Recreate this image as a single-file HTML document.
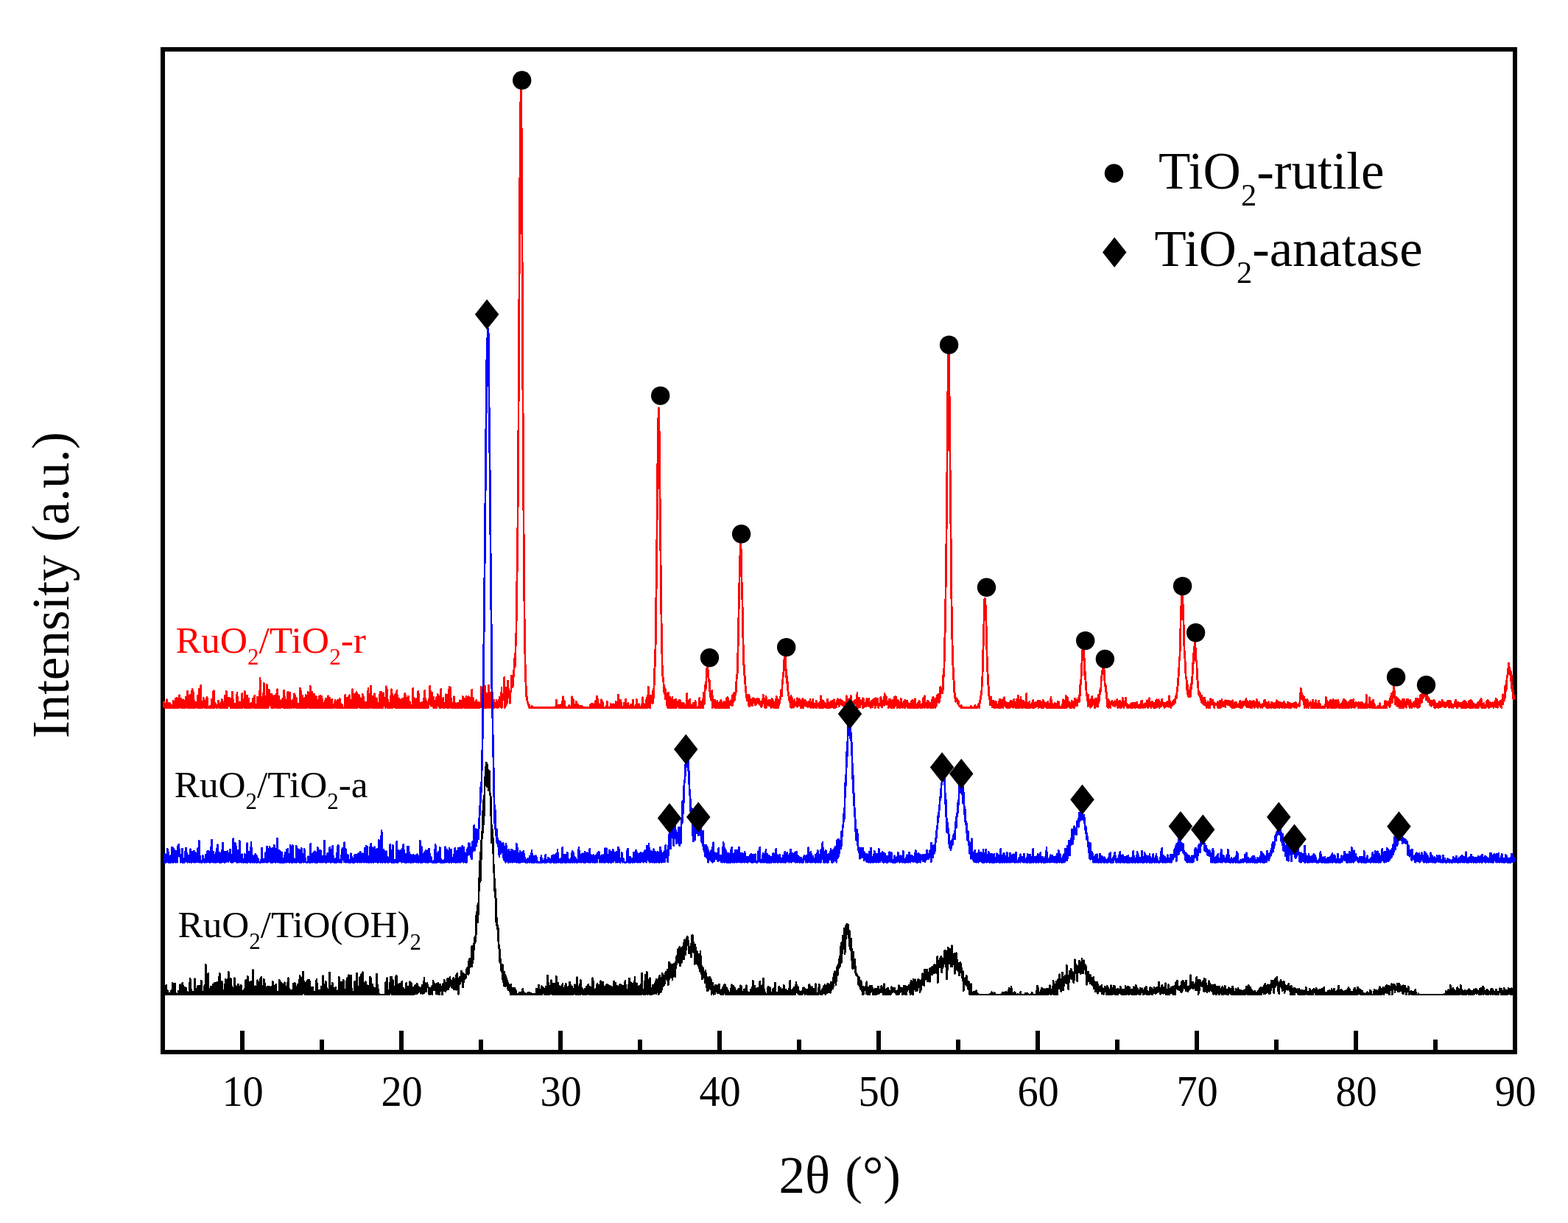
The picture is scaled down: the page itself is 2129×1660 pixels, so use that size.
<!DOCTYPE html>
<html lang="en"><head><meta charset="utf-8"><title>XRD patterns</title>
<style>
html,body{margin:0;padding:0;background:#fff;}
body{width:2129px;height:1660px;overflow:hidden;}
svg{display:block;}
text{font-family:"Liberation Serif","Times New Roman",serif;}
</style></head><body>
<svg width="2129" height="1660" viewBox="0 0 2129 1660">
<rect width="2129" height="1660" fill="#fff"/>
<g stroke="#000" stroke-width="6" fill="none"><rect x="221.0" y="67.0" width="1836.0" height="1361.0"/>
<line x1="329.0" y1="1428.0" x2="329.0" y2="1399"/>
<line x1="545.0" y1="1428.0" x2="545.0" y2="1399"/>
<line x1="761.0" y1="1428.0" x2="761.0" y2="1399"/>
<line x1="977.0" y1="1428.0" x2="977.0" y2="1399"/>
<line x1="1193.0" y1="1428.0" x2="1193.0" y2="1399"/>
<line x1="1409.0" y1="1428.0" x2="1409.0" y2="1399"/>
<line x1="1625.0" y1="1428.0" x2="1625.0" y2="1399"/>
<line x1="1841.0" y1="1428.0" x2="1841.0" y2="1399"/>
<line x1="2057.0" y1="1428.0" x2="2057.0" y2="1399"/>
<line x1="437.0" y1="1428.0" x2="437.0" y2="1411"/>
<line x1="653.0" y1="1428.0" x2="653.0" y2="1411"/>
<line x1="869.0" y1="1428.0" x2="869.0" y2="1411"/>
<line x1="1085.0" y1="1428.0" x2="1085.0" y2="1411"/>
<line x1="1301.0" y1="1428.0" x2="1301.0" y2="1411"/>
<line x1="1517.0" y1="1428.0" x2="1517.0" y2="1411"/>
<line x1="1733.0" y1="1428.0" x2="1733.0" y2="1411"/>
<line x1="1949.0" y1="1428.0" x2="1949.0" y2="1411"/>
</g>
<g id="curves">
<polyline fill="none" stroke="#ff0000" stroke-width="2.8" stroke-linejoin="round" shape-rendering="crispEdges" points="222.2,960.4 222.6,952.9 223.1,953.6 223.5,960.4 223.9,960.4 224.4,960.4 224.8,957.2 225.2,960.4 225.7,955.9 226.1,960.4 226.5,949.7 227,960.4 227.4,955.8 227.8,960.4 228.2,960.4 228.7,957.2 229.1,954.1 229.5,960.4 230,960.4 230.4,954.8 230.8,960.4 231.3,960.4 231.7,956.9 232.1,960.4 232.6,960.4 233,960.4 233.4,960.4 233.9,960.4 234.3,960.4 234.7,959.5 235.2,951.3 235.6,960.4 236,960.4 236.5,955.9 236.9,952.5 237.3,960.4 237.8,953.9 238.2,948.7 238.6,960.4 239,960.4 239.5,955.6 239.9,956.7 240.3,947.4 240.8,960.4 241.2,960.4 241.6,960.4 242.1,960.4 242.5,957.6 242.9,953.2 243.4,960.4 243.8,943.8 244.2,949.9 244.7,952 245.1,954.3 245.5,948.3 246,960.4 246.4,952 246.8,951.9 247.3,960.4 247.7,954.7 248.1,960.4 248.6,949.8 249,960.4 249.4,958.4 249.8,954.4 250.3,960.4 250.7,951.6 251.1,959.1 251.6,952.5 252,960.4 252.4,946.1 252.9,951.1 253.3,959.6 253.7,950.8 254.2,943.9 254.6,938.1 255,960.4 255.5,947.8 255.9,952.3 256.3,958.2 256.8,960.4 257.2,943.7 257.6,960.4 258.1,951 258.5,943 258.9,960.4 259.4,960.3 259.8,960.4 260.2,954.3 260.6,940.7 261.1,935.1 261.5,960.4 261.9,960.4 262.4,949.4 262.8,939.9 263.2,952.4 263.7,960.4 264.1,953.9 264.5,957.3 265,959.3 265.4,960.4 265.8,953 266.3,953.8 266.7,958.3 267.1,959.6 267.6,960.4 268,960.4 268.4,944.4 268.9,959.5 269.3,960.4 269.7,943.2 270.2,952 270.6,935.1 271,957.1 271.4,960.4 271.9,960.4 272.3,943.7 272.7,930.5 273.2,960.4 273.6,960.4 274,952.1 274.5,960.4 274.9,960.4 275.3,960.4 275.8,957 276.2,947.2 276.6,958.9 277.1,949.3 277.5,960.4 277.9,956 278.4,960.4 278.8,960.4 279.2,951.2 279.7,960.4 280.1,953.7 280.5,954.2 281,945.9 281.4,951.4 281.8,949.3 282.2,960.4 282.7,960.4 283.1,960.4 283.5,960.4 284,960.4 284.4,960.4 284.8,960.4 285.3,957.9 285.7,960.4 286.1,960.4 286.6,960.4 287,958.4 287.4,949.2 287.9,954.7 288.3,960.4 288.7,960.4 289.2,939.1 289.6,952.6 290,941 290.5,937.9 290.9,960.4 291.3,956.6 291.8,955.8 292.2,954.6 292.6,954.8 293,958.3 293.5,958.7 293.9,960.4 294.3,960.4 294.8,960.4 295.2,959.1 295.6,960.4 296.1,953.5 296.5,951.3 296.9,956.8 297.4,956.7 297.8,958.8 298.2,960.4 298.7,960.4 299.1,960.4 299.5,955.3 300,959.4 300.4,953.1 300.8,960.4 301.3,949.5 301.7,960.4 302.1,960.4 302.6,960.4 303,960.4 303.4,955.5 303.8,960.4 304.3,960.4 304.7,960.4 305.1,944.2 305.6,957.7 306,960.4 306.4,958 306.9,960.4 307.3,938.5 307.7,960.4 308.2,952.5 308.6,951.8 309,960.4 309.5,954.3 309.9,946.8 310.3,952.4 310.8,954.6 311.2,947.1 311.6,955.6 312.1,953.7 312.5,958.7 312.9,950.3 313.4,960.4 313.8,948.7 314.2,960.4 314.6,960.4 315.1,953.2 315.5,939 315.9,946.8 316.4,960.4 316.8,949.7 317.2,960.4 317.7,958.7 318.1,956.4 318.5,960.4 319,955.4 319.4,960.4 319.8,960.4 320.3,960.4 320.7,960.4 321.1,960.4 321.6,949.1 322,940.1 322.4,958.5 322.9,946.4 323.3,960.4 323.7,960.4 324.2,956.9 324.6,953.8 325,960.4 325.4,955.6 325.9,952.8 326.3,960.4 326.7,960.4 327.2,960.4 327.6,960.4 328,960.4 328.5,948.9 328.9,941 329.3,960.4 329.8,952.4 330.2,949.7 330.6,952.1 331.1,948.9 331.5,960.4 331.9,952.3 332.4,938.5 332.8,951.8 333.2,960.4 333.7,954.1 334.1,947.1 334.5,956.8 335,960.4 335.4,944.3 335.8,960.4 336.2,955.6 336.7,960.4 337.1,960.4 337.5,948 338,957.6 338.4,960.4 338.8,954.9 339.3,960.4 339.7,960.4 340.1,960.4 340.6,958.4 341,954.4 341.4,959.6 341.9,960.4 342.3,956.2 342.7,960.4 343.2,948.6 343.6,959.6 344,958.1 344.5,955.4 344.9,960.4 345.3,960.4 345.8,944.6 346.2,957.3 346.6,960.4 347,957.1 347.5,960.4 347.9,957.8 348.3,960.4 348.8,957.7 349.2,960.4 349.6,946.2 350.1,960.4 350.5,960.4 350.9,960.4 351.4,960.4 351.8,958.5 352.2,960.4 352.7,955.7 353.1,920.6 353.5,960.4 354,956.2 354.4,960.4 354.8,957.4 355.3,960.4 355.7,960.4 356.1,954.2 356.6,959.5 357,941.4 357.4,960.4 357.8,957 358.3,927.2 358.7,960.4 359.1,960.4 359.6,958.7 360,958.7 360.4,949.1 360.9,956.7 361.3,960.4 361.7,955.4 362.2,929.2 362.6,943.8 363,960.4 363.5,958.9 363.9,960.4 364.3,950.4 364.8,959 365.2,936.1 365.6,946.9 366.1,947.3 366.5,954.7 366.9,957 367.4,952.9 367.8,942.5 368.2,950.6 368.6,960.2 369.1,942.4 369.5,954.1 369.9,956.9 370.4,960.4 370.8,960.4 371.2,960.4 371.7,960.4 372.1,944.8 372.5,949.6 373,958 373.4,944.4 373.8,950.8 374.3,951.7 374.7,960.4 375.1,958.1 375.6,950 376,938.1 376.4,935.7 376.9,940.1 377.3,960.4 377.7,960.4 378.2,949.6 378.6,955.4 379,945.2 379.4,957 379.9,953.3 380.3,960.4 380.7,951 381.2,960.4 381.6,952 382,950.9 382.5,957.2 382.9,952.6 383.3,956 383.8,947.9 384.2,950.7 384.6,960.4 385.1,960.4 385.5,937.4 385.9,957.3 386.4,945.5 386.8,952.1 387.2,960.4 387.7,960.4 388.1,955.1 388.5,953.7 389,949.9 389.4,960.4 389.8,960.4 390.2,957.7 390.7,939.4 391.1,960.4 391.5,952.2 392,960.4 392.4,952.2 392.8,960.4 393.3,953 393.7,940.1 394.1,953.3 394.6,952.4 395,953.1 395.4,960.4 395.9,951.3 396.3,959.6 396.7,960.4 397.2,957.8 397.6,959.8 398,949.2 398.5,957.9 398.9,960.4 399.3,941.7 399.8,946.8 400.2,943.8 400.6,951 401,958.8 401.5,960.4 401.9,960.4 402.3,947.5 402.8,956.5 403.2,960.4 403.6,958.2 404.1,960.4 404.5,955.9 404.9,960.4 405.4,960.4 405.8,956.5 406.2,958.7 406.7,960.4 407.1,949.7 407.5,934.5 408,960.4 408.4,938.2 408.8,960.4 409.3,960.4 409.7,959.9 410.1,960.4 410.6,944 411,952.7 411.4,960.4 411.8,960.4 412.3,960.4 412.7,960.4 413.1,947.8 413.6,960.4 414,960.4 414.4,956.2 414.9,946.4 415.3,943.1 415.7,960.4 416.2,960.4 416.6,953 417,960.4 417.5,960.4 417.9,945.9 418.3,939.4 418.8,954.7 419.2,959.6 419.6,951.2 420.1,960.4 420.5,957.5 420.9,960.4 421.4,931.6 421.8,949.6 422.2,955.8 422.6,959.3 423.1,960.4 423.5,949.4 423.9,939.4 424.4,960.4 424.8,949.8 425.2,949.4 425.7,960.4 426.1,946.7 426.5,942.3 427,954.3 427.4,957.5 427.8,948.4 428.3,960.4 428.7,955.8 429.1,945.3 429.6,960.4 430,946.1 430.4,960.4 430.9,960.4 431.3,957.9 431.7,960.4 432.2,953.2 432.6,960.4 433,945.7 433.4,960.4 433.9,953.3 434.3,960.4 434.7,960.4 435.2,944.2 435.6,955 436,960.4 436.5,960.4 436.9,945.1 437.3,949.9 437.8,960.4 438.2,955.2 438.6,960.4 439.1,960.4 439.5,960.4 439.9,954.7 440.4,955.1 440.8,960.4 441.2,950.8 441.7,950.3 442.1,957.2 442.5,948 443,960.4 443.4,960.4 443.8,954.4 444.2,960.2 444.7,951.4 445.1,960.4 445.5,944.8 446,960.4 446.4,960.4 446.8,960.4 447.3,954.3 447.7,947 448.1,949.5 448.6,952.2 449,960.4 449.4,960.4 449.9,960.4 450.3,960.4 450.7,949.6 451.2,959.7 451.6,960.4 452,956.7 452.5,960.4 452.9,960.4 453.3,960.4 453.8,956.9 454.2,958.6 454.6,956.1 455,950.7 455.5,960.4 455.9,960.4 456.3,960.4 456.8,960.4 457.2,960.4 457.6,951.6 458.1,950.5 458.5,950.9 458.9,960.4 459.4,960.4 459.8,950.7 460.2,960.4 460.7,958.7 461.1,948 461.5,960.4 462,960.4 462.4,960.4 462.8,955.6 463.3,956.7 463.7,960.4 464.1,955.8 464.6,960.4 465,960.4 465.4,959.8 465.8,960.4 466.3,960.4 466.7,960.4 467.1,960.4 467.6,960.4 468,960.4 468.4,958.6 468.9,942.8 469.3,960.4 469.7,947.3 470.2,957.8 470.6,960.4 471,960.4 471.5,960.4 471.9,952.6 472.3,960.4 472.8,946.4 473.2,954.3 473.6,960.4 474.1,952.3 474.5,943.8 474.9,960.4 475.4,949.9 475.8,960.4 476.2,957.7 476.6,960.4 477.1,955.1 477.5,960.4 477.9,960.4 478.4,956 478.8,935.7 479.2,960.4 479.7,951.3 480.1,959.1 480.5,960.4 481,953.6 481.4,942.3 481.8,960.4 482.3,954.3 482.7,956.5 483.1,960.4 483.6,942.9 484,939 484.4,960.4 484.9,941.5 485.3,959.5 485.7,960.4 486.2,943.6 486.6,957.8 487,956.7 487.4,943.6 487.9,946.1 488.3,950.3 488.7,960.4 489.2,960.4 489.6,947.7 490,960.4 490.5,958 490.9,960.4 491.3,960.4 491.8,960.4 492.2,941.9 492.6,960.4 493.1,960.4 493.5,960.4 493.9,946.2 494.4,960.4 494.8,959.5 495.2,960.4 495.7,953.1 496.1,954 496.5,960.4 497,956 497.4,960.4 497.8,953.5 498.2,959.5 498.7,960.4 499.1,958.6 499.5,954.4 500,933.8 500.4,960.4 500.8,954.8 501.3,942.2 501.7,960.4 502.1,960.4 502.6,960.4 503,958.7 503.4,931.3 503.9,953.3 504.3,944.4 504.7,960.1 505.2,960.4 505.6,960.4 506,946.6 506.5,955.4 506.9,960.4 507.3,945.2 507.8,960.4 508.2,944.9 508.6,941.6 509,960.4 509.5,960.4 509.9,948 510.3,960.4 510.8,947.8 511.2,960.4 511.6,948.4 512.1,956.1 512.5,960.4 512.9,960.4 513.4,954.8 513.8,960.4 514.2,960.2 514.7,960.4 515.1,949.8 515.5,960.4 516,938.8 516.4,960.4 516.8,960.4 517.3,942.3 517.7,939.4 518.1,959.5 518.6,960.4 519,957.3 519.4,960.4 519.8,960.4 520.3,940.7 520.7,953.4 521.1,956.2 521.6,953.9 522,958.2 522.4,948.4 522.9,948.1 523.3,960.4 523.7,956.6 524.2,931.8 524.6,953.2 525,959.9 525.5,935.6 525.9,957.5 526.3,960.4 526.8,950.4 527.2,960.4 527.6,960.4 528.1,954.3 528.5,959.4 528.9,960.4 529.4,960.4 529.8,960.4 530.2,945.3 530.6,960.4 531.1,960.4 531.5,935.6 531.9,960.4 532.4,941.5 532.8,943.5 533.2,959.5 533.7,960.4 534.1,952.8 534.5,950.4 535,947.5 535.4,957 535.8,944.6 536.3,942.8 536.7,960.4 537.1,942.6 537.6,956 538,960.4 538.4,960.4 538.9,937.7 539.3,947.4 539.7,960.4 540.2,957.2 540.6,959.4 541,959.7 541.4,960.4 541.9,960.4 542.3,948.5 542.7,960.4 543.2,960.4 543.6,960.4 544,960.4 544.5,950 544.9,954 545.3,960.4 545.8,960.4 546.2,960.4 546.6,948 547.1,957.1 547.5,955.8 547.9,960.4 548.4,960.4 548.8,956.6 549.2,960.4 549.7,941.3 550.1,960.4 550.5,960.4 551,944.6 551.4,956.7 551.8,958.8 552.2,960.4 552.7,960.4 553.1,957.5 553.5,946.7 554,960.4 554.4,945.2 554.8,960.4 555.3,960.4 555.7,954.5 556.1,960.2 556.6,952.6 557,960.4 557.4,960.4 557.9,960.4 558.3,960.4 558.7,960.4 559.2,960.4 559.6,957.2 560,960.4 560.5,960.4 560.9,933.9 561.3,960.4 561.8,960.4 562.2,947.7 562.6,948.7 563,960.4 563.5,960.4 563.9,960.4 564.3,948.9 564.8,960.4 565.2,960.4 565.6,960.4 566.1,948.1 566.5,960.4 566.9,960.4 567.4,960.4 567.8,937.9 568.2,941.5 568.7,951.1 569.1,960.4 569.5,954.4 570,960.4 570.4,958.1 570.8,960.4 571.3,960.4 571.7,960.4 572.1,960.4 572.6,954.7 573,953.2 573.4,958.1 573.8,960.4 574.3,953.6 574.7,960.4 575.1,948.2 575.6,960.4 576,960.4 576.4,960.4 576.9,937.5 577.3,955.2 577.7,960.4 578.2,950.6 578.6,954.6 579,955.2 579.5,960.4 579.9,959.2 580.3,957.9 580.8,960.4 581.2,960.4 581.6,958.2 582.1,949.2 582.5,952.6 582.9,954 583.4,954 583.8,931.5 584.2,956.3 584.6,948.1 585.1,938 585.5,958.2 585.9,956.1 586.4,947.4 586.8,940.6 587.2,955.5 587.7,954.8 588.1,957.7 588.5,960.4 589,946.5 589.4,960.4 589.8,960.4 590.3,959.9 590.7,960.4 591.1,960.4 591.6,958 592,960.4 592.4,946.7 592.9,960.4 593.3,954.9 593.7,952 594.2,942.3 594.6,947.8 595,955.4 595.4,956.9 595.9,958.3 596.3,945.2 596.7,960.4 597.2,952 597.6,958.4 598,954.8 598.5,960.4 598.9,934.9 599.3,960.4 599.8,954.7 600.2,954.8 600.6,951.3 601.1,952.9 601.5,952.8 601.9,947.2 602.4,960.4 602.8,957.9 603.2,960.4 603.7,954.9 604.1,960.4 604.5,960.4 605,958.8 605.4,942.8 605.8,952.2 606.2,955.4 606.7,943.3 607.1,960.4 607.5,960.4 608,960.4 608.4,960.4 608.8,945.4 609.3,935.8 609.7,960.4 610.1,932.2 610.6,942.1 611,950.2 611.4,955 611.9,933.1 612.3,958.5 612.7,960.4 613.2,958 613.6,960.4 614,954.5 614.5,960.4 614.9,956.2 615.3,956.2 615.8,960.4 616.2,945.8 616.6,960.4 617,950.8 617.5,960.4 617.9,956.4 618.3,960.4 618.8,960.2 619.2,960.4 619.6,960.4 620.1,960.4 620.5,959.8 620.9,953.9 621.4,960.4 621.8,960.4 622.2,960.4 622.7,960.4 623.1,960.4 623.5,960.4 624,951.7 624.4,950.7 624.8,953.3 625.3,960.4 625.7,960.4 626.1,960.4 626.6,960.4 627,951.7 627.4,960.4 627.8,960.4 628.3,945.6 628.7,952.9 629.1,952.3 629.6,948.4 630,953.2 630.4,960.4 630.9,960.4 631.3,949.9 631.7,960.4 632.2,960.4 632.6,956.4 633,944.9 633.5,946.7 633.9,951.4 634.3,960.4 634.8,950.8 635.2,955.4 635.6,960.4 636.1,945.5 636.5,955.7 636.9,960.4 637.4,946.4 637.8,960.4 638.2,953.5 638.6,960.4 639.1,959.7 639.5,960.4 639.9,960.4 640.4,960.4 640.8,936.6 641.2,960.4 641.7,956.4 642.1,947 642.5,960.1 643,953.3 643.4,960.4 643.8,956.2 644.3,960.4 644.7,953.2 645.1,956.5 645.6,960.4 646,960.4 646.4,960.4 646.9,950.3 647.3,953.4 647.7,952.6 648.2,960.4 648.6,960.4 649,960.4 649.4,960.4 649.9,960.4 650.3,953.3 650.7,958.5 651.2,960.4 651.6,960.4 652,954.8 652.5,956 652.9,956.7 653.3,932.2 653.8,959.3 654.2,955.3 654.6,960.4 655.1,960 655.5,950.7 655.9,949.6 656.4,957.7 656.8,951.3 657.2,955.5 657.7,960.4 658.1,960.4 658.5,931.2 659,946.1 659.4,956.1 659.8,960.4 660.2,960.4 660.7,941.5 661.1,960.4 661.5,959.5 662,947.3 662.4,954.6 662.8,948.4 663.3,956.9 663.7,930.1 664.1,960.4 664.6,960.4 665,953.2 665.4,940.1 665.9,956.9 666.3,944.9 666.7,960.4 667.2,960.4 667.6,940.8 668,939.5 668.5,940.3 668.9,960.4 669.3,960.4 669.8,960.4 670.2,960 670.6,950 671,950.8 671.5,960.4 671.9,955.5 672.3,956.8 672.8,954.7 673.2,957.8 673.6,959.3 674.1,950.6 674.5,954.9 674.9,955 675.4,960.4 675.8,952.8 676.2,958 676.7,960.4 677.1,950.7 677.5,959.3 678,946.4 678.4,956.9 678.8,956.5 679.3,951.6 679.7,955.2 680.1,960 680.6,960.4 681,932.8 681.4,960.4 681.8,958.1 682.3,946.7 682.7,950 683.1,946.7 683.6,945.1 684,939.5 684.4,948.7 684.9,919.3 685.3,960.4 685.7,947.8 686.2,954.4 686.6,958.1 687,946.5 687.5,933.3 687.9,955.4 688.3,953.5 688.8,938.3 689.2,942.2 689.6,924.2 690.1,933.8 690.5,940.5 690.9,946.5 691.4,942.1 691.8,944 692.2,954.3 692.6,941.4 693.1,939.5 693.5,938.9 693.9,937.3 694.4,917 694.8,925.6 695.2,920.7 695.7,932.7 696.1,932.4 696.5,926.2 697,920.9 697.4,913.3 697.8,911.7 698.3,898.6 698.7,893.6 699.1,905.7 699.6,892.4 700,883.6 700.4,862.1 700.9,860 701.3,829 701.7,802.1 702.2,770.9 702.6,744.3 703,707.8 703.4,642.9 703.9,586.6 704.3,511.2 704.7,443.5 705.2,358.4 705.6,281.4 706,229.9 706.5,160.4 706.9,138.5 707.3,116.5 707.8,144.4 708.2,182.4 708.6,261.3 709.1,352.1 709.5,447.3 709.9,529.4 710.4,606.3 710.8,674.9 711.2,739.6 711.7,789.7 712.1,838.9 712.5,861.9 713,893.8 713.4,921.2 713.8,922.8 714.2,933.2 714.7,945.4 715.1,944.9 715.5,946.3 716,952.2 716.4,953.1 716.8,954 717.3,956.6 717.7,957.8 718.1,955.9 718.6,960.4 719,959.1 719.4,960.4 719.9,960.4 720.3,960.1 720.7,960.4 721.2,960.4 721.6,960.4 722,958.5 722.5,960.4 722.9,959.7 723.3,960.4 723.8,960.4 724.2,960.4 724.6,960.4 725,960.4 725.5,960.4 725.9,960.4 726.3,960.4 726.8,960.4 727.2,960.4 727.6,960.4 728.1,960.4 728.5,960.4 728.9,960.4 729.4,960.4 729.8,960.4 730.2,960.4 730.7,960.4 731.1,960.4 731.5,960.4 732,960.4 732.4,960.4 732.8,960.4 733.3,960.4 733.7,960.4 734.1,960.4 734.6,960.4 735,960.4 735.4,960.4 735.8,960.4 736.3,960.4 736.7,960.4 737.1,960.4 737.6,960.4 738,960.4 738.4,960.4 738.9,960.4 739.3,960.4 739.7,960.4 740.2,960.4 740.6,960.4 741,960.4 741.5,960.4 741.9,960.4 742.3,960.4 742.8,960.4 743.2,960.4 743.6,960.4 744.1,960.4 744.5,960.4 744.9,960.4 745.4,960.4 745.8,960.4 746.2,960.4 746.6,960.4 747.1,960.4 747.5,960.4 747.9,960.4 748.4,960.4 748.8,960.4 749.2,960.4 749.7,960.4 750.1,960.4 750.5,960.4 751,960.4 751.4,960.4 751.8,960.4 752.3,960.4 752.7,960.4 753.1,960.4 753.6,959.8 754,960.4 754.4,960.4 754.9,959.6 755.3,949.9 755.7,951.5 756.2,960.4 756.6,960.4 757,960.4 757.4,957.6 757.9,960.4 758.3,960.4 758.7,957.4 759.2,958.5 759.6,960.4 760,960.4 760.5,960.4 760.9,960.4 761.3,959.4 761.8,956.6 762.2,959.6 762.6,960.4 763.1,960.4 763.5,958.6 763.9,951 764.4,945.7 764.8,960.4 765.2,960.4 765.7,950.9 766.1,950.9 766.5,960.4 767,957.6 767.4,960.4 767.8,959 768.2,960.4 768.7,960.4 769.1,960.4 769.5,960.4 770,960.4 770.4,960.4 770.8,960.4 771.3,960.4 771.7,960.4 772.1,960.4 772.6,958.6 773,957 773.4,960.4 773.9,960.4 774.3,960.4 774.7,960.4 775.2,960.4 775.6,960.4 776,960.4 776.5,945.8 776.9,960.4 777.3,960.4 777.8,960.4 778.2,948.9 778.6,960.4 779,960.4 779.5,960.4 779.9,960.4 780.3,960.4 780.8,956.9 781.2,960.4 781.6,960.4 782.1,952 782.5,960.4 782.9,960.4 783.4,960.4 783.8,960.4 784.2,960.4 784.7,956.5 785.1,960.4 785.5,960.4 786,960.4 786.4,960.4 786.8,958.6 787.3,959.8 787.7,960.4 788.1,960.4 788.6,960.4 789,958.2 789.4,960.4 789.8,958.2 790.3,958.7 790.7,960.4 791.1,960.4 791.6,960.4 792,960.4 792.4,960.4 792.9,960.4 793.3,960.4 793.7,960.4 794.2,960.4 794.6,960.4 795,960.4 795.5,960.4 795.9,960.4 796.3,960.4 796.8,960.4 797.2,960.4 797.6,960.4 798.1,960.4 798.5,960.4 798.9,960.4 799.4,960.4 799.8,960.4 800.2,960.4 800.6,960.4 801.1,960.4 801.5,960.4 801.9,956 802.4,960.4 802.8,960.4 803.2,955.7 803.7,960.4 804.1,960.4 804.5,960.4 805,955.1 805.4,956.2 805.8,960.4 806.3,960.4 806.7,960.4 807.1,960.4 807.6,960.4 808,960.4 808.4,951.7 808.9,960.4 809.3,951.8 809.7,960.4 810.2,960.4 810.6,945 811,960.4 811.4,959.9 811.9,949.6 812.3,960.4 812.7,960.4 813.2,955.8 813.6,960.4 814,960.4 814.5,960.4 814.9,960.4 815.3,956.4 815.8,960.4 816.2,959.2 816.6,949.8 817.1,953.5 817.5,951.7 817.9,953.1 818.4,960.4 818.8,953.7 819.2,960.4 819.7,960.4 820.1,960.4 820.5,960.4 821,960.4 821.4,960.4 821.8,960.4 822.2,960.4 822.7,960.4 823.1,958.7 823.5,960.4 824,960.4 824.4,952.4 824.8,960.4 825.3,959.3 825.7,960.4 826.1,960.4 826.6,960.4 827,960.4 827.4,960.4 827.9,960.4 828.3,960.4 828.7,960.4 829.2,955.5 829.6,956.8 830,960.4 830.5,959.8 830.9,960.4 831.3,960.4 831.8,960.4 832.2,960.4 832.6,955.8 833,960.4 833.5,960.4 833.9,960.4 834.3,960.4 834.8,960.4 835.2,960.4 835.6,959.9 836.1,952 836.5,960.4 836.9,952.8 837.4,954.9 837.8,960.4 838.2,960.4 838.7,958 839.1,960.3 839.5,943.5 840,953 840.4,958.9 840.8,950.7 841.3,960.4 841.7,960.4 842.1,960.4 842.6,950.2 843,960.4 843.4,960.4 843.8,953.9 844.3,960.4 844.7,959.5 845.1,960.4 845.6,960.4 846,960.4 846.4,960.4 846.9,960.4 847.3,953.9 847.7,960.4 848.2,960.4 848.6,960.4 849,960.4 849.5,949.2 849.9,960.4 850.3,960.4 850.8,960.4 851.2,960.4 851.6,960.4 852.1,960.4 852.5,960.4 852.9,954.4 853.4,960.4 853.8,960.4 854.2,960.4 854.6,960.1 855.1,957.9 855.5,960.4 855.9,960.4 856.4,956.1 856.8,960.4 857.2,960.4 857.7,960.4 858.1,959.6 858.5,960.4 859,957.1 859.4,950 859.8,955.6 860.3,960.4 860.7,960.4 861.1,960.4 861.6,959.9 862,960.4 862.4,960.4 862.9,960.4 863.3,960.4 863.7,960.4 864.2,949.6 864.6,960.4 865,960.4 865.4,960.4 865.9,960.4 866.3,960.4 866.7,960.4 867.2,960.4 867.6,955.7 868,960.4 868.5,960.4 868.9,960.4 869.3,960.4 869.8,960.4 870.2,959.5 870.6,960.4 871.1,959.9 871.5,955.7 871.9,960.4 872.4,960.4 872.8,946.7 873.2,960.4 873.7,955.1 874.1,960.4 874.5,960.4 875,960.4 875.4,960.4 875.8,960.4 876.2,960.4 876.7,960.4 877.1,950 877.5,960.4 878,947.7 878.4,956.2 878.8,949.4 879.3,960.4 879.7,955.7 880.1,932 880.6,949 881,946 881.4,952 881.9,948.1 882.3,960.4 882.7,960.4 883.2,948.6 883.6,944.4 884,953.6 884.5,950.1 884.9,948.7 885.3,945.1 885.8,954.8 886.2,954.2 886.6,937.9 887,951.1 887.5,940 887.9,934.6 888.3,926.6 888.8,907.5 889.2,904.7 889.6,888 890.1,876.8 890.5,846.8 890.9,811.1 891.4,782.2 891.8,748 892.2,694.5 892.7,651.3 893.1,610.4 893.5,571.7 894,565.7 894.4,553.8 894.8,563.9 895.3,596.8 895.7,649.5 896.1,674.9 896.6,718.6 897,755.5 897.4,796.4 897.8,828.2 898.3,855.5 898.7,866.8 899.1,905.8 899.6,903.6 900,922.1 900.4,924.4 900.9,920.1 901.3,935.7 901.7,939 902.2,933.4 902.6,940.4 903,944.2 903.5,949 903.9,936.7 904.3,943.2 904.8,943.8 905.2,956.7 905.6,944.7 906.1,959.4 906.5,949 906.9,960.4 907.4,940.3 907.8,960.4 908.2,946.9 908.6,949.2 909.1,960.4 909.5,956.6 909.9,946.7 910.4,948.4 910.8,960.4 911.2,960.3 911.7,960.4 912.1,960.4 912.5,960.4 913,946 913.4,958.2 913.8,960.4 914.3,960.4 914.7,955.3 915.1,954.6 915.6,960.4 916,950.3 916.4,960.4 916.9,960.4 917.3,958.1 917.7,949 918.2,960.4 918.6,958.6 919,951.9 919.4,957 919.9,952.7 920.3,953.8 920.7,958.5 921.2,957.3 921.6,955 922,960.4 922.5,950.1 922.9,960.4 923.3,960.4 923.8,950.7 924.2,958.8 924.6,960.4 925.1,959 925.5,954.4 925.9,960.4 926.4,957.2 926.8,960.4 927.2,960.4 927.7,960.4 928.1,954 928.5,960.4 929,960.4 929.4,956.8 929.8,960.4 930.2,960.4 930.7,957.8 931.1,960.4 931.5,960.4 932,960.3 932.4,960.4 932.8,940.9 933.3,960.4 933.7,960.4 934.1,960.4 934.6,960.4 935,951.3 935.4,960.4 935.9,957.5 936.3,960.4 936.7,949.3 937.2,960.3 937.6,960.4 938,956.1 938.5,960.4 938.9,957.2 939.3,960.4 939.8,959.2 940.2,960.4 940.6,960.4 941,960.4 941.5,954.3 941.9,960.4 942.3,959.3 942.8,960.4 943.2,960.4 943.6,960.4 944.1,951.3 944.5,960.4 944.9,960.4 945.4,960.4 945.8,960.4 946.2,960.4 946.7,960.4 947.1,960.4 947.5,960.4 948,960.4 948.4,960.4 948.8,958.2 949.3,960.4 949.7,947.6 950.1,959.1 950.6,959.5 951,960.4 951.4,952.8 951.8,960.4 952.3,960.4 952.7,960.4 953.1,952.9 953.6,960.4 954,949.1 954.4,955.9 954.9,960.4 955.3,954.7 955.7,940 956.2,955.6 956.6,954.8 957,939.6 957.5,930.9 957.9,929.3 958.3,934.3 958.8,928.7 959.2,917.4 959.6,913.1 960.1,903.1 960.5,913 960.9,903.9 961.4,915.1 961.8,914.2 962.2,924.6 962.6,924.3 963.1,922 963.5,937.6 963.9,931.2 964.4,945.4 964.8,942.9 965.2,946 965.7,950.5 966.1,948.1 966.5,945.8 967,937.5 967.4,960.4 967.8,953.3 968.3,955.1 968.7,959.6 969.1,955.1 969.6,959.8 970,955.2 970.4,950.1 970.9,960.4 971.3,955.1 971.7,953.7 972.2,960.4 972.6,954.9 973,954.4 973.4,958 973.9,951.5 974.3,960.4 974.7,955.1 975.2,958.4 975.6,960.4 976,958.5 976.5,958.3 976.9,953.3 977.3,960.4 977.8,957.9 978.2,959.5 978.6,950.5 979.1,960.4 979.5,951.8 979.9,960.4 980.4,956.1 980.8,957.7 981.2,955.4 981.7,960.4 982.1,960.4 982.5,960.4 983,952 983.4,956.7 983.8,960.4 984.2,953.4 984.7,959.9 985.1,960.4 985.5,960.4 986,951.9 986.4,947.9 986.8,960.4 987.3,954.1 987.7,953.1 988.1,946.4 988.6,960.4 989,955.5 989.4,952.2 989.9,960.4 990.3,953.1 990.7,953.4 991.2,952.1 991.6,955.9 992,951.7 992.5,956.8 992.9,950.8 993.3,953 993.8,954.2 994.2,957.8 994.6,943.7 995,946 995.5,947 995.9,953.1 996.3,951.2 996.8,940.6 997.2,942.6 997.6,949.5 998.1,943.9 998.5,941.9 998.9,938.7 999.4,939.6 999.8,927.5 1000.2,920.4 1000.7,916.4 1001.1,915 1001.5,899.9 1002,882.6 1002.4,864.6 1002.8,845.5 1003.3,816.5 1003.7,799.5 1004.1,784.1 1004.6,773.1 1005,749.5 1005.4,737.8 1005.8,743 1006.3,746.8 1006.7,760.7 1007.1,788.9 1007.6,810.3 1008,814.3 1008.4,850.7 1008.9,865.9 1009.3,883 1009.7,901.9 1010.2,902.6 1010.6,916.5 1011,914.3 1011.5,925.1 1011.9,929 1012.3,933.2 1012.8,939.4 1013.2,943.1 1013.6,943.6 1014.1,950.6 1014.5,945.6 1014.9,946.3 1015.4,943.4 1015.8,947.8 1016.2,957.1 1016.6,949.3 1017.1,943.1 1017.5,958.7 1017.9,953.4 1018.4,949.3 1018.8,956.4 1019.2,953.3 1019.7,951.1 1020.1,956.6 1020.5,949.8 1021,949 1021.4,957.8 1021.8,952.5 1022.3,947.7 1022.7,953.7 1023.1,950.5 1023.6,949.9 1024,954.1 1024.4,948.4 1024.9,950.7 1025.3,957 1025.7,951 1026.2,949.3 1026.6,949.5 1027,955.8 1027.4,951.5 1027.9,947.9 1028.3,952.3 1028.7,948.7 1029.2,948 1029.6,953.9 1030,950.5 1030.5,955.2 1030.9,949.1 1031.3,954.4 1031.8,956.6 1032.2,953.8 1032.6,954.6 1033.1,952.3 1033.5,952 1033.9,960 1034.4,957.7 1034.8,953.9 1035.2,952.2 1035.7,954 1036.1,943.1 1036.5,949.8 1037,955.1 1037.4,951.7 1037.8,948.8 1038.2,953.2 1038.7,960.4 1039.1,954 1039.5,954.4 1040,945.7 1040.4,960.4 1040.8,947.5 1041.3,955.4 1041.7,950.7 1042.1,956.7 1042.6,954.6 1043,950.9 1043.4,955.1 1043.9,950.5 1044.3,956 1044.7,957.9 1045.2,956 1045.6,957.2 1046,955.7 1046.5,950.2 1046.9,960.4 1047.3,960.4 1047.8,956 1048.2,948.2 1048.6,950.8 1049,950.3 1049.5,950.6 1049.9,959.6 1050.3,955.5 1050.8,960.4 1051.2,958.9 1051.6,953 1052.1,960.4 1052.5,960.4 1052.9,960.4 1053.4,954.6 1053.8,950.1 1054.2,944.9 1054.7,950.1 1055.1,960.4 1055.5,960.4 1056,953.8 1056.4,949.8 1056.8,960.4 1057.3,956.3 1057.7,956.2 1058.1,952.5 1058.6,954 1059,950 1059.4,945.7 1059.8,949.1 1060.3,943.3 1060.7,936.8 1061.1,944.7 1061.6,944.8 1062,931.7 1062.4,922.8 1062.9,922 1063.3,915.6 1063.7,913.5 1064.2,910.3 1064.6,907.1 1065,892.4 1065.5,894.6 1065.9,894.7 1066.3,890.6 1066.8,892.4 1067.2,911.9 1067.6,908.9 1068.1,926.6 1068.5,918.5 1068.9,918.2 1069.4,933.6 1069.8,937.4 1070.2,940.1 1070.6,940.1 1071.1,947.3 1071.5,946.4 1071.9,951.2 1072.4,952.6 1072.8,950.1 1073.2,951.8 1073.7,959.9 1074.1,944.3 1074.5,952.3 1075,960.4 1075.4,948.3 1075.8,952.9 1076.3,952.8 1076.7,951.3 1077.1,956.8 1077.6,960.4 1078,954.3 1078.4,953.1 1078.9,949.8 1079.3,957.5 1079.7,955.3 1080.2,953.2 1080.6,956 1081,955.6 1081.4,953.4 1081.9,958.8 1082.3,947.7 1082.7,959.2 1083.2,954.9 1083.6,956.4 1084,957.9 1084.5,952.7 1084.9,950 1085.3,948.8 1085.8,952.6 1086.2,957.4 1086.6,950.9 1087.1,960.4 1087.5,955 1087.9,953.2 1088.4,952.9 1088.8,960.4 1089.2,960.4 1089.7,948.5 1090.1,957.8 1090.5,960.4 1091,960.4 1091.4,955.5 1091.8,950.4 1092.2,955.6 1092.7,950.5 1093.1,954.8 1093.5,953.6 1094,951.6 1094.4,957.5 1094.8,955 1095.3,957.8 1095.7,958.9 1096.1,953.6 1096.6,959.4 1097,955.5 1097.4,959.3 1097.9,956.5 1098.3,958.2 1098.7,951.9 1099.2,955.7 1099.6,956.4 1100,949.2 1100.5,960.4 1100.9,960.4 1101.3,960.4 1101.8,956.4 1102.2,954.7 1102.6,953.9 1103,955.5 1103.5,960.3 1103.9,949.1 1104.3,955.5 1104.8,957.5 1105.2,960.4 1105.6,954.9 1106.1,958.9 1106.5,958.7 1106.9,955.6 1107.4,955.8 1107.8,960.4 1108.2,951.4 1108.7,960.4 1109.1,960.4 1109.5,955.2 1110,955.9 1110.4,956.6 1110.8,958.1 1111.3,956.1 1111.7,959.3 1112.1,960.4 1112.6,953.5 1113,960.4 1113.4,958.1 1113.8,953.4 1114.3,956.6 1114.7,944.7 1115.1,960.4 1115.6,960.2 1116,956.2 1116.4,950.8 1116.9,957.6 1117.3,960.4 1117.7,951.6 1118.2,960.4 1118.6,957.3 1119,952.9 1119.5,959.3 1119.9,958.5 1120.3,954.5 1120.8,957.4 1121.2,955.6 1121.6,960.4 1122.1,957.3 1122.5,960.4 1122.9,960.4 1123.4,949.2 1123.8,954.9 1124.2,952.6 1124.6,960.4 1125.1,956.8 1125.5,957 1125.9,960.4 1126.4,954.3 1126.8,959.6 1127.2,957.3 1127.7,960.4 1128.1,952.1 1128.5,953.4 1129,954.8 1129.4,960 1129.8,959 1130.3,951.1 1130.7,957.4 1131.1,955.1 1131.6,955.7 1132,960.4 1132.4,949.7 1132.9,960.4 1133.3,955.2 1133.7,956.4 1134.2,960.4 1134.6,954.6 1135,953.9 1135.4,955.8 1135.9,959.7 1136.3,953.9 1136.7,951.1 1137.2,955 1137.6,948.7 1138,952.2 1138.5,953.1 1138.9,950 1139.3,958.7 1139.8,958.2 1140.2,953.6 1140.6,953.4 1141.1,949 1141.5,950.8 1141.9,955.2 1142.4,955 1142.8,956.8 1143.2,957 1143.7,957.3 1144.1,951.6 1144.5,957.6 1145,957 1145.4,954.7 1145.8,957.5 1146.2,956.2 1146.7,960.4 1147.1,953.3 1147.5,956.5 1148,954.2 1148.4,953.4 1148.8,960.4 1149.3,944.8 1149.7,954.5 1150.1,954.3 1150.6,960.4 1151,951.9 1151.4,952.8 1151.9,956 1152.3,953.2 1152.7,949 1153.2,955.4 1153.6,957.8 1154,948.4 1154.5,953.1 1154.9,954.9 1155.3,944.4 1155.8,953.4 1156.2,954.9 1156.6,952.9 1157,955.7 1157.5,952.7 1157.9,953.4 1158.3,956.7 1158.8,955.1 1159.2,952.3 1159.6,952.1 1160.1,951.6 1160.5,950.6 1160.9,952.7 1161.4,951.7 1161.8,955.4 1162.2,954.9 1162.7,949.5 1163.1,960.4 1163.5,952.1 1164,940.2 1164.4,960.4 1164.8,947.3 1165.3,960.4 1165.7,952.1 1166.1,947.1 1166.6,947.4 1167,957.9 1167.4,959.5 1167.8,960 1168.3,950.8 1168.7,955.6 1169.1,953.9 1169.6,952.9 1170,952.3 1170.4,951.7 1170.9,953.4 1171.3,960.4 1171.7,947.8 1172.2,960.4 1172.6,949.1 1173,956.9 1173.5,955 1173.9,956.3 1174.3,955.6 1174.8,954.3 1175.2,955.6 1175.6,958.9 1176.1,950.4 1176.5,956.6 1176.9,948.6 1177.4,955.1 1177.8,957.4 1178.2,952.6 1178.6,950.3 1179.1,958.2 1179.5,955.2 1179.9,947.9 1180.4,958.4 1180.8,958 1181.2,953.5 1181.7,959.4 1182.1,960.4 1182.5,960.4 1183,952.8 1183.4,951.3 1183.8,951.8 1184.3,952.8 1184.7,959.6 1185.1,951.3 1185.6,949.5 1186,957 1186.4,950.3 1186.9,955.7 1187.3,953.3 1187.7,952.8 1188.2,960.4 1188.6,947.9 1189,958 1189.4,954.6 1189.9,956.4 1190.3,952.6 1190.7,952.4 1191.2,954.4 1191.6,948.2 1192,953 1192.5,956 1192.9,960.4 1193.3,955.5 1193.8,955.6 1194.2,957.8 1194.6,957.9 1195.1,951.8 1195.5,949.8 1195.9,946.3 1196.4,949.4 1196.8,957.6 1197.2,953 1197.7,960.1 1198.1,951.7 1198.5,953.1 1199,957.1 1199.4,955.1 1199.8,956 1200.2,957.2 1200.7,949.2 1201.1,941.2 1201.5,951.1 1202,949.9 1202.4,954.2 1202.8,956 1203.3,945.6 1203.7,956.2 1204.1,953 1204.6,955.4 1205,952.7 1205.4,954.9 1205.9,952.4 1206.3,960.4 1206.7,956.1 1207.2,949.4 1207.6,959.9 1208,958 1208.5,949.4 1208.9,953.6 1209.3,950.9 1209.8,960.4 1210.2,955 1210.6,960.4 1211,960.4 1211.5,953.8 1211.9,950.7 1212.3,960.4 1212.8,960.4 1213.2,958.4 1213.6,956.3 1214.1,960.4 1214.5,946.3 1214.9,953.3 1215.4,957.4 1215.8,958.1 1216.2,945.6 1216.7,946.6 1217.1,958.3 1217.5,954.4 1218,950.4 1218.4,960.4 1218.8,958.8 1219.3,950.6 1219.7,959.1 1220.1,958 1220.6,960.4 1221,959.7 1221.4,953.5 1221.8,959.7 1222.3,960.4 1222.7,958.7 1223.1,948.3 1223.6,955.5 1224,958.4 1224.4,955.4 1224.9,954 1225.3,955.9 1225.7,960.4 1226.2,954.5 1226.6,957 1227,952.7 1227.5,960.4 1227.9,951.1 1228.3,958.5 1228.8,960.4 1229.2,950.2 1229.6,958.5 1230.1,955 1230.5,957.4 1230.9,951.6 1231.4,951.7 1231.8,951.2 1232.2,953.6 1232.6,960.4 1233.1,960.4 1233.5,956.2 1233.9,960.4 1234.4,955.1 1234.8,955.9 1235.2,960.4 1235.7,960.4 1236.1,960.4 1236.5,960.4 1237,959 1237.4,954.4 1237.8,951.5 1238.3,960.4 1238.7,960.4 1239.1,950.2 1239.6,953.8 1240,957.2 1240.4,960.4 1240.9,960.4 1241.3,957.4 1241.7,960.4 1242.2,948.7 1242.6,958.1 1243,957.2 1243.4,960.4 1243.9,960.4 1244.3,960.4 1244.7,960.4 1245.2,960.3 1245.6,956.4 1246,957.3 1246.5,953.8 1246.9,960.4 1247.3,958.2 1247.8,957.3 1248.2,950.9 1248.6,959 1249.1,957.6 1249.5,960.4 1249.9,955.9 1250.4,956.7 1250.8,960.4 1251.2,960.2 1251.7,958.2 1252.1,955.7 1252.5,960.4 1253,953.4 1253.4,959.8 1253.8,947.8 1254.2,950.6 1254.7,960.4 1255.1,960.4 1255.5,944.7 1256,954.9 1256.4,954.6 1256.8,960.1 1257.3,958.3 1257.7,954.7 1258.1,955.2 1258.6,960.4 1259,951.3 1259.4,956.6 1259.9,960.4 1260.3,951.8 1260.7,958.3 1261.2,953.9 1261.6,959.2 1262,955 1262.5,960.4 1262.9,953.8 1263.3,960.4 1263.8,955.4 1264.2,960.4 1264.6,956.2 1265,953.1 1265.5,952.6 1265.9,949 1266.3,960.4 1266.8,946.6 1267.2,946.8 1267.6,960.4 1268.1,957.6 1268.5,957.8 1268.9,954.9 1269.4,952.5 1269.8,960.4 1270.2,949.1 1270.7,954.2 1271.1,958.5 1271.5,947.1 1272,954.7 1272.4,943.7 1272.8,947.5 1273.3,950.5 1273.7,942.5 1274.1,944 1274.6,951.2 1275,954.1 1275.4,949 1275.8,942.7 1276.3,947.5 1276.7,932.4 1277.1,940.5 1277.6,939.6 1278,938.9 1278.4,939.8 1278.9,935.3 1279.3,933.9 1279.7,941 1280.2,936 1280.6,916.8 1281,921.3 1281.5,913 1281.9,907.8 1282.3,890.3 1282.8,868.2 1283.2,856.5 1283.6,837 1284.1,799 1284.5,775.2 1284.9,740 1285.4,686.5 1285.8,658.4 1286.2,600.1 1286.6,554.1 1287.1,519.5 1287.5,496.4 1287.9,474.1 1288.4,486.1 1288.8,503.3 1289.2,548.5 1289.7,586.8 1290.1,636.1 1290.5,674.6 1291,718.5 1291.4,765 1291.8,806.8 1292.3,831.5 1292.7,859.9 1293.1,874.9 1293.6,902.3 1294,900.6 1294.4,919.7 1294.9,922.8 1295.3,925.9 1295.7,939.1 1296.2,940.2 1296.6,946.9 1297,947.1 1297.4,952.3 1297.9,946.8 1298.3,948.4 1298.7,949.1 1299.2,948.4 1299.6,948.9 1300,953.5 1300.5,954 1300.9,956 1301.3,954.7 1301.8,951.8 1302.2,958 1302.6,957.8 1303.1,958 1303.5,958 1303.9,959.8 1304.4,958.5 1304.8,960.3 1305.2,957.2 1305.7,957.8 1306.1,960.4 1306.5,960.4 1307,960.4 1307.4,960.4 1307.8,960.4 1308.2,960.4 1308.7,960 1309.1,960.4 1309.5,960.4 1310,960.4 1310.4,960.4 1310.8,960.4 1311.3,960.4 1311.7,960.4 1312.1,960.4 1312.6,960.4 1313,960.4 1313.4,960.4 1313.9,960.4 1314.3,960.4 1314.7,960.4 1315.2,960.2 1315.6,960.4 1316,960.4 1316.5,960.4 1316.9,960.4 1317.3,960.4 1317.8,960.4 1318.2,958.7 1318.6,960.4 1319,960.4 1319.5,960.4 1319.9,960.4 1320.3,960.4 1320.8,960.4 1321.2,960.4 1321.6,960.4 1322.1,960.4 1322.5,960.4 1322.9,960.4 1323.4,960.4 1323.8,956.9 1324.2,960.4 1324.7,959.3 1325.1,960.4 1325.5,960.4 1326,960.4 1326.4,960.4 1326.8,960.4 1327.3,960.4 1327.7,959.2 1328.1,957.4 1328.6,955.7 1329,958.5 1329.4,955.2 1329.8,960.4 1330.3,951.5 1330.7,952.4 1331.1,950.6 1331.6,944.8 1332,945.9 1332.4,937.6 1332.9,937.2 1333.3,927 1333.7,924.3 1334.2,909.4 1334.6,890.1 1335,879.8 1335.5,867.3 1335.9,846.8 1336.3,832.1 1336.8,813.9 1337.2,812.4 1337.6,815.9 1338.1,821 1338.5,835.2 1338.9,843.3 1339.4,859.1 1339.8,876.3 1340.2,895.2 1340.6,908.3 1341.1,915 1341.5,926.3 1341.9,929.7 1342.4,931.9 1342.8,945 1343.2,944.2 1343.7,949.1 1344.1,948 1344.5,957 1345,951.3 1345.4,946.2 1345.8,953.2 1346.3,952.1 1346.7,953.1 1347.1,959.6 1347.6,951.6 1348,955.1 1348.4,953.3 1348.9,951.9 1349.3,951.4 1349.7,960.4 1350.2,953.8 1350.6,958.9 1351,956 1351.4,959.8 1351.9,960.4 1352.3,952.5 1352.7,956.3 1353.2,958.2 1353.6,958.6 1354,956 1354.5,956.7 1354.9,960.4 1355.3,960.4 1355.8,958 1356.2,953.5 1356.6,951.5 1357.1,960.4 1357.5,949 1357.9,957.3 1358.4,955.6 1358.8,960.1 1359.2,960.4 1359.7,950.6 1360.1,958.9 1360.5,958.1 1361,952.4 1361.4,949.8 1361.8,960.4 1362.2,958.7 1362.7,957.4 1363.1,949.2 1363.5,946.8 1364,958.2 1364.4,956.4 1364.8,954.1 1365.3,952.7 1365.7,959.6 1366.1,953.7 1366.6,960.4 1367,960.4 1367.4,960.4 1367.9,956.7 1368.3,954.4 1368.7,960.4 1369.2,960.4 1369.6,958.6 1370,960.4 1370.5,955.1 1370.9,952.9 1371.3,960.4 1371.8,954.5 1372.2,958.5 1372.6,951.2 1373,956.3 1373.5,958.7 1373.9,957.1 1374.3,952.7 1374.8,957 1375.2,957.4 1375.6,960.4 1376.1,955.3 1376.5,957 1376.9,949 1377.4,957.7 1377.8,958.2 1378.2,960.2 1378.7,954.3 1379.1,958.3 1379.5,960.4 1380,950.2 1380.4,949.2 1380.8,959.9 1381.3,960.4 1381.7,952.5 1382.1,960.4 1382.6,944.3 1383,957.6 1383.4,952.9 1383.8,960.4 1384.3,957.7 1384.7,952.4 1385.1,955.4 1385.6,959.7 1386,946.3 1386.4,953.9 1386.9,957.9 1387.3,960.4 1387.7,959.1 1388.2,951.3 1388.6,960.4 1389,957 1389.5,960.4 1389.9,951.4 1390.3,958.4 1390.8,953.5 1391.2,954.8 1391.6,960.3 1392.1,954.2 1392.5,953.2 1392.9,960.4 1393.4,954.5 1393.8,941.4 1394.2,958.6 1394.6,954.6 1395.1,960.4 1395.5,954.9 1395.9,960.1 1396.4,953.9 1396.8,957.9 1397.2,960.4 1397.7,952.4 1398.1,958.6 1398.5,960.4 1399,957.2 1399.4,960.4 1399.8,955.9 1400.3,958 1400.7,959.2 1401.1,954.5 1401.6,960.4 1402,953.1 1402.4,960.4 1402.9,950.3 1403.3,956.9 1403.7,958.8 1404.2,960.4 1404.6,955.3 1405,958.6 1405.4,958.5 1405.9,953.1 1406.3,959.7 1406.7,958.9 1407.2,956 1407.6,953.2 1408,958.6 1408.5,957 1408.9,957.6 1409.3,954.1 1409.8,950.9 1410.2,960.4 1410.6,958.4 1411.1,958.1 1411.5,954.8 1411.9,951 1412.4,958.1 1412.8,957 1413.2,952.4 1413.7,960.4 1414.1,960.4 1414.5,959.9 1415,957.7 1415.4,956.9 1415.8,960.2 1416.2,949.9 1416.7,960.4 1417.1,959.1 1417.5,952.9 1418,954.4 1418.4,958.2 1418.8,956.2 1419.3,954.1 1419.7,958.2 1420.1,954.6 1420.6,960.4 1421,957.6 1421.4,960.4 1421.9,960.4 1422.3,960.4 1422.7,952.4 1423.2,960.4 1423.6,956.8 1424,960.4 1424.5,958.9 1424.9,959.6 1425.3,960.4 1425.8,954.4 1426.2,960.4 1426.6,955.2 1427,945.9 1427.5,960.4 1427.9,958.1 1428.3,960.4 1428.8,958.5 1429.2,960.4 1429.6,955.6 1430.1,960.4 1430.5,960.4 1430.9,960.4 1431.4,960.4 1431.8,959.7 1432.2,954.4 1432.7,959.9 1433.1,960.4 1433.5,960.4 1434,957.9 1434.4,960.4 1434.8,955.5 1435.3,956.9 1435.7,960.4 1436.1,952.7 1436.6,960.4 1437,959.3 1437.4,952.5 1437.8,960.4 1438.3,960.4 1438.7,960.4 1439.1,960.4 1439.6,959 1440,960.4 1440.4,960.4 1440.9,960.4 1441.3,959.3 1441.7,960.4 1442.2,956.5 1442.6,958.2 1443,960.4 1443.5,949.6 1443.9,960.4 1444.3,954.7 1444.8,960.4 1445.2,956.3 1445.6,955.8 1446.1,953.9 1446.5,951.1 1446.9,960.4 1447.4,944.6 1447.8,956 1448.2,960.4 1448.6,960.4 1449.1,946.1 1449.5,950 1449.9,958.3 1450.4,954.2 1450.8,951.8 1451.2,957.6 1451.7,959.5 1452.1,957.6 1452.5,953.6 1453,956.8 1453.4,960.4 1453.8,953.9 1454.3,960.4 1454.7,960.4 1455.1,951.2 1455.6,956 1456,955.6 1456.4,956.3 1456.9,951.9 1457.3,956.6 1457.7,960.4 1458.2,954.9 1458.6,960.4 1459,960.4 1459.4,948.1 1459.9,949.9 1460.3,957.5 1460.7,956.5 1461.2,953.9 1461.6,949.9 1462,957.3 1462.5,957.6 1462.9,955.7 1463.3,951 1463.8,950.3 1464.2,951.8 1464.6,946.8 1465.1,953 1465.5,945.6 1465.9,943.6 1466.4,944.2 1466.8,928.9 1467.2,929.1 1467.7,927.9 1468.1,917.7 1468.5,916.6 1469,896.1 1469.4,892.2 1469.8,882.2 1470.2,887.5 1470.7,886.1 1471.1,875.6 1471.5,895.5 1472,890.3 1472.4,898.3 1472.8,916.3 1473.3,911.9 1473.7,920.7 1474.1,925.4 1474.6,928.5 1475,939 1475.4,943.6 1475.9,941.6 1476.3,949.8 1476.7,946.9 1477.2,958.7 1477.6,943.4 1478,954.6 1478.5,951.1 1478.9,950.6 1479.3,952.8 1479.8,953.7 1480.2,953.6 1480.6,960.4 1481,957.3 1481.5,948.8 1481.9,958.6 1482.3,958.7 1482.8,945.3 1483.2,949.8 1483.6,948.6 1484.1,954.8 1484.5,953.8 1484.9,950.7 1485.4,952.4 1485.8,954.9 1486.2,960.4 1486.7,958.7 1487.1,960.4 1487.5,948.1 1488,956.9 1488.4,954.8 1488.8,952.2 1489.3,953.9 1489.7,951.5 1490.1,956.2 1490.6,959.3 1491,943.7 1491.4,953.8 1491.8,951.3 1492.3,950.9 1492.7,951.3 1493.1,943.4 1493.6,937 1494,941.4 1494.4,934.4 1494.9,933.1 1495.3,918.5 1495.7,924.1 1496.2,914 1496.6,910.5 1497,913.1 1497.5,903 1497.9,905.7 1498.3,908.5 1498.8,910.2 1499.2,909.5 1499.6,919.8 1500.1,927.1 1500.5,930.9 1500.9,930 1501.4,930.7 1501.8,939 1502.2,942.4 1502.6,940.1 1503.1,953.4 1503.5,955.6 1503.9,960 1504.4,948.9 1504.8,960.4 1505.2,954.2 1505.7,951.2 1506.1,959.9 1506.5,957.7 1507,955.5 1507.4,953.2 1507.8,960.4 1508.3,954.9 1508.7,952.8 1509.1,955 1509.6,955.8 1510,951.3 1510.4,955.5 1510.9,956.9 1511.3,957.9 1511.7,953.7 1512.2,957.3 1512.6,954.2 1513,956 1513.4,951.9 1513.9,959 1514.3,956.1 1514.7,955.4 1515.2,955.4 1515.6,952.1 1516,955.1 1516.5,953.2 1516.9,949.2 1517.3,953.4 1517.8,960.4 1518.2,960.4 1518.6,954.1 1519.1,957.4 1519.5,954.9 1519.9,957.1 1520.4,951.3 1520.8,951.4 1521.2,960.4 1521.7,955.5 1522.1,957.6 1522.5,960.4 1523,953.7 1523.4,956.9 1523.8,954.6 1524.2,946.9 1524.7,951.3 1525.1,951.8 1525.5,957.9 1526,960.4 1526.4,951.9 1526.8,957.6 1527.3,956.1 1527.7,957.7 1528.1,955.9 1528.6,947.3 1529,957.5 1529.4,957.4 1529.9,955.9 1530.3,955.2 1530.7,960.4 1531.2,960.4 1531.6,958.5 1532,957.3 1532.5,959.7 1532.9,960.2 1533.3,959.8 1533.8,958.3 1534.2,957.1 1534.6,960.4 1535,958.6 1535.5,955.2 1535.9,956.9 1536.3,960.4 1536.8,958 1537.2,957.2 1537.6,954.1 1538.1,960.4 1538.5,954.2 1538.9,959 1539.4,956.1 1539.8,954.7 1540.2,959.9 1540.7,960.2 1541.1,957.5 1541.5,954.5 1542,959.3 1542.4,960.4 1542.8,959.7 1543.3,955.9 1543.7,952.9 1544.1,959.1 1544.6,958.1 1545,957.9 1545.4,957.7 1545.8,960.4 1546.3,958.5 1546.7,956.3 1547.1,957.1 1547.6,957.4 1548,960.4 1548.4,959.3 1548.9,960.4 1549.3,953.5 1549.7,952 1550.2,956.1 1550.6,951.2 1551,958.3 1551.5,958.2 1551.9,960.4 1552.3,956.4 1552.8,959.1 1553.2,957.3 1553.6,955.4 1554.1,958.6 1554.5,960.4 1554.9,957.2 1555.4,957.5 1555.8,957.1 1556.2,954.5 1556.6,958.4 1557.1,958 1557.5,950.8 1557.9,953.2 1558.4,957.5 1558.8,960.4 1559.2,959.1 1559.7,955.9 1560.1,954.1 1560.5,947.9 1561,958.7 1561.4,956.3 1561.8,958.8 1562.3,956.4 1562.7,958.5 1563.1,960.4 1563.6,953.4 1564,956.2 1564.4,952.2 1564.9,958.9 1565.3,956 1565.7,955.2 1566.2,960.4 1566.6,960.4 1567,954.2 1567.4,956.7 1567.9,960.4 1568.3,959.7 1568.7,960.4 1569.2,959 1569.6,951 1570,959.2 1570.5,949.6 1570.9,958.3 1571.3,959.7 1571.8,951.2 1572.2,953.4 1572.6,951.9 1573.1,949.8 1573.5,951.9 1573.9,952.1 1574.4,960.4 1574.8,959.8 1575.2,955 1575.7,956.3 1576.1,953.5 1576.5,958.6 1577,952.2 1577.4,949.1 1577.8,954.5 1578.2,952.1 1578.7,954.7 1579.1,953.4 1579.5,955.7 1580,958.5 1580.4,955 1580.8,955.6 1581.3,960.4 1581.7,954.4 1582.1,956 1582.6,955.6 1583,957.4 1583.4,953.7 1583.9,953.8 1584.3,958.8 1584.7,954.4 1585.2,952.8 1585.6,952.3 1586,958.6 1586.5,959.5 1586.9,955.5 1587.3,959 1587.8,944.7 1588.2,958 1588.6,957.2 1589,952.3 1589.5,955.7 1589.9,960.4 1590.3,954.1 1590.8,957.8 1591.2,955.7 1591.6,957.8 1592.1,955.5 1592.5,953.9 1592.9,951.5 1593.4,955.9 1593.8,952.9 1594.2,954.9 1594.7,949.7 1595.1,950.4 1595.5,954 1596,946.6 1596.4,947.6 1596.8,944.2 1597.3,947.8 1597.7,942.9 1598.1,938.8 1598.6,935.1 1599,931.6 1599.4,929.2 1599.8,921.7 1600.3,916.2 1600.7,916.7 1601.1,895.9 1601.6,896.4 1602,889.7 1602.4,870.3 1602.9,853 1603.3,833 1603.7,826.3 1604.2,815.3 1604.6,816.8 1605,802.7 1605.5,809.6 1605.9,815.6 1606.3,824.3 1606.8,838.2 1607.2,850.7 1607.6,860.9 1608.1,885 1608.5,884.4 1608.9,893.7 1609.4,904.2 1609.8,912.1 1610.2,920 1610.6,920.7 1611.1,922.2 1611.5,932.1 1611.9,936.8 1612.4,941.7 1612.8,930.5 1613.2,938.9 1613.7,945.7 1614.1,937.1 1614.5,944.7 1615,944.2 1615.4,942.9 1615.8,940.5 1616.3,945.4 1616.7,932.9 1617.1,935.9 1617.6,929.4 1618,926.6 1618.4,928 1618.9,918.3 1619.3,912.5 1619.7,899.3 1620.2,900.7 1620.6,892.1 1621,884.4 1621.4,878.1 1621.9,884.6 1622.3,871.4 1622.7,876.7 1623.2,879.3 1623.6,896.2 1624,896.2 1624.5,897.1 1624.9,898.3 1625.3,915.6 1625.8,921.7 1626.2,924.6 1626.6,930.1 1627.1,937.1 1627.5,940 1627.9,943.3 1628.4,943.2 1628.8,943.2 1629.2,940.5 1629.7,945.9 1630.1,946.1 1630.5,949.9 1631,946.6 1631.4,953.3 1631.8,943.9 1632.2,951.1 1632.7,947 1633.1,955.3 1633.5,949.6 1634,950.9 1634.4,954.7 1634.8,955 1635.3,956.8 1635.7,946.9 1636.1,949.8 1636.6,952.6 1637,953.5 1637.4,957.5 1637.9,959.1 1638.3,960.4 1638.7,956.5 1639.2,955 1639.6,958.7 1640,951.8 1640.5,953.3 1640.9,953.4 1641.3,960.4 1641.8,955.5 1642.2,954.7 1642.6,959.5 1643,960.4 1643.5,948.9 1643.9,953.5 1644.3,956.9 1644.8,949.6 1645.2,951.4 1645.6,954.3 1646.1,954.5 1646.5,953.3 1646.9,950.7 1647.4,955.3 1647.8,957.2 1648.2,953.6 1648.7,960.4 1649.1,956 1649.5,957.1 1650,955.9 1650.4,956.5 1650.8,954.9 1651.3,955.8 1651.7,956.2 1652.1,956.6 1652.6,954.8 1653,957.9 1653.4,952.7 1653.8,960.4 1654.3,955.3 1654.7,954.6 1655.1,960.4 1655.6,957.4 1656,951.4 1656.4,956.8 1656.9,959.3 1657.3,960.4 1657.7,955.1 1658.2,956 1658.6,953.7 1659,948.9 1659.5,956.5 1659.9,955.6 1660.3,958.6 1660.8,956.8 1661.2,956.2 1661.6,953.8 1662.1,954.2 1662.5,958.7 1662.9,957.9 1663.4,951.2 1663.8,959.4 1664.2,953.8 1664.6,950.9 1665.1,953.4 1665.5,955.4 1665.9,951.4 1666.4,954.8 1666.8,955.9 1667.2,957 1667.7,952.6 1668.1,953.6 1668.5,951 1669,957.2 1669.4,956.6 1669.8,957.5 1670.3,954.9 1670.7,958.5 1671.1,952.2 1671.6,954.8 1672,959.1 1672.4,960.4 1672.9,960.4 1673.3,950.7 1673.7,956 1674.2,955.4 1674.6,957.3 1675,954.4 1675.4,960.4 1675.9,960.4 1676.3,960.4 1676.7,955.5 1677.2,952.9 1677.6,954.1 1678,955.8 1678.5,960 1678.9,952.8 1679.3,956.7 1679.8,956 1680.2,955.9 1680.6,957 1681.1,957.8 1681.5,957.4 1681.9,960 1682.4,954.8 1682.8,956.3 1683.2,952 1683.7,960.4 1684.1,951.5 1684.5,955.9 1685,956 1685.4,958.3 1685.8,958.3 1686.2,960.4 1686.7,952.5 1687.1,956.4 1687.5,953.3 1688,953.2 1688.4,957.3 1688.8,956.4 1689.3,956.9 1689.7,951.9 1690.1,955 1690.6,954.9 1691,953.3 1691.4,956 1691.9,948.7 1692.3,958.8 1692.7,951.3 1693.2,951.1 1693.6,959.7 1694,953.2 1694.5,954.9 1694.9,952.8 1695.3,959.9 1695.8,954.8 1696.2,959.2 1696.6,957.1 1697,951.3 1697.5,956.4 1697.9,960.4 1698.3,960.4 1698.8,960.1 1699.2,952.6 1699.6,958.5 1700.1,960.4 1700.5,952.4 1700.9,955.3 1701.4,955.1 1701.8,958.9 1702.2,951.2 1702.7,956.9 1703.1,960.4 1703.5,960.4 1704,959.3 1704.4,956.9 1704.8,953.7 1705.3,958.8 1705.7,958.5 1706.1,949.2 1706.6,956.3 1707,958.2 1707.4,956.5 1707.8,960.4 1708.3,954.8 1708.7,953.2 1709.1,958.7 1709.6,953.4 1710,957.6 1710.4,955.7 1710.9,959.1 1711.3,959.4 1711.7,960.4 1712.2,956 1712.6,957.7 1713,957.3 1713.5,960.4 1713.9,960.4 1714.3,959 1714.8,955.2 1715.2,956 1715.6,959.1 1716.1,955.9 1716.5,950.8 1716.9,956.3 1717.4,950.2 1717.8,955.6 1718.2,952.3 1718.6,958.5 1719.1,953 1719.5,960.4 1719.9,956.4 1720.4,958 1720.8,960.4 1721.2,960.4 1721.7,953.4 1722.1,955.3 1722.5,952.9 1723,956.6 1723.4,960.4 1723.8,956.4 1724.3,959.1 1724.7,959.1 1725.1,958.8 1725.6,959.8 1726,960.4 1726.4,953 1726.9,955.9 1727.3,959.8 1727.7,958.9 1728.2,954.1 1728.6,956.2 1729,956.9 1729.4,960.4 1729.9,959.2 1730.3,960.4 1730.7,960.4 1731.2,954.6 1731.6,958.8 1732,959.1 1732.5,960.4 1732.9,955.1 1733.3,950.7 1733.8,955.9 1734.2,954.5 1734.6,960.4 1735.1,957.2 1735.5,957.3 1735.9,952.8 1736.4,958.1 1736.8,960.4 1737.2,958.4 1737.7,959.6 1738.1,953 1738.5,955.9 1739,957 1739.4,957.6 1739.8,955.2 1740.2,959.8 1740.7,960.4 1741.1,960.4 1741.5,954.3 1742,956.4 1742.4,955.8 1742.8,957.9 1743.3,952.6 1743.7,960.4 1744.1,954 1744.6,960.4 1745,959.9 1745.4,960.4 1745.9,957.8 1746.3,959 1746.7,956.5 1747.2,960.1 1747.6,960.4 1748,956.2 1748.5,953.5 1748.9,955.5 1749.3,958 1749.8,956.6 1750.2,960.4 1750.6,959.1 1751,954 1751.5,956.3 1751.9,960.4 1752.3,954.9 1752.8,958.2 1753.2,955 1753.6,960.4 1754.1,959.7 1754.5,956.4 1754.9,956.1 1755.4,955.4 1755.8,957.7 1756.2,958 1756.7,955.5 1757.1,954.1 1757.5,960.4 1758,958 1758.4,958.5 1758.8,956.3 1759.3,953.6 1759.7,960.4 1760.1,955.4 1760.6,960.4 1761,959.2 1761.4,957.7 1761.8,956.5 1762.3,957.6 1762.7,956.5 1763.1,956.2 1763.6,955.5 1764,959 1764.4,957.2 1764.9,953 1765.3,947 1765.7,945 1766.2,933.9 1766.6,946.7 1767,948.6 1767.5,943.5 1767.9,941.2 1768.3,945 1768.8,948.7 1769.2,946 1769.6,947.7 1770.1,954.8 1770.5,956.4 1770.9,945.7 1771.4,960.4 1771.8,954.3 1772.2,956.7 1772.6,949.7 1773.1,953.8 1773.5,960.4 1773.9,951.1 1774.4,960.4 1774.8,949.2 1775.2,950.4 1775.7,959.1 1776.1,955 1776.5,958.5 1777,960.4 1777.4,954.2 1777.8,957.2 1778.3,955.5 1778.7,954.2 1779.1,952.8 1779.6,954.4 1780,960.4 1780.4,960 1780.9,958.2 1781.3,960.4 1781.7,960.4 1782.2,950 1782.6,957.7 1783,950.1 1783.4,960.4 1783.9,960.4 1784.3,960.4 1784.7,960.4 1785.2,960.4 1785.6,960.4 1786,960.4 1786.5,950.6 1786.9,956.6 1787.3,960.4 1787.8,960.4 1788.2,956.5 1788.6,957.6 1789.1,960.4 1789.5,955.3 1789.9,960.4 1790.4,960.4 1790.8,951 1791.2,960.4 1791.7,960.4 1792.1,955 1792.5,960.4 1793,960.4 1793.4,960.4 1793.8,960.4 1794.2,960.4 1794.7,959.8 1795.1,960.4 1795.5,960.2 1796,960.4 1796.4,958.7 1796.8,960.4 1797.3,960.4 1797.7,960.4 1798.1,960.4 1798.6,960.4 1799,960.4 1799.4,956.4 1799.9,955.2 1800.3,946.6 1800.7,955.7 1801.2,950.6 1801.6,956.2 1802,960.4 1802.5,956.7 1802.9,960.4 1803.3,958 1803.8,960.1 1804.2,960.4 1804.6,952.6 1805,953.1 1805.5,956.5 1805.9,954.6 1806.3,949.9 1806.8,959.8 1807.2,960.4 1807.6,960.4 1808.1,954.9 1808.5,957.4 1808.9,960.4 1809.4,951.2 1809.8,957.3 1810.2,949.5 1810.7,952.1 1811.1,960.4 1811.5,957.8 1812,960.4 1812.4,960.4 1812.8,959.9 1813.3,955.2 1813.7,950.4 1814.1,960.4 1814.6,954.1 1815,957.8 1815.4,959.2 1815.8,951.6 1816.3,960 1816.7,950.4 1817.1,959.6 1817.6,960.4 1818,953.5 1818.4,960.4 1818.9,960.4 1819.3,958.7 1819.7,957.8 1820.2,959.1 1820.6,960.4 1821,960.4 1821.5,954.6 1821.9,954.5 1822.3,960.4 1822.8,956.1 1823.2,956.4 1823.6,951.9 1824.1,960.4 1824.5,949.4 1824.9,959.1 1825.4,949.6 1825.8,952.3 1826.2,960.4 1826.6,959.2 1827.1,955.8 1827.5,951.7 1827.9,960.4 1828.4,960.2 1828.8,954.1 1829.2,955.1 1829.7,960.4 1830.1,960.4 1830.5,955.3 1831,960.4 1831.4,956.3 1831.8,952.6 1832.3,957.6 1832.7,960.4 1833.1,951.2 1833.6,951.6 1834,949.9 1834.4,953.2 1834.9,960.4 1835.3,950 1835.7,955.8 1836.2,952.9 1836.6,958.9 1837,959.6 1837.4,959.6 1837.9,949.2 1838.3,956.5 1838.7,959.3 1839.2,960.4 1839.6,955.5 1840,958.2 1840.5,957.5 1840.9,952.9 1841.3,954.4 1841.8,958.3 1842.2,957.3 1842.6,958 1843.1,954.5 1843.5,954.7 1843.9,957.9 1844.4,960.4 1844.8,953.7 1845.2,953.5 1845.7,960.4 1846.1,956.5 1846.5,960.4 1847,960.4 1847.4,959 1847.8,953.3 1848.2,960.4 1848.7,960.4 1849.1,953.2 1849.5,960.4 1850,960.4 1850.4,960.4 1850.8,955.5 1851.3,955.5 1851.7,960.4 1852.1,960.4 1852.6,958.3 1853,960.4 1853.4,960.4 1853.9,960.4 1854.3,955.1 1854.7,960.3 1855.2,943 1855.6,955.7 1856,960.4 1856.5,959.1 1856.9,957.1 1857.3,957 1857.8,956.6 1858.2,956.7 1858.6,960 1859,955.4 1859.5,946.8 1859.9,960.4 1860.3,960.4 1860.8,955.3 1861.2,952.4 1861.6,954.8 1862.1,952.6 1862.5,959.5 1862.9,960.4 1863.4,955.5 1863.8,955.9 1864.2,950 1864.7,950.6 1865.1,960.4 1865.5,955.4 1866,960.4 1866.4,960.4 1866.8,957.2 1867.3,960.4 1867.7,960.4 1868.1,960.4 1868.6,960.4 1869,960.4 1869.4,960.4 1869.8,960.3 1870.3,959.3 1870.7,960.4 1871.1,957.9 1871.6,960.1 1872,960.4 1872.4,960.4 1872.9,959.5 1873.3,954.8 1873.7,959.4 1874.2,960.4 1874.6,959 1875,960.4 1875.5,960.4 1875.9,960.4 1876.3,960.4 1876.8,960.4 1877.2,960.4 1877.6,960.4 1878.1,960.4 1878.5,958.5 1878.9,960.4 1879.4,960.4 1879.8,960.4 1880.2,952 1880.6,957 1881.1,951.3 1881.5,952.8 1881.9,960.4 1882.4,960.4 1882.8,960.4 1883.2,952.8 1883.7,955.7 1884.1,956.3 1884.5,954.7 1885,955.6 1885.4,956.4 1885.8,956 1886.3,951 1886.7,959.2 1887.1,959.6 1887.6,954.1 1888,945.7 1888.4,948.5 1888.9,947.7 1889.3,941.5 1889.7,944 1890.2,953.5 1890.6,947.2 1891,950.6 1891.4,940.1 1891.9,938.5 1892.3,934 1892.7,925.9 1893.2,941.8 1893.6,938.3 1894,942.5 1894.5,955.9 1894.9,948.8 1895.3,948.6 1895.8,946.1 1896.2,951.6 1896.6,957.9 1897.1,947.4 1897.5,951.3 1897.9,958.6 1898.4,957.4 1898.8,956.4 1899.2,952.6 1899.7,949.6 1900.1,960.4 1900.5,951.1 1901,956.6 1901.4,955.4 1901.8,952.1 1902.2,960.4 1902.7,953.8 1903.1,960.4 1903.5,960 1904,960.4 1904.4,949.5 1904.8,949.8 1905.3,954.1 1905.7,955.2 1906.1,960.4 1906.6,949 1907,950.9 1907.4,953.1 1907.9,958.6 1908.3,959.3 1908.7,958.2 1909.2,951.8 1909.6,960.4 1910,957.4 1910.5,949.6 1910.9,953.2 1911.3,949 1911.8,955.7 1912.2,956.2 1912.6,950.9 1913,954.4 1913.5,955.6 1913.9,959.8 1914.3,960.4 1914.8,950.4 1915.2,959.3 1915.6,960 1916.1,953.5 1916.5,960.4 1916.9,960.4 1917.4,959.5 1917.8,957.2 1918.2,956 1918.7,954.7 1919.1,952.9 1919.5,957.5 1920,955 1920.4,957.4 1920.8,959.2 1921.3,954.9 1921.7,954.8 1922.1,948.3 1922.6,953 1923,958.9 1923.4,953.5 1923.8,956.5 1924.3,947.9 1924.7,960.4 1925.1,958 1925.6,957.5 1926,953.9 1926.4,953.1 1926.9,959.5 1927.3,959.6 1927.7,950.5 1928.2,945.3 1928.6,943.7 1929,951.7 1929.5,947 1929.9,953.8 1930.3,953.8 1930.8,942.4 1931.2,944.3 1931.6,946.8 1932.1,947.8 1932.5,941 1932.9,945.3 1933.4,945.1 1933.8,942.8 1934.2,941.1 1934.6,944.3 1935.1,945.2 1935.5,942.7 1935.9,945.8 1936.4,949.7 1936.8,935.9 1937.2,939.1 1937.7,943.4 1938.1,946.3 1938.5,946 1939,953.2 1939.4,947.7 1939.8,947.3 1940.3,950.4 1940.7,949 1941.1,952.4 1941.6,950.9 1942,958.2 1942.4,950.9 1942.9,954.9 1943.3,958.2 1943.7,955.7 1944.2,954.3 1944.6,955.6 1945,951.1 1945.4,956.6 1945.9,951.8 1946.3,951.9 1946.7,957.2 1947.2,950.2 1947.6,960.4 1948,953 1948.5,955.2 1948.9,952.8 1949.3,960.4 1949.8,960.1 1950.2,958.1 1950.6,955.4 1951.1,955.2 1951.5,955.5 1951.9,956.8 1952.4,958.3 1952.8,960.4 1953.2,957.4 1953.7,953.5 1954.1,952 1954.5,957.2 1955,952.3 1955.4,960.1 1955.8,953.1 1956.2,959.7 1956.7,954.9 1957.1,958.8 1957.5,959 1958,957.5 1958.4,950.4 1958.8,957.8 1959.3,953.2 1959.7,954.9 1960.1,954.5 1960.6,954.4 1961,953.6 1961.4,959.8 1961.9,955.8 1962.3,954.3 1962.7,957.6 1963.2,954.4 1963.6,959.2 1964,952.8 1964.5,958.1 1964.9,956.5 1965.3,952.4 1965.8,951.7 1966.2,957.4 1966.6,957.7 1967,951.9 1967.5,960.4 1967.9,950.9 1968.3,950.9 1968.8,959.4 1969.2,951.4 1969.6,954.2 1970.1,954.1 1970.5,960.4 1970.9,957.4 1971.4,956.1 1971.8,957.3 1972.2,957 1972.7,956.8 1973.1,960.4 1973.5,956.5 1974,958.6 1974.4,956 1974.8,957.7 1975.3,955.8 1975.7,954.9 1976.1,949.9 1976.6,959 1977,949.9 1977.4,956.8 1977.8,959.3 1978.3,960.4 1978.7,953.2 1979.1,960.4 1979.6,953 1980,955.3 1980.4,958.5 1980.9,958.6 1981.3,954.7 1981.7,956 1982.2,953.9 1982.6,956.6 1983,958.4 1983.5,954.6 1983.9,960.4 1984.3,954 1984.8,956.5 1985.2,960.4 1985.6,960.3 1986.1,957.9 1986.5,960.4 1986.9,952 1987.4,953.8 1987.8,960.4 1988.2,957.6 1988.6,951.1 1989.1,955.6 1989.5,960.4 1989.9,960.4 1990.4,960.4 1990.8,953.2 1991.2,956.2 1991.7,960.4 1992.1,954.8 1992.5,958.9 1993,959.5 1993.4,959.3 1993.8,959.1 1994.3,951.8 1994.7,960.4 1995.1,959.3 1995.6,952.7 1996,952.4 1996.4,960.4 1996.9,950.2 1997.3,953.6 1997.7,960.4 1998.2,951.1 1998.6,960.4 1999,955.4 1999.4,960.4 1999.9,960.4 2000.3,954.7 2000.7,956.4 2001.2,958.1 2001.6,957 2002,958.1 2002.5,958.9 2002.9,960.4 2003.3,956.1 2003.8,957.9 2004.2,958.9 2004.6,960.2 2005.1,958.8 2005.5,960.4 2005.9,959.2 2006.4,960.4 2006.8,953.5 2007.2,960.4 2007.7,959.7 2008.1,958 2008.5,955.1 2009,956.4 2009.4,958.1 2009.8,950.3 2010.2,958.3 2010.7,957 2011.1,948.3 2011.5,960.4 2012,955 2012.4,956.5 2012.8,960.4 2013.3,960.4 2013.7,955.1 2014.1,960.4 2014.6,959.1 2015,954.7 2015.4,959 2015.9,957.6 2016.3,960.4 2016.7,960.4 2017.2,960.4 2017.6,959.4 2018,956.1 2018.5,957.9 2018.9,951.1 2019.3,955.7 2019.8,957 2020.2,950 2020.6,958.5 2021,960.4 2021.5,957.4 2021.9,960.4 2022.3,956.1 2022.8,953.3 2023.2,955.8 2023.6,959.4 2024.1,958.2 2024.5,955.9 2024.9,954.3 2025.4,958.9 2025.8,959.2 2026.2,953.8 2026.7,956.5 2027.1,956.5 2027.5,956.1 2028,960.4 2028.4,958.3 2028.8,953.3 2029.3,958.1 2029.7,958.2 2030.1,956 2030.6,956 2031,948.1 2031.4,960 2031.8,956.2 2032.3,949.7 2032.7,956.7 2033.1,955.2 2033.6,960.4 2034,952.9 2034.4,953.7 2034.9,953.6 2035.3,956.7 2035.7,954.3 2036.2,955.9 2036.6,951.9 2037,955.1 2037.5,951.8 2037.9,959.7 2038.3,955.9 2038.8,960.4 2039.2,955 2039.6,949.6 2040.1,953.9 2040.5,942.9 2040.9,955.4 2041.4,950.7 2041.8,951.8 2042.2,951 2042.6,947.9 2043.1,948.2 2043.5,943.8 2043.9,931.2 2044.4,937.7 2044.8,929.7 2045.2,936 2045.7,927.9 2046.1,919.9 2046.5,919.1 2047,915.5 2047.4,912 2047.8,907.6 2048.3,904 2048.7,900 2049.1,905.1 2049.6,915.4 2050,908.2 2050.4,911.2 2050.9,909.9 2051.3,912.2 2051.7,924.2 2052.2,916.5 2052.6,926.5 2053,937.7 2053.4,930.5 2053.9,934.6 2054.3,938.2 2054.7,948.3 2055.2,945.2 2055.6,943.7 2056,948.7 2056.5,945.5"/>
<polyline fill="none" stroke="#0000ff" stroke-width="2.8" stroke-linejoin="round" shape-rendering="crispEdges" points="222.2,1170.2 222.6,1170.2 223.1,1170.2 223.5,1170.2 223.9,1159.1 224.4,1170.2 224.8,1162.3 225.2,1160 225.7,1170.2 226.1,1170.2 226.5,1165.3 227,1159.8 227.4,1152.4 227.8,1161.8 228.2,1156.2 228.7,1170.2 229.1,1170.2 229.5,1170.2 230,1170.2 230.4,1170.2 230.8,1167.2 231.3,1170.2 231.7,1161.7 232.1,1169.8 232.6,1170.2 233,1170.2 233.4,1149.9 233.9,1167.2 234.3,1170.2 234.7,1170.2 235.2,1150.9 235.6,1170.2 236,1157 236.5,1154.4 236.9,1170.2 237.3,1155 237.8,1170.2 238.2,1170.2 238.6,1170.2 239,1162.9 239.5,1165.1 239.9,1164.4 240.3,1170.2 240.8,1154.9 241.2,1152.5 241.6,1148.8 242.1,1158.2 242.5,1148.1 242.9,1145.9 243.4,1161.5 243.8,1159.5 244.2,1162.9 244.7,1163.3 245.1,1159.8 245.5,1170.2 246,1170.2 246.4,1164.1 246.8,1170.2 247.3,1170.2 247.7,1151.9 248.1,1170.2 248.6,1170.2 249,1165.4 249.4,1170.2 249.8,1170.2 250.3,1170.2 250.7,1170.2 251.1,1170.2 251.6,1167.5 252,1151.6 252.4,1165.7 252.9,1151.2 253.3,1161.4 253.7,1160.1 254.2,1162.9 254.6,1170.2 255,1164.7 255.5,1166.2 255.9,1170.2 256.3,1160.9 256.8,1162.9 257.2,1165.2 257.6,1170.2 258.1,1170.2 258.5,1152.8 258.9,1170 259.4,1170.2 259.8,1161.8 260.2,1170.2 260.6,1161.5 261.1,1170.2 261.5,1156.4 261.9,1166.4 262.4,1165.9 262.8,1167.2 263.2,1155.2 263.7,1170.2 264.1,1155.7 264.5,1161.1 265,1170.2 265.4,1168.9 265.8,1170.2 266.3,1168.2 266.7,1158.4 267.1,1170.2 267.6,1160.5 268,1158.4 268.4,1161.7 268.9,1151.5 269.3,1169.7 269.7,1161.3 270.2,1141.2 270.6,1168.6 271,1170.2 271.4,1169 271.9,1162.3 272.3,1170.2 272.7,1170.2 273.2,1170.2 273.6,1170.2 274,1170.2 274.5,1170.2 274.9,1170.2 275.3,1161.3 275.8,1170.2 276.2,1170.2 276.6,1166.4 277.1,1167.2 277.5,1170.2 277.9,1167.6 278.4,1170.2 278.8,1170.2 279.2,1170.2 279.7,1160 280.1,1170.2 280.5,1170.2 281,1167.1 281.4,1157.6 281.8,1155.7 282.2,1170.2 282.7,1155.7 283.1,1165.5 283.5,1155.6 284,1156.9 284.4,1170.2 284.8,1168.2 285.3,1170.2 285.7,1164.5 286.1,1150.1 286.6,1168 287,1170.2 287.4,1139.9 287.9,1170.2 288.3,1168.2 288.7,1168.2 289.2,1170.2 289.6,1159.1 290,1155.9 290.5,1168.6 290.9,1167 291.3,1169.2 291.8,1170.2 292.2,1164.5 292.6,1170.2 293,1170.2 293.5,1162.3 293.9,1156.3 294.3,1170.2 294.8,1153.6 295.2,1146.7 295.6,1164.2 296.1,1166.9 296.5,1163.8 296.9,1170.2 297.4,1170.2 297.8,1158.4 298.2,1157.4 298.7,1170.2 299.1,1169.9 299.5,1170.2 300,1170.2 300.4,1170.2 300.8,1170.2 301.3,1154.5 301.7,1168.4 302.1,1163.8 302.6,1144.3 303,1169.8 303.4,1157.8 303.8,1170.2 304.3,1170.2 304.7,1156.2 305.1,1166.9 305.6,1170.2 306,1170.2 306.4,1160.2 306.9,1170.2 307.3,1156.4 307.7,1160.7 308.2,1167.5 308.6,1164.7 309,1155.6 309.5,1163.6 309.9,1170.2 310.3,1160.2 310.8,1168.1 311.2,1166.6 311.6,1157.8 312.1,1160.5 312.5,1153 312.9,1166.2 313.4,1169.5 313.8,1168.2 314.2,1160.3 314.6,1170.2 315.1,1168.7 315.5,1170.2 315.9,1170.2 316.4,1167.1 316.8,1138.5 317.2,1169.3 317.7,1162.5 318.1,1164.4 318.5,1167.4 319,1165.4 319.4,1144.4 319.8,1168.8 320.3,1148.5 320.7,1159.1 321.1,1170.2 321.6,1170.2 322,1170.2 322.4,1170.2 322.9,1154.4 323.3,1162.6 323.7,1161.6 324.2,1170.2 324.6,1162.6 325,1170.2 325.4,1141.4 325.9,1169.1 326.3,1165.2 326.7,1163.9 327.2,1170.2 327.6,1170.2 328,1170.2 328.5,1159.6 328.9,1170.2 329.3,1170.2 329.8,1165.7 330.2,1170.2 330.6,1170.2 331.1,1170.2 331.5,1170.2 331.9,1170.2 332.4,1159.6 332.8,1169.7 333.2,1170.2 333.7,1170.2 334.1,1164.6 334.5,1170.2 335,1170.2 335.4,1170.2 335.8,1144.8 336.2,1170.2 336.7,1170.2 337.1,1158.5 337.5,1162.9 338,1170.2 338.4,1156 338.8,1170.2 339.3,1170.2 339.7,1170.2 340.1,1156.6 340.6,1170.2 341,1143.1 341.4,1166.5 341.9,1166.2 342.3,1170.2 342.7,1170.2 343.2,1170.2 343.6,1161.9 344,1170.2 344.5,1170.2 344.9,1162.4 345.3,1162 345.8,1170.2 346.2,1167.3 346.6,1159.7 347,1159.3 347.5,1170.2 347.9,1170.2 348.3,1170.2 348.8,1161.7 349.2,1170.2 349.6,1170.2 350.1,1170.2 350.5,1165.6 350.9,1170.2 351.4,1170.2 351.8,1170.2 352.2,1170.2 352.7,1170.2 353.1,1170.2 353.5,1170.2 354,1170.2 354.4,1167.2 354.8,1170.2 355.3,1170 355.7,1150.9 356.1,1170.2 356.6,1170.2 357,1170.2 357.4,1166 357.8,1168.7 358.3,1168.3 358.7,1170.2 359.1,1166.3 359.6,1166.2 360,1170.2 360.4,1157.8 360.9,1170.2 361.3,1162.4 361.7,1170.2 362.2,1160.8 362.6,1149.2 363,1169.4 363.5,1170.2 363.9,1170 364.3,1154.6 364.8,1152.8 365.2,1167.6 365.6,1162.3 366.1,1149.6 366.5,1163.6 366.9,1170.2 367.4,1170.2 367.8,1170.2 368.2,1164.7 368.6,1170.2 369.1,1153.6 369.5,1170.2 369.9,1151.5 370.4,1170.2 370.8,1154 371.2,1166.5 371.7,1153.1 372.1,1146.9 372.5,1149.4 373,1157.1 373.4,1170.2 373.8,1170.2 374.3,1170.2 374.7,1152.1 375.1,1154.3 375.6,1157 376,1170.2 376.4,1137.9 376.9,1170.2 377.3,1158.6 377.7,1170.2 378.2,1170.2 378.6,1154.4 379,1156.8 379.4,1170.2 379.9,1169 380.3,1155.7 380.7,1170.2 381.2,1159.7 381.6,1170.2 382,1161.3 382.5,1170.2 382.9,1157.5 383.3,1170.2 383.8,1170.2 384.2,1170.2 384.6,1170.2 385.1,1170.2 385.5,1170.2 385.9,1170.2 386.4,1161.3 386.8,1170.2 387.2,1157.1 387.7,1161.3 388.1,1159.8 388.5,1170.2 389,1164.3 389.4,1153.2 389.8,1159.1 390.2,1155.4 390.7,1152.2 391.1,1170.2 391.5,1162.9 392,1163.3 392.4,1170.2 392.8,1170.2 393.3,1167.9 393.7,1170.2 394.1,1147.7 394.6,1154.8 395,1170.2 395.4,1170.2 395.9,1170.2 396.3,1170.1 396.7,1170.2 397.2,1147.2 397.6,1170.2 398,1170.2 398.5,1167.9 398.9,1165 399.3,1170.2 399.8,1170.2 400.2,1167.8 400.6,1166.1 401,1170.2 401.5,1170.2 401.9,1167.1 402.3,1148.6 402.8,1170.2 403.2,1161.7 403.6,1151.9 404.1,1170.2 404.5,1153.4 404.9,1154 405.4,1169 405.8,1158.8 406.2,1153 406.7,1170.2 407.1,1167.2 407.5,1170.2 408,1170.2 408.4,1168.6 408.8,1170.2 409.3,1151.3 409.7,1170.2 410.1,1170.2 410.6,1159.5 411,1159.1 411.4,1165.1 411.8,1170.2 412.3,1170.2 412.7,1170.2 413.1,1152.5 413.6,1160.9 414,1168.3 414.4,1164.7 414.9,1170.2 415.3,1170.2 415.7,1170.2 416.2,1170 416.6,1170.2 417,1170.2 417.5,1170.2 417.9,1170.2 418.3,1162.7 418.8,1170.2 419.2,1170.2 419.6,1170.2 420.1,1170.2 420.5,1170.2 420.9,1170.2 421.4,1170.2 421.8,1144.9 422.2,1170.2 422.6,1170.2 423.1,1170.2 423.5,1160.1 423.9,1158.9 424.4,1166.7 424.8,1170.2 425.2,1158.6 425.7,1157.6 426.1,1160.7 426.5,1163.9 427,1168.5 427.4,1155.8 427.8,1170.2 428.3,1157 428.7,1170.2 429.1,1170.2 429.6,1170.2 430,1170.2 430.4,1170.2 430.9,1159.9 431.3,1150.6 431.7,1170.2 432.2,1170.2 432.6,1153.6 433,1170.2 433.4,1164.4 433.9,1165.3 434.3,1156.9 434.7,1170.2 435.2,1154.2 435.6,1158.2 436,1170.2 436.5,1168.5 436.9,1170.2 437.3,1162.2 437.8,1167.2 438.2,1170.2 438.6,1170 439.1,1161.9 439.5,1165.3 439.9,1167.6 440.4,1141.3 440.8,1159.8 441.2,1170.2 441.7,1164.2 442.1,1162.1 442.5,1170.2 443,1164.4 443.4,1170.2 443.8,1170.2 444.2,1161.6 444.7,1158.4 445.1,1158.5 445.5,1167 446,1170.2 446.4,1162.7 446.8,1160.5 447.3,1155.2 447.7,1150.4 448.1,1156.6 448.6,1170.2 449,1166 449.4,1170.2 449.9,1157.9 450.3,1159.3 450.7,1152.4 451.2,1160.4 451.6,1148.6 452,1170.2 452.5,1162.3 452.9,1168.8 453.3,1168.6 453.8,1170.2 454.2,1170.2 454.6,1170.2 455,1170.2 455.5,1170.2 455.9,1165.4 456.3,1170.2 456.8,1170.2 457.2,1170 457.6,1170.2 458.1,1149.3 458.5,1162.5 458.9,1170.2 459.4,1147.3 459.8,1153.2 460.2,1170.2 460.7,1170.2 461.1,1170.2 461.5,1167.9 462,1170.2 462.4,1170.2 462.8,1167.7 463.3,1170.2 463.7,1167.4 464.1,1153.4 464.6,1167.4 465,1156.1 465.4,1151.3 465.8,1165.8 466.3,1164.4 466.7,1164.6 467.1,1170.2 467.6,1143.8 468,1164.2 468.4,1162.8 468.9,1158.4 469.3,1152.3 469.7,1170.2 470.2,1170.2 470.6,1167.5 471,1163.3 471.5,1170.2 471.9,1170.2 472.3,1160.4 472.8,1161.2 473.2,1170.2 473.6,1170.2 474.1,1170.2 474.5,1170.2 474.9,1170.2 475.4,1167.4 475.8,1170.2 476.2,1158.8 476.6,1170.2 477.1,1170.2 477.5,1163.3 477.9,1170.2 478.4,1170.2 478.8,1169.4 479.2,1170.2 479.7,1170.2 480.1,1166.4 480.5,1170.2 481,1162.8 481.4,1170.2 481.8,1160.6 482.3,1166.2 482.7,1167.2 483.1,1164.2 483.6,1168.4 484,1170.2 484.4,1160.4 484.9,1167.7 485.3,1164.3 485.7,1170.2 486.2,1170.2 486.6,1158.9 487,1158.5 487.4,1166.7 487.9,1170.2 488.3,1170.2 488.7,1170.2 489.2,1156.4 489.6,1163 490,1167.8 490.5,1170.1 490.9,1170.2 491.3,1159.4 491.8,1170.2 492.2,1170.2 492.6,1158.9 493.1,1160.8 493.5,1168.9 493.9,1170.2 494.4,1170.2 494.8,1158.4 495.2,1163.5 495.7,1151.1 496.1,1170.2 496.5,1168.1 497,1170.2 497.4,1148.5 497.8,1170.2 498.2,1160.4 498.7,1149.2 499.1,1170.2 499.5,1170.2 500,1170.2 500.4,1170.2 500.8,1162.8 501.3,1168 501.7,1170.2 502.1,1170.2 502.6,1150 503,1169.6 503.4,1170.2 503.9,1145.2 504.3,1170.2 504.7,1170.2 505.2,1150.4 505.6,1166.3 506,1170.2 506.5,1170.2 506.9,1170.2 507.3,1170.2 507.8,1163.3 508.2,1170.2 508.6,1149.7 509,1152.7 509.5,1158.2 509.9,1170.2 510.3,1166.4 510.8,1160.2 511.2,1156 511.6,1152.4 512.1,1170.2 512.5,1170.2 512.9,1170.2 513.4,1170.2 513.8,1164.1 514.2,1140.5 514.7,1167.3 515.1,1156.6 515.5,1165.6 516,1166.5 516.4,1146.9 516.8,1170.2 517.3,1158.4 517.7,1142.5 518.1,1127.5 518.6,1170.2 519,1170.2 519.4,1170.2 519.8,1170.2 520.3,1165.9 520.7,1165.5 521.1,1153.6 521.6,1169.1 522,1162.1 522.4,1170.2 522.9,1170.2 523.3,1167.8 523.7,1170.2 524.2,1164.2 524.6,1155.9 525,1164.9 525.5,1163.3 525.9,1165.7 526.3,1170.2 526.8,1165.1 527.2,1170.2 527.6,1164.4 528.1,1164.7 528.5,1164.4 528.9,1170.2 529.4,1166.6 529.8,1146.1 530.2,1155.2 530.6,1168.6 531.1,1170.2 531.5,1154.7 531.9,1166.4 532.4,1170.2 532.8,1170.2 533.2,1147.3 533.7,1170.2 534.1,1165.9 534.5,1170.2 535,1167.5 535.4,1170.2 535.8,1170.2 536.3,1170.2 536.7,1169.3 537.1,1166.8 537.6,1169.1 538,1170.2 538.4,1170.2 538.9,1142.5 539.3,1170.2 539.7,1170.2 540.2,1170.2 540.6,1170.2 541,1165.5 541.4,1154.5 541.9,1165.9 542.3,1168.1 542.7,1164.5 543.2,1162.6 543.6,1168.9 544,1168.9 544.5,1154.5 544.9,1170.2 545.3,1169.6 545.8,1170.2 546.2,1170.2 546.6,1151.9 547.1,1170.2 547.5,1163.2 547.9,1146.1 548.4,1163.1 548.8,1170.2 549.2,1170.2 549.7,1170.2 550.1,1170.2 550.5,1170.2 551,1159.2 551.4,1161.9 551.8,1170.2 552.2,1163.2 552.7,1170.2 553.1,1149.3 553.5,1153 554,1162.3 554.4,1170.2 554.8,1149.6 555.3,1160.4 555.7,1156.8 556.1,1163.2 556.6,1170.2 557,1160 557.4,1170.2 557.9,1160.4 558.3,1167 558.7,1170.2 559.2,1163.4 559.6,1169.3 560,1170.2 560.5,1169.6 560.9,1160.2 561.3,1170.2 561.8,1170.2 562.2,1161.2 562.6,1167.2 563,1170.2 563.5,1167.1 563.9,1170.2 564.3,1161.1 564.8,1165.9 565.2,1163.6 565.6,1170.2 566.1,1170.2 566.5,1159.7 566.9,1170.2 567.4,1163.2 567.8,1170.2 568.2,1168.1 568.7,1170.2 569.1,1163.2 569.5,1164.8 570,1159.8 570.4,1141.4 570.8,1170.2 571.3,1167.9 571.7,1170.2 572.1,1148.8 572.6,1170.2 573,1160.6 573.4,1170.2 573.8,1170.2 574.3,1161.9 574.7,1163.5 575.1,1170.2 575.6,1158.6 576,1167.4 576.4,1156.8 576.9,1170.2 577.3,1161.8 577.7,1170.2 578.2,1154.4 578.6,1168.9 579,1168.1 579.5,1170.2 579.9,1157.3 580.3,1167.1 580.8,1170.2 581.2,1154.5 581.6,1170.2 582.1,1157.3 582.5,1152.4 582.9,1170.2 583.4,1158.4 583.8,1163 584.2,1167.3 584.6,1164.5 585.1,1170.2 585.5,1163.8 585.9,1167.3 586.4,1170.2 586.8,1170.2 587.2,1170.2 587.7,1169.1 588.1,1170.2 588.5,1168.7 589,1170.2 589.4,1170.2 589.8,1170.2 590.3,1170.2 590.7,1158 591.1,1146.2 591.6,1170.2 592,1160.9 592.4,1170.2 592.9,1170.2 593.3,1170.2 593.7,1170.2 594.2,1170.2 594.6,1161.3 595,1156.3 595.4,1166.3 595.9,1169.4 596.3,1163.6 596.7,1165.9 597.2,1150.2 597.6,1170.2 598,1170.2 598.5,1170.2 598.9,1166.5 599.3,1170.2 599.8,1168.3 600.2,1170.2 600.6,1170.2 601.1,1170.2 601.5,1170.2 601.9,1170.2 602.4,1170.2 602.8,1167.1 603.2,1170.2 603.7,1170.2 604.1,1166.6 604.5,1149.9 605,1169.6 605.4,1169.6 605.8,1170.2 606.2,1168.9 606.7,1153.2 607.1,1170.2 607.5,1159.6 608,1170.2 608.4,1155 608.8,1160.8 609.3,1170.2 609.7,1167.6 610.1,1151.4 610.6,1170.2 611,1156.9 611.4,1164.2 611.9,1170.2 612.3,1152.9 612.7,1170.2 613.2,1170.2 613.6,1170.2 614,1170.2 614.5,1164 614.9,1170.2 615.3,1165.7 615.8,1165.9 616.2,1170.2 616.6,1169.9 617,1155.8 617.5,1164.5 617.9,1151 618.3,1170.2 618.8,1170.2 619.2,1155.6 619.6,1170.2 620.1,1155.5 620.5,1167.7 620.9,1159.5 621.4,1170.2 621.8,1155.1 622.2,1151.5 622.7,1153.4 623.1,1158.7 623.5,1170.2 624,1154.8 624.4,1164.6 624.8,1150.8 625.3,1170.2 625.7,1160 626.1,1170.2 626.6,1164.5 627,1155.5 627.4,1155.2 627.8,1148 628.3,1158 628.7,1156.7 629.1,1158.8 629.6,1170.2 630,1150 630.4,1170 630.9,1166.4 631.3,1157.4 631.7,1167.7 632.2,1164 632.6,1170.2 633,1168.5 633.5,1170.2 633.9,1167.2 634.3,1152.7 634.8,1161.2 635.2,1160.6 635.6,1155.7 636.1,1146 636.5,1144.9 636.9,1151.8 637.4,1159.4 637.8,1145.2 638.2,1157.7 638.6,1156.9 639.1,1149.9 639.5,1159.1 639.9,1163.7 640.4,1165.8 640.8,1155.5 641.2,1148.8 641.7,1142.4 642.1,1155.5 642.5,1147.6 643,1147.4 643.4,1153.2 643.8,1120.5 644.3,1153.9 644.7,1154.3 645.1,1139.1 645.6,1125 646,1145.6 646.4,1126.2 646.9,1148.3 647.3,1140.4 647.7,1137.5 648.2,1136.1 648.6,1126.6 649,1131.2 649.4,1126.4 649.9,1138.9 650.3,1113.3 650.7,1112.6 651.2,1105.6 651.6,1093.4 652,1093.1 652.5,1081 652.9,1068.1 653.3,1075.2 653.8,1069.3 654.2,1040.3 654.6,1040.5 655.1,1004 655.5,978 655.9,941.3 656.4,915.4 656.8,882.9 657.2,850.6 657.7,803.4 658.1,767.6 658.5,725.5 659,675.4 659.4,642 659.8,593.8 660.2,553.4 660.7,500.9 661.1,477.5 661.5,470.9 662,454.9 662.4,445.6 662.8,467.7 663.3,452.2 663.7,493.7 664.1,552.7 664.6,571.1 665,627.6 665.4,662.9 665.9,726 666.3,773.5 666.7,808.9 667.2,855.5 667.6,896.3 668,946.3 668.5,974.1 668.9,974.9 669.3,1016.6 669.8,1020.3 670.2,1048 670.6,1071.5 671,1084.3 671.5,1116.9 671.9,1098.3 672.3,1100.5 672.8,1124.2 673.2,1130.8 673.6,1133.8 674.1,1124.9 674.5,1127.8 674.9,1144 675.4,1145.3 675.8,1137.9 676.2,1142 676.7,1149.4 677.1,1141.5 677.5,1155.2 678,1162.4 678.4,1145.1 678.8,1142.3 679.3,1142.2 679.7,1154.4 680.1,1158.4 680.6,1151.2 681,1153.9 681.4,1155 681.8,1155.6 682.3,1145 682.7,1154.3 683.1,1144.2 683.6,1163.7 684,1164.4 684.4,1151.1 684.9,1167.7 685.3,1167.3 685.7,1167.9 686.2,1170.2 686.6,1155.8 687,1145.3 687.5,1154.1 687.9,1152.1 688.3,1163 688.8,1167.5 689.2,1155.7 689.6,1169.2 690.1,1170.2 690.5,1167.6 690.9,1153.1 691.4,1158.6 691.8,1163.9 692.2,1170.2 692.6,1169.3 693.1,1159.1 693.5,1162.8 693.9,1168.7 694.4,1153.1 694.8,1169.4 695.2,1170.2 695.7,1164.8 696.1,1154.4 696.5,1157.2 697,1156 697.4,1170 697.8,1160.5 698.3,1162.9 698.7,1166.6 699.1,1170.2 699.6,1155.3 700,1165.3 700.4,1169.1 700.9,1159.9 701.3,1145.1 701.7,1170.2 702.2,1163 702.6,1152 703,1151 703.4,1170.2 703.9,1170.2 704.3,1170.2 704.7,1166.3 705.2,1170.2 705.6,1170.2 706,1155.6 706.5,1170.2 706.9,1170.2 707.3,1166.1 707.8,1165 708.2,1164.4 708.6,1157.4 709.1,1170.2 709.5,1167.6 709.9,1161.4 710.4,1170.1 710.8,1155.5 711.2,1158.9 711.7,1167.1 712.1,1168 712.5,1165.6 713,1164.3 713.4,1170.2 713.8,1170.2 714.2,1170.2 714.7,1170.2 715.1,1170.2 715.5,1170.2 716,1166.4 716.4,1170.2 716.8,1165.2 717.3,1165.7 717.7,1167.7 718.1,1170.2 718.6,1170.2 719,1162.5 719.4,1170.2 719.9,1166.7 720.3,1161.9 720.7,1167.1 721.2,1170.2 721.6,1170.2 722,1153.8 722.5,1170.2 722.9,1159.8 723.3,1170.2 723.8,1168.5 724.2,1161.9 724.6,1170.2 725,1162.1 725.5,1170.2 725.9,1170.2 726.3,1170.2 726.8,1167.6 727.2,1164.6 727.6,1161.7 728.1,1162.7 728.5,1170.2 728.9,1170.2 729.4,1168.8 729.8,1170.2 730.2,1170.2 730.7,1170.2 731.1,1170.2 731.5,1170.2 732,1170.2 732.4,1170.2 732.8,1170.2 733.3,1170.2 733.7,1170.2 734.1,1170.1 734.6,1170.2 735,1161.4 735.4,1170.2 735.8,1170.2 736.3,1170.2 736.7,1170.2 737.1,1168.9 737.6,1168 738,1170.2 738.4,1170.2 738.9,1168.2 739.3,1170.2 739.7,1165.3 740.2,1170.2 740.6,1160.5 741,1169.3 741.5,1170.2 741.9,1170.2 742.3,1169.8 742.8,1170.2 743.2,1170.2 743.6,1168.6 744.1,1164.4 744.5,1166.9 744.9,1170.2 745.4,1165 745.8,1170.2 746.2,1170.2 746.6,1170.2 747.1,1166.4 747.5,1170.2 747.9,1170.2 748.4,1169.6 748.8,1170.2 749.2,1170.2 749.7,1161.8 750.1,1168.3 750.5,1166.9 751,1170.2 751.4,1170.2 751.8,1160.8 752.3,1167.1 752.7,1170.2 753.1,1170 753.6,1170.2 754,1170.2 754.4,1170.2 754.9,1158.8 755.3,1170.2 755.7,1168.8 756.2,1170.2 756.6,1170.2 757,1153.4 757.4,1166.9 757.9,1170.2 758.3,1170.2 758.7,1170.2 759.2,1170.2 759.6,1168.6 760,1166.6 760.5,1170.2 760.9,1170.2 761.3,1170.2 761.8,1169.9 762.2,1170.2 762.6,1170.2 763.1,1160.6 763.5,1170.2 763.9,1150.5 764.4,1170.2 764.8,1170.2 765.2,1170.2 765.7,1164.3 766.1,1162.2 766.5,1169.6 767,1170.2 767.4,1159.9 767.8,1165.8 768.2,1164.8 768.7,1170.2 769.1,1167.4 769.5,1170.2 770,1163.6 770.4,1157.6 770.8,1170.2 771.3,1170.2 771.7,1170.2 772.1,1170.2 772.6,1166.9 773,1167.1 773.4,1170.2 773.9,1170.2 774.3,1169.1 774.7,1170.2 775.2,1168.8 775.6,1164.7 776,1165.4 776.5,1170.2 776.9,1157.4 777.3,1155.6 777.8,1170.2 778.2,1157.8 778.6,1160.9 779,1164.3 779.5,1170.2 779.9,1163.1 780.3,1170.2 780.8,1170.2 781.2,1164.6 781.6,1166.8 782.1,1170.2 782.5,1167.2 782.9,1170.2 783.4,1168.8 783.8,1170.2 784.2,1170.2 784.7,1170.2 785.1,1170.2 785.5,1161.6 786,1150.5 786.4,1164.9 786.8,1161 787.3,1170.2 787.7,1170.2 788.1,1170.2 788.6,1165.5 789,1169 789.4,1170.2 789.8,1159.1 790.3,1170 790.7,1164.1 791.1,1162.9 791.6,1158.9 792,1160.3 792.4,1169.8 792.9,1170.2 793.3,1170.2 793.7,1170.2 794.2,1156.2 794.6,1170.2 795,1159.1 795.5,1170.2 795.9,1170.2 796.3,1162.4 796.8,1170.2 797.2,1170.2 797.6,1157.8 798.1,1170.2 798.5,1170.2 798.9,1164.5 799.4,1158 799.8,1169.8 800.2,1170.2 800.6,1152.6 801.1,1169.5 801.5,1170.2 801.9,1169 802.4,1160.4 802.8,1170.2 803.2,1170.2 803.7,1163.8 804.1,1164.8 804.5,1168.3 805,1170.2 805.4,1164 805.8,1160.4 806.3,1170.2 806.7,1170.2 807.1,1162 807.6,1170.2 808,1170.2 808.4,1169.6 808.9,1170.2 809.3,1163.1 809.7,1160.9 810.2,1170.2 810.6,1167.9 811,1164.2 811.4,1157.8 811.9,1159 812.3,1164.6 812.7,1163.7 813.2,1156.3 813.6,1160.7 814,1161.9 814.5,1170.2 814.9,1164.7 815.3,1162.2 815.8,1165 816.2,1170.2 816.6,1170.2 817.1,1161.3 817.5,1160.6 817.9,1164.1 818.4,1170.2 818.8,1169.3 819.2,1166.3 819.7,1160.2 820.1,1164.8 820.5,1170.2 821,1169.5 821.4,1170.2 821.8,1151.7 822.2,1170.2 822.7,1154.7 823.1,1163.3 823.5,1151.8 824,1170.2 824.4,1160.2 824.8,1170.2 825.3,1170.2 825.7,1170.2 826.1,1170.2 826.6,1170.2 827,1168 827.4,1153.9 827.9,1169.7 828.3,1170.2 828.7,1161.5 829.2,1156.1 829.6,1170.2 830,1163.1 830.5,1170.2 830.9,1170.2 831.3,1161.9 831.8,1156.2 832.2,1152.9 832.6,1166.8 833,1170.2 833.5,1165.7 833.9,1162.9 834.3,1160.1 834.8,1157 835.2,1163.9 835.6,1162.8 836.1,1166.1 836.5,1170.2 836.9,1164.3 837.4,1156 837.8,1161.8 838.2,1170.2 838.7,1155.8 839.1,1170.2 839.5,1150.2 840,1151.4 840.4,1162.5 840.8,1153.1 841.3,1170.2 841.7,1169.5 842.1,1170.2 842.6,1165.5 843,1167.7 843.4,1167 843.8,1168 844.3,1157.1 844.7,1169.2 845.1,1170.2 845.6,1168 846,1165.5 846.4,1166 846.9,1170.2 847.3,1170.2 847.7,1170.2 848.2,1170.2 848.6,1170.2 849,1170.2 849.5,1170.2 849.9,1170.2 850.3,1170.2 850.8,1170.2 851.2,1170.2 851.6,1155.3 852.1,1154.1 852.5,1152.1 852.9,1168.9 853.4,1170.2 853.8,1163.3 854.2,1170.2 854.6,1170.2 855.1,1170.2 855.5,1169.7 855.9,1163.5 856.4,1170.2 856.8,1166.9 857.2,1167 857.7,1167.4 858.1,1165.4 858.5,1170.2 859,1169.5 859.4,1170.2 859.8,1170.2 860.3,1157 860.7,1162.6 861.1,1163.2 861.6,1170.2 862,1170.2 862.4,1165.9 862.9,1170.2 863.3,1154.3 863.7,1154.2 864.2,1170.2 864.6,1156.9 865,1161.9 865.4,1168.5 865.9,1170.2 866.3,1162.5 866.7,1160.2 867.2,1159.6 867.6,1170.2 868,1166 868.5,1166.2 868.9,1166.1 869.3,1170.2 869.8,1157.1 870.2,1160.8 870.6,1169 871.1,1162.1 871.5,1158 871.9,1161.6 872.4,1163.2 872.8,1159.6 873.2,1170.2 873.7,1160 874.1,1170.1 874.5,1163.2 875,1155.3 875.4,1167.9 875.8,1155.3 876.2,1159.4 876.7,1154.1 877.1,1170.2 877.5,1170.2 878,1170.2 878.4,1148 878.8,1161.9 879.3,1166.6 879.7,1163.4 880.1,1160.6 880.6,1165.1 881,1145.7 881.4,1162.6 881.9,1170.2 882.3,1170.2 882.7,1164.3 883.2,1163.6 883.6,1157.3 884,1157.1 884.5,1155.5 884.9,1170.2 885.3,1160.5 885.8,1168.6 886.2,1161.6 886.6,1170.2 887,1154.1 887.5,1152.9 887.9,1161.4 888.3,1170.2 888.8,1156.6 889.2,1161.6 889.6,1170.2 890.1,1159.6 890.5,1156.6 890.9,1160.9 891.4,1170.2 891.8,1158.3 892.2,1157.3 892.7,1169.7 893.1,1155.9 893.5,1159.8 894,1156.8 894.4,1170.2 894.8,1167 895.3,1160.5 895.7,1170.2 896.1,1162.6 896.6,1150.4 897,1170.2 897.4,1154.3 897.8,1157.1 898.3,1170.2 898.7,1170.2 899.1,1170.2 899.6,1161.6 900,1170.2 900.4,1157.8 900.9,1170.2 901.3,1166.1 901.7,1165.7 902.2,1155.5 902.6,1169.9 903,1168.8 903.5,1151.9 903.9,1147.1 904.3,1158.8 904.8,1162.9 905.2,1156 905.6,1154.5 906.1,1155.2 906.5,1161.5 906.9,1170.2 907.4,1150.4 907.8,1151.4 908.2,1136 908.6,1134.7 909.1,1130.7 909.5,1147.7 909.9,1134.6 910.4,1151.8 910.8,1133.5 911.2,1128.4 911.7,1135.9 912.1,1130.4 912.5,1108.9 913,1137 913.4,1115.5 913.8,1126.5 914.3,1116.6 914.7,1147.7 915.1,1133.6 915.6,1127.6 916,1112.9 916.4,1127.3 916.9,1137.6 917.3,1131.3 917.7,1126.9 918.2,1144.6 918.6,1132 919,1135.4 919.4,1140.7 919.9,1130 920.3,1143.2 920.7,1136.3 921.2,1134.1 921.6,1123.4 922,1137.6 922.5,1137.7 922.9,1148.1 923.3,1137.1 923.8,1142.9 924.2,1122.9 924.6,1144.3 925.1,1118.9 925.5,1118.2 925.9,1110.2 926.4,1115.8 926.8,1087.7 927.2,1099.3 927.7,1103.9 928.1,1090.2 928.5,1079.1 929,1063.1 929.4,1059.3 929.8,1062.1 930.2,1052.3 930.7,1041 931.1,1034 931.5,1031 932,1018.7 932.4,1039.3 932.8,1040.5 933.3,1026.7 933.7,1040.4 934.1,1035.7 934.6,1031 935,1051.5 935.4,1046.9 935.9,1064.9 936.3,1076.7 936.7,1075.2 937.2,1085.9 937.6,1086.1 938,1106.4 938.5,1098.1 938.9,1107.5 939.3,1097.6 939.8,1108.9 940.2,1119.4 940.6,1134.2 941,1135.1 941.5,1141.8 941.9,1121.5 942.3,1131.1 942.8,1133 943.2,1130 943.6,1139.9 944.1,1132.6 944.5,1125 944.9,1116.8 945.4,1111.4 945.8,1127.6 946.2,1113.9 946.7,1124.1 947.1,1130.9 947.5,1122.3 948,1123.9 948.4,1133.4 948.8,1117.6 949.3,1107.5 949.7,1130.2 950.1,1129.3 950.6,1119.2 951,1127 951.4,1134.1 951.8,1123.2 952.3,1135.1 952.7,1142.4 953.1,1130.2 953.6,1143.8 954,1136.1 954.4,1127.9 954.9,1148.9 955.3,1151.5 955.7,1153.1 956.2,1147.7 956.6,1156.2 957,1150.1 957.5,1147.2 957.9,1163.2 958.3,1154.9 958.8,1147.4 959.2,1149.8 959.6,1163.2 960.1,1149 960.5,1165.2 960.9,1150.8 961.4,1170.2 961.8,1154.6 962.2,1162.9 962.6,1163 963.1,1163.9 963.5,1166.8 963.9,1157.7 964.4,1160.6 964.8,1156 965.2,1167.5 965.7,1155.5 966.1,1153.9 966.5,1168.8 967,1153.3 967.4,1150.3 967.8,1170.2 968.3,1168.7 968.7,1143.8 969.1,1160.7 969.6,1163.4 970,1168.8 970.4,1157.6 970.9,1166.1 971.3,1160.5 971.7,1162 972.2,1159.5 972.6,1158.5 973,1166.2 973.4,1159.6 973.9,1159.2 974.3,1166.5 974.7,1168.7 975.2,1161.9 975.6,1151.5 976,1164.4 976.5,1167.7 976.9,1161.4 977.3,1167.7 977.8,1163.8 978.2,1164.4 978.6,1167.8 979.1,1161.4 979.5,1169.5 979.9,1169.4 980.4,1170.2 980.8,1169.3 981.2,1162.8 981.7,1155.8 982.1,1143.3 982.5,1165 983,1168.1 983.4,1150.9 983.8,1170.2 984.2,1158.5 984.7,1163.1 985.1,1153.4 985.5,1166 986,1164.4 986.4,1170.2 986.8,1170.1 987.3,1166.4 987.7,1169.6 988.1,1170.2 988.6,1158.3 989,1170.2 989.4,1170.2 989.9,1170.2 990.3,1170.2 990.7,1170.2 991.2,1168.8 991.6,1170.2 992,1154.1 992.5,1170.2 992.9,1168.2 993.3,1162.2 993.8,1150.2 994.2,1167.3 994.6,1170.2 995,1159.5 995.5,1169.4 995.9,1170.2 996.3,1170.2 996.8,1169.4 997.2,1170.2 997.6,1158.4 998.1,1163.8 998.5,1154.1 998.9,1164.2 999.4,1168.7 999.8,1161.2 1000.2,1161.5 1000.7,1170.2 1001.1,1154 1001.5,1163.9 1002,1159.8 1002.4,1169.5 1002.8,1158.3 1003.3,1149.9 1003.7,1167.1 1004.1,1170.2 1004.6,1165.2 1005,1165.4 1005.4,1160.8 1005.8,1170.2 1006.3,1158.5 1006.7,1164.2 1007.1,1167.9 1007.6,1170.2 1008,1164.9 1008.4,1158.4 1008.9,1162.9 1009.3,1163.1 1009.7,1165.7 1010.2,1164.4 1010.6,1170.2 1011,1156.1 1011.5,1159.5 1011.9,1168.5 1012.3,1166.8 1012.8,1170.2 1013.2,1170.2 1013.6,1163.9 1014.1,1170.2 1014.5,1170.2 1014.9,1169.6 1015.4,1163.2 1015.8,1170.2 1016.2,1163.7 1016.6,1163.1 1017.1,1162.9 1017.5,1163.6 1017.9,1166.8 1018.4,1169.3 1018.8,1160.6 1019.2,1170.2 1019.7,1159.2 1020.1,1170.2 1020.5,1169.8 1021,1166.3 1021.4,1170.2 1021.8,1164.5 1022.3,1160 1022.7,1170.2 1023.1,1169.9 1023.6,1162.8 1024,1162.8 1024.4,1161.5 1024.9,1170.2 1025.3,1170 1025.7,1159.7 1026.2,1170.2 1026.6,1170.2 1027,1169.9 1027.4,1169.6 1027.9,1170.2 1028.3,1170.2 1028.7,1170.1 1029.2,1168.3 1029.6,1155.8 1030,1162.5 1030.5,1167.3 1030.9,1168.9 1031.3,1163.2 1031.8,1149.9 1032.2,1170.2 1032.6,1170.2 1033.1,1170.2 1033.5,1168.5 1033.9,1170.2 1034.4,1170.2 1034.8,1170.2 1035.2,1170.2 1035.7,1162.2 1036.1,1157.8 1036.5,1170.2 1037,1170.2 1037.4,1161 1037.8,1168.8 1038.2,1170.2 1038.7,1162.7 1039.1,1170.2 1039.5,1163.9 1040,1153.7 1040.4,1170.2 1040.8,1165.2 1041.3,1170.2 1041.7,1159.4 1042.1,1161.5 1042.6,1170.2 1043,1170.1 1043.4,1170.2 1043.9,1161.2 1044.3,1170.2 1044.7,1169.6 1045.2,1162.2 1045.6,1170.2 1046,1170.2 1046.5,1170.2 1046.9,1170.2 1047.3,1170.2 1047.8,1170.2 1048.2,1166 1048.6,1170 1049,1160.3 1049.5,1163.5 1049.9,1158.6 1050.3,1170.2 1050.8,1170.2 1051.2,1159 1051.6,1166.1 1052.1,1170.2 1052.5,1170.2 1052.9,1166.2 1053.4,1159.8 1053.8,1151.9 1054.2,1160.8 1054.7,1166.4 1055.1,1170.2 1055.5,1170.2 1056,1170.2 1056.4,1170.2 1056.8,1168.5 1057.3,1161.5 1057.7,1164.9 1058.1,1170.2 1058.6,1163.5 1059,1160.4 1059.4,1169.4 1059.8,1170.2 1060.3,1168.8 1060.7,1165.5 1061.1,1170.2 1061.6,1170.2 1062,1170.2 1062.4,1168.2 1062.9,1165.1 1063.3,1170.2 1063.7,1161.1 1064.2,1167.2 1064.6,1166.9 1065,1168.2 1065.5,1170.2 1065.9,1156.4 1066.3,1167.2 1066.8,1170.2 1067.2,1163.9 1067.6,1161.8 1068.1,1170.2 1068.5,1167.4 1068.9,1157.3 1069.4,1164.4 1069.8,1167.5 1070.2,1167.4 1070.6,1165.1 1071.1,1170.2 1071.5,1170.2 1071.9,1166.2 1072.4,1168.5 1072.8,1158.3 1073.2,1170.2 1073.7,1153.1 1074.1,1170.2 1074.5,1170.2 1075,1168.9 1075.4,1160.2 1075.8,1169.2 1076.3,1158.4 1076.7,1159.5 1077.1,1166.8 1077.6,1167.8 1078,1168.6 1078.4,1165.5 1078.9,1170.2 1079.3,1157.4 1079.7,1166.5 1080.2,1165.2 1080.6,1170.2 1081,1170.2 1081.4,1156 1081.9,1170.2 1082.3,1164.8 1082.7,1170.2 1083.2,1170.2 1083.6,1161.7 1084,1170.2 1084.5,1162.7 1084.9,1169.7 1085.3,1170.2 1085.8,1167.6 1086.2,1170.2 1086.6,1169.1 1087.1,1170 1087.5,1164.2 1087.9,1166.6 1088.4,1169.4 1088.8,1170.2 1089.2,1170.2 1089.7,1170.2 1090.1,1166.5 1090.5,1170.2 1091,1170.2 1091.4,1163.6 1091.8,1162.2 1092.2,1161.5 1092.7,1167 1093.1,1164.7 1093.5,1165.2 1094,1165.9 1094.4,1170.2 1094.8,1166.6 1095.3,1161.5 1095.7,1168.3 1096.1,1167.7 1096.6,1170.2 1097,1170.2 1097.4,1150.7 1097.9,1170.2 1098.3,1164 1098.7,1159.1 1099.2,1160.9 1099.6,1166.6 1100,1168.7 1100.5,1170.2 1100.9,1155.8 1101.3,1167.6 1101.8,1159.6 1102.2,1170.2 1102.6,1170.2 1103,1170.2 1103.5,1162 1103.9,1170.2 1104.3,1170 1104.8,1164.7 1105.2,1167 1105.6,1166.9 1106.1,1170.2 1106.5,1170.2 1106.9,1166.8 1107.4,1160.4 1107.8,1170.2 1108.2,1166.9 1108.7,1170 1109.1,1164.3 1109.5,1170.2 1110,1154.1 1110.4,1154.4 1110.8,1166.9 1111.3,1166.9 1111.7,1170.2 1112.1,1160.6 1112.6,1165.5 1113,1165.3 1113.4,1170.2 1113.8,1161.6 1114.3,1153.7 1114.7,1170.2 1115.1,1167.4 1115.6,1158.5 1116,1160.9 1116.4,1160.9 1116.9,1143.6 1117.3,1155.9 1117.7,1163.7 1118.2,1170.2 1118.6,1166.3 1119,1170.2 1119.5,1170.2 1119.9,1155.9 1120.3,1170.2 1120.8,1166.5 1121.2,1154.5 1121.6,1169 1122.1,1167.2 1122.5,1170.2 1122.9,1168.8 1123.4,1170.2 1123.8,1163.3 1124.2,1170.2 1124.6,1160 1125.1,1159.2 1125.5,1163.8 1125.9,1163.5 1126.4,1166.9 1126.8,1159.2 1127.2,1156.2 1127.7,1160.2 1128.1,1152.3 1128.5,1162 1129,1161.9 1129.4,1157.8 1129.8,1170.2 1130.3,1164.4 1130.7,1170.2 1131.1,1158.8 1131.6,1153.7 1132,1169.8 1132.4,1166.7 1132.9,1164.6 1133.3,1151.4 1133.7,1157.6 1134.2,1149.6 1134.6,1153.1 1135,1152.9 1135.4,1169.1 1135.9,1170.2 1136.3,1147.3 1136.7,1140.4 1137.2,1165 1137.6,1162.9 1138,1146.3 1138.5,1139.3 1138.9,1161.8 1139.3,1156.9 1139.8,1141.2 1140.2,1147 1140.6,1143.5 1141.1,1141.4 1141.5,1151.9 1141.9,1148.6 1142.4,1128.8 1142.8,1147.7 1143.2,1128.9 1143.7,1134.6 1144.1,1120.4 1144.5,1122.6 1145,1120.9 1145.4,1104.7 1145.8,1110.2 1146.2,1100.5 1146.7,1110.9 1147.1,1083.5 1147.5,1077.5 1148,1058.9 1148.4,1066.3 1148.8,1057.2 1149.3,1033.4 1149.7,1023.3 1150.1,1016.7 1150.6,1025.9 1151,1001.3 1151.4,985.1 1151.9,997.6 1152.3,985 1152.7,970.7 1153.2,963.7 1153.6,986.2 1154,967.3 1154.5,1002.1 1154.9,1003.1 1155.3,994.7 1155.8,1000.9 1156.2,1018 1156.6,1007.9 1157,1030.7 1157.5,1057.1 1157.9,1039.8 1158.3,1062.1 1158.8,1076.2 1159.2,1076.4 1159.6,1085.3 1160.1,1099.1 1160.5,1096.6 1160.9,1109.2 1161.4,1115.1 1161.8,1125.4 1162.2,1140.2 1162.7,1135.4 1163.1,1136.4 1163.5,1136.3 1164,1126.7 1164.4,1141.9 1164.8,1146.5 1165.3,1154.1 1165.7,1150.3 1166.1,1155 1166.6,1157 1167,1150.9 1167.4,1165.3 1167.8,1160.6 1168.3,1150.9 1168.7,1156.6 1169.1,1163.2 1169.6,1159.3 1170,1163.4 1170.4,1151.5 1170.9,1153.8 1171.3,1151.1 1171.7,1164.1 1172.2,1161.7 1172.6,1155.6 1173,1167.6 1173.5,1164.2 1173.9,1157.3 1174.3,1165.7 1174.8,1167 1175.2,1159.2 1175.6,1164.6 1176.1,1166.6 1176.5,1161.7 1176.9,1170.2 1177.4,1159.6 1177.8,1162.9 1178.2,1163.3 1178.6,1162.5 1179.1,1160.4 1179.5,1170.2 1179.9,1164 1180.4,1156.3 1180.8,1168.4 1181.2,1170.1 1181.7,1169.4 1182.1,1170.2 1182.5,1151.3 1183,1167.5 1183.4,1162.5 1183.8,1170.2 1184.3,1170.2 1184.7,1170.2 1185.1,1170.2 1185.6,1169 1186,1160.7 1186.4,1170.2 1186.9,1161 1187.3,1155.6 1187.7,1164 1188.2,1159.7 1188.6,1158.8 1189,1169.5 1189.4,1169 1189.9,1170.2 1190.3,1170 1190.7,1159.4 1191.2,1164.4 1191.6,1166.4 1192,1168 1192.5,1170.2 1192.9,1168.9 1193.3,1152.2 1193.8,1158.7 1194.2,1164.1 1194.6,1167.4 1195.1,1169.5 1195.5,1158.9 1195.9,1168 1196.4,1167.2 1196.8,1167.6 1197.2,1158.1 1197.7,1164.6 1198.1,1155.8 1198.5,1169.8 1199,1169.7 1199.4,1170.2 1199.8,1164.7 1200.2,1170.2 1200.7,1167.7 1201.1,1158.1 1201.5,1162.6 1202,1167.8 1202.4,1167.1 1202.8,1170.2 1203.3,1170.2 1203.7,1162.4 1204.1,1170.2 1204.6,1170.2 1205,1162.7 1205.4,1170.2 1205.9,1166.5 1206.3,1169.5 1206.7,1165.9 1207.2,1167.4 1207.6,1156.8 1208,1162.7 1208.5,1158.1 1208.9,1170.2 1209.3,1167.6 1209.8,1165.7 1210.2,1157.6 1210.6,1162.2 1211,1167.6 1211.5,1170.2 1211.9,1167 1212.3,1170.2 1212.8,1170.2 1213.2,1170.2 1213.6,1169.9 1214.1,1170.2 1214.5,1161.7 1214.9,1168.4 1215.4,1170.2 1215.8,1167.7 1216.2,1170.2 1216.7,1165.9 1217.1,1164 1217.5,1164 1218,1170.2 1218.4,1162.9 1218.8,1163.2 1219.3,1157.4 1219.7,1163.9 1220.1,1167.7 1220.6,1168.5 1221,1170.2 1221.4,1170.2 1221.8,1170.2 1222.3,1161.8 1222.7,1169.2 1223.1,1167.1 1223.6,1169.9 1224,1165.4 1224.4,1162.4 1224.9,1163 1225.3,1170.2 1225.7,1168.5 1226.2,1155.4 1226.6,1164.5 1227,1167.1 1227.5,1169.6 1227.9,1170.2 1228.3,1170.2 1228.8,1169.2 1229.2,1166.5 1229.6,1170.2 1230.1,1167.2 1230.5,1164.1 1230.9,1164.4 1231.4,1160.8 1231.8,1170.2 1232.2,1165.7 1232.6,1162.8 1233.1,1166.6 1233.5,1170.2 1233.9,1170.2 1234.4,1157.1 1234.8,1170.1 1235.2,1164.5 1235.7,1170.1 1236.1,1170.2 1236.5,1164.3 1237,1161 1237.4,1167 1237.8,1168.5 1238.3,1161.4 1238.7,1168 1239.1,1167.7 1239.6,1169.6 1240,1165 1240.4,1166.1 1240.9,1167.3 1241.3,1166.7 1241.7,1165 1242.2,1158.2 1242.6,1167.3 1243,1170.2 1243.4,1154.4 1243.9,1160.4 1244.3,1169.3 1244.7,1170.2 1245.2,1159.3 1245.6,1170.2 1246,1165.2 1246.5,1170.2 1246.9,1162.6 1247.3,1158.6 1247.8,1167.4 1248.2,1167.6 1248.6,1166.3 1249.1,1170.2 1249.5,1170.2 1249.9,1160.3 1250.4,1166.7 1250.8,1166.8 1251.2,1166.4 1251.7,1161.3 1252.1,1166 1252.5,1163.3 1253,1160.5 1253.4,1169 1253.8,1166.3 1254.2,1161.5 1254.7,1160.3 1255.1,1161.7 1255.5,1162.5 1256,1169.9 1256.4,1166.9 1256.8,1160 1257.3,1164.1 1257.7,1164 1258.1,1163.1 1258.6,1154.2 1259,1165.9 1259.4,1158.5 1259.9,1158.9 1260.3,1161.9 1260.7,1165.5 1261.2,1162 1261.6,1164.4 1262,1155.6 1262.5,1158.6 1262.9,1159.2 1263.3,1164.2 1263.8,1153.1 1264.2,1170.2 1264.6,1144.3 1265,1163.5 1265.5,1159.3 1265.9,1160.2 1266.3,1164.1 1266.8,1148.3 1267.2,1157.9 1267.6,1157 1268.1,1148 1268.5,1147 1268.9,1158.3 1269.4,1153.7 1269.8,1148 1270.2,1143.2 1270.7,1137.9 1271.1,1138.9 1271.5,1128.6 1272,1126.6 1272.4,1123.2 1272.8,1122.6 1273.3,1113.9 1273.7,1108 1274.1,1106.7 1274.6,1108.8 1275,1099.6 1275.4,1099.3 1275.8,1095.5 1276.3,1081.8 1276.7,1085.4 1277.1,1078.2 1277.6,1082.2 1278,1067.1 1278.4,1063.2 1278.9,1062.5 1279.3,1053.4 1279.7,1055.9 1280.2,1059.8 1280.6,1047.7 1281,1057.3 1281.5,1054.3 1281.9,1057.2 1282.3,1064.6 1282.8,1057 1283.2,1081.5 1283.6,1090.9 1284.1,1085.3 1284.5,1092.5 1284.9,1108.5 1285.4,1112.5 1285.8,1129.7 1286.2,1118.9 1286.6,1117 1287.1,1124.2 1287.5,1131.2 1287.9,1127.3 1288.4,1139.1 1288.8,1144.3 1289.2,1149.7 1289.7,1142.3 1290.1,1143.2 1290.5,1149.4 1291,1154.1 1291.4,1147.9 1291.8,1141 1292.3,1147.1 1292.7,1140.7 1293.1,1143.6 1293.6,1146.1 1294,1136.5 1294.4,1134.5 1294.9,1138.5 1295.3,1132.6 1295.7,1137.7 1296.2,1138.1 1296.6,1138.7 1297,1124.1 1297.4,1116.5 1297.9,1122.9 1298.3,1123.2 1298.7,1110.4 1299.2,1104.1 1299.6,1105 1300,1107.5 1300.5,1090.1 1300.9,1093.9 1301.3,1092 1301.8,1089.9 1302.2,1072.4 1302.6,1064 1303.1,1065.8 1303.5,1075.6 1303.9,1067.3 1304.4,1071.6 1304.8,1065.7 1305.2,1066.6 1305.7,1059.5 1306.1,1066 1306.5,1077.7 1307,1075.1 1307.4,1068 1307.8,1090.9 1308.2,1086.7 1308.7,1076.2 1309.1,1093.3 1309.5,1104.7 1310,1097.1 1310.4,1102 1310.8,1115.8 1311.3,1115 1311.7,1119.8 1312.1,1116.8 1312.6,1124.2 1313,1132.7 1313.4,1130.1 1313.9,1141.1 1314.3,1128.8 1314.7,1135.7 1315.2,1143 1315.6,1146.8 1316,1142.2 1316.5,1145.1 1316.9,1158.7 1317.3,1155 1317.8,1155.7 1318.2,1158.2 1318.6,1165.3 1319,1154.8 1319.5,1138.8 1319.9,1158.4 1320.3,1158.4 1320.8,1163.3 1321.2,1157.8 1321.6,1166.9 1322.1,1163.8 1322.5,1159.4 1322.9,1170.2 1323.4,1166.2 1323.8,1154.1 1324.2,1159.8 1324.7,1164 1325.1,1162.5 1325.5,1170.2 1326,1161.6 1326.4,1167.1 1326.8,1158.2 1327.3,1162.4 1327.7,1162.6 1328.1,1170.2 1328.6,1170.2 1329,1154.7 1329.4,1167.6 1329.8,1168.9 1330.3,1157.8 1330.7,1162.8 1331.1,1163.3 1331.6,1157.2 1332,1165.4 1332.4,1167.8 1332.9,1169.3 1333.3,1170.2 1333.7,1168.6 1334.2,1168.7 1334.6,1170.2 1335,1153.2 1335.5,1170.2 1335.9,1168.9 1336.3,1170.2 1336.8,1169.7 1337.2,1164.2 1337.6,1169.6 1338.1,1164.9 1338.5,1153 1338.9,1169.6 1339.4,1170.2 1339.8,1170.2 1340.2,1160.4 1340.6,1165.6 1341.1,1165.1 1341.5,1169.7 1341.9,1169.2 1342.4,1156.6 1342.8,1158 1343.2,1170.2 1343.7,1170.2 1344.1,1170.2 1344.5,1170.2 1345,1161.9 1345.4,1159.4 1345.8,1167.3 1346.3,1170.2 1346.7,1163.1 1347.1,1159.2 1347.6,1170.2 1348,1165.8 1348.4,1170.2 1348.9,1170.2 1349.3,1170.2 1349.7,1159.5 1350.2,1165.3 1350.6,1170.2 1351,1167.9 1351.4,1166 1351.9,1170.2 1352.3,1163.8 1352.7,1170.2 1353.2,1170.2 1353.6,1158.9 1354,1170.2 1354.5,1162 1354.9,1160.5 1355.3,1169.6 1355.8,1161.2 1356.2,1166.6 1356.6,1170.2 1357.1,1165.5 1357.5,1170.2 1357.9,1169.5 1358.4,1170.2 1358.8,1152.3 1359.2,1161.5 1359.7,1168.2 1360.1,1170.2 1360.5,1170.2 1361,1170.2 1361.4,1170.2 1361.8,1169 1362.2,1168.1 1362.7,1159.2 1363.1,1158.7 1363.5,1170.2 1364,1159.5 1364.4,1170.2 1364.8,1162 1365.3,1166.9 1365.7,1168.2 1366.1,1166.5 1366.6,1170.2 1367,1170.2 1367.4,1157.4 1367.9,1170.2 1368.3,1163.6 1368.7,1170.2 1369.2,1165.7 1369.6,1168.8 1370,1167.5 1370.5,1170.2 1370.9,1166.7 1371.3,1158 1371.8,1163.8 1372.2,1160.8 1372.6,1170.2 1373,1169.7 1373.5,1163.9 1373.9,1170.2 1374.3,1162.4 1374.8,1168.2 1375.2,1169.9 1375.6,1160.2 1376.1,1170.2 1376.5,1159.8 1376.9,1170.2 1377.4,1170.2 1377.8,1163 1378.2,1161.8 1378.7,1170.2 1379.1,1167.8 1379.5,1157.3 1380,1168.3 1380.4,1170.2 1380.8,1170.2 1381.3,1168.7 1381.7,1170 1382.1,1170.2 1382.6,1170.2 1383,1166.5 1383.4,1164.9 1383.8,1168.7 1384.3,1166.6 1384.7,1168.4 1385.1,1170.2 1385.6,1159.8 1386,1160.2 1386.4,1167.9 1386.9,1169.2 1387.3,1169.2 1387.7,1167.7 1388.2,1163.6 1388.6,1163.2 1389,1170.2 1389.5,1170.2 1389.9,1170.2 1390.3,1159 1390.8,1170.2 1391.2,1170.2 1391.6,1170.2 1392.1,1166.2 1392.5,1169.6 1392.9,1169.6 1393.4,1170.2 1393.8,1170.2 1394.2,1170.2 1394.6,1169.9 1395.1,1159 1395.5,1170.2 1395.9,1170.2 1396.4,1165.4 1396.8,1165.1 1397.2,1170.2 1397.7,1169.7 1398.1,1170.2 1398.5,1160.2 1399,1166.8 1399.4,1170.2 1399.8,1164.7 1400.3,1163.8 1400.7,1170.2 1401.1,1169.8 1401.6,1169.6 1402,1170.2 1402.4,1170.2 1402.9,1152.4 1403.3,1170.2 1403.7,1165.7 1404.2,1165.3 1404.6,1163 1405,1163.7 1405.4,1169.2 1405.9,1170.2 1406.3,1170.2 1406.7,1166.8 1407.2,1170.2 1407.6,1163.2 1408,1170.2 1408.5,1161.9 1408.9,1170.2 1409.3,1159.3 1409.8,1170.2 1410.2,1166.4 1410.6,1170.2 1411.1,1165.6 1411.5,1167.8 1411.9,1163.2 1412.4,1165.4 1412.8,1157.6 1413.2,1170.2 1413.7,1170.2 1414.1,1170.2 1414.5,1170.1 1415,1164.3 1415.4,1163.1 1415.8,1170.2 1416.2,1170.2 1416.7,1169.8 1417.1,1165.4 1417.5,1170.2 1418,1168.5 1418.4,1170.2 1418.8,1166.9 1419.3,1170.2 1419.7,1162.7 1420.1,1170.2 1420.6,1168.5 1421,1150.3 1421.4,1170.2 1421.9,1170.2 1422.3,1169.8 1422.7,1166.6 1423.2,1166.6 1423.6,1167.7 1424,1170.2 1424.5,1169.8 1424.9,1165.9 1425.3,1170.2 1425.8,1162.9 1426.2,1168.8 1426.6,1160.8 1427,1170.2 1427.5,1166.1 1427.9,1170.2 1428.3,1163.8 1428.8,1161.6 1429.2,1170.2 1429.6,1164.9 1430.1,1168.7 1430.5,1163.9 1430.9,1170.2 1431.4,1170.2 1431.8,1165.6 1432.2,1162.9 1432.7,1166.3 1433.1,1165.6 1433.5,1170.2 1434,1162.3 1434.4,1168.5 1434.8,1170.2 1435.3,1159 1435.7,1170.2 1436.1,1159.6 1436.6,1166.2 1437,1164.5 1437.4,1154.5 1437.8,1169.9 1438.3,1170.2 1438.7,1170.2 1439.1,1167.8 1439.6,1159.9 1440,1167.7 1440.4,1167.6 1440.9,1166.4 1441.3,1170.2 1441.7,1165.7 1442.2,1170.2 1442.6,1170.2 1443,1170.2 1443.5,1169.5 1443.9,1160.6 1444.3,1163.2 1444.8,1170.2 1445.2,1159 1445.6,1159.4 1446.1,1170.2 1446.5,1152.1 1446.9,1161.8 1447.4,1165.8 1447.8,1163.5 1448.2,1155.6 1448.6,1159.8 1449.1,1167.5 1449.5,1148.5 1449.9,1155.8 1450.4,1159.3 1450.8,1155.1 1451.2,1152.8 1451.7,1141 1452.1,1143.5 1452.5,1160.8 1453,1149 1453.4,1145.4 1453.8,1143.3 1454.3,1137.7 1454.7,1137.4 1455.1,1146 1455.6,1125.8 1456,1127.3 1456.4,1145.6 1456.9,1129.2 1457.3,1130.3 1457.7,1139.1 1458.2,1126.7 1458.6,1121.8 1459,1124.6 1459.4,1131.7 1459.9,1129.5 1460.3,1125.8 1460.7,1129.5 1461.2,1124.3 1461.6,1132.7 1462,1121.5 1462.5,1116.9 1462.9,1114.6 1463.3,1116.4 1463.8,1119.4 1464.2,1121.7 1464.6,1122.2 1465.1,1103.4 1465.5,1114.9 1465.9,1112.5 1466.4,1112.7 1466.8,1107.6 1467.2,1099 1467.7,1112.4 1468.1,1093.4 1468.5,1098.8 1469,1087.5 1469.4,1093.1 1469.8,1104.4 1470.2,1112.2 1470.7,1110.2 1471.1,1112.5 1471.5,1106.3 1472,1113 1472.4,1109.5 1472.8,1114.9 1473.3,1125.6 1473.7,1121.4 1474.1,1122.8 1474.6,1123.3 1475,1134.1 1475.4,1139 1475.9,1131.6 1476.3,1138 1476.7,1140.2 1477.2,1142.6 1477.6,1143.1 1478,1151.5 1478.5,1157.1 1478.9,1150 1479.3,1164.8 1479.8,1150.9 1480.2,1144.3 1480.6,1166.3 1481,1164.1 1481.5,1157.1 1481.9,1166.1 1482.3,1156.7 1482.8,1164.5 1483.2,1166 1483.6,1158.8 1484.1,1169.6 1484.5,1170.1 1484.9,1170.2 1485.4,1164.9 1485.8,1166.9 1486.2,1170.2 1486.7,1162.7 1487.1,1168.7 1487.5,1160.8 1488,1164.1 1488.4,1170.2 1488.8,1170.2 1489.3,1159.7 1489.7,1170.1 1490.1,1170.2 1490.6,1169 1491,1170.2 1491.4,1168.2 1491.8,1170.2 1492.3,1165.9 1492.7,1170.2 1493.1,1168.8 1493.6,1159 1494,1162.9 1494.4,1170.2 1494.9,1167.6 1495.3,1170.2 1495.7,1167.5 1496.2,1162.3 1496.6,1164.7 1497,1164.5 1497.5,1167.2 1497.9,1170.2 1498.3,1170.2 1498.8,1170.2 1499.2,1163.8 1499.6,1170.2 1500.1,1170.2 1500.5,1170.2 1500.9,1169.1 1501.4,1166.7 1501.8,1168.5 1502.2,1170.2 1502.6,1167.2 1503.1,1170.2 1503.5,1170.2 1503.9,1166.4 1504.4,1168.7 1504.8,1170.2 1505.2,1164.9 1505.7,1167.7 1506.1,1159.7 1506.5,1167.6 1507,1169.7 1507.4,1170.2 1507.8,1157.6 1508.3,1170.2 1508.7,1170.2 1509.1,1166.2 1509.6,1170.2 1510,1170.2 1510.4,1170.2 1510.9,1170.2 1511.3,1164.2 1511.7,1170.2 1512.2,1161.7 1512.6,1164.6 1513,1163.4 1513.4,1166.5 1513.9,1156.8 1514.3,1164.1 1514.7,1164.3 1515.2,1170.2 1515.6,1170.2 1516,1170.2 1516.5,1170.2 1516.9,1170.2 1517.3,1165.8 1517.8,1170.2 1518.2,1170.2 1518.6,1170.2 1519.1,1170.2 1519.5,1167.4 1519.9,1160.5 1520.4,1170.2 1520.8,1156.3 1521.2,1170.2 1521.7,1170.2 1522.1,1170.2 1522.5,1161.8 1523,1165.9 1523.4,1161 1523.8,1170.2 1524.2,1160.7 1524.7,1170.1 1525.1,1166.6 1525.5,1170.2 1526,1170.2 1526.4,1170.2 1526.8,1163.7 1527.3,1164.6 1527.7,1170.2 1528.1,1169.2 1528.6,1168.9 1529,1170.2 1529.4,1170.2 1529.9,1162.4 1530.3,1170.2 1530.7,1163.9 1531.2,1164.4 1531.6,1170.2 1532,1161.2 1532.5,1170.2 1532.9,1170.2 1533.3,1170.2 1533.8,1167 1534.2,1167.4 1534.6,1170.2 1535,1170.2 1535.5,1167.5 1535.9,1163.9 1536.3,1170.2 1536.8,1166.3 1537.2,1167.1 1537.6,1170.2 1538.1,1170.2 1538.5,1170.2 1538.9,1155.3 1539.4,1168.3 1539.8,1164.8 1540.2,1164.8 1540.7,1170.2 1541.1,1166.9 1541.5,1170.2 1542,1170.2 1542.4,1167.1 1542.8,1170.2 1543.3,1168.2 1543.7,1165.5 1544.1,1156.5 1544.6,1170.2 1545,1169.2 1545.4,1170.2 1545.8,1161.5 1546.3,1170.2 1546.7,1170.2 1547.1,1163.9 1547.6,1169.6 1548,1170.2 1548.4,1170.2 1548.9,1166 1549.3,1163.7 1549.7,1169.3 1550.2,1170.2 1550.6,1155 1551,1170.2 1551.5,1170.2 1551.9,1165.2 1552.3,1170.2 1552.8,1170.2 1553.2,1167.3 1553.6,1170.2 1554.1,1157.3 1554.5,1166.8 1554.9,1161.8 1555.4,1160.7 1555.8,1164.7 1556.2,1161.6 1556.6,1170.2 1557.1,1170.2 1557.5,1169.9 1557.9,1162 1558.4,1165 1558.8,1164.1 1559.2,1162.7 1559.7,1169.8 1560.1,1170.2 1560.5,1170.2 1561,1159.1 1561.4,1170.2 1561.8,1170.2 1562.3,1166.2 1562.7,1170.2 1563.1,1164.8 1563.6,1170.2 1564,1169.5 1564.4,1170.2 1564.9,1165.6 1565.3,1167 1565.7,1159.6 1566.2,1164.8 1566.6,1165 1567,1170.2 1567.4,1170.2 1567.9,1170.2 1568.3,1170.2 1568.7,1170.2 1569.2,1170.2 1569.6,1167.7 1570,1159.1 1570.5,1170.2 1570.9,1170.2 1571.3,1165.4 1571.8,1170.2 1572.2,1170.2 1572.6,1170.2 1573.1,1170.2 1573.5,1170.2 1573.9,1169.4 1574.4,1170.2 1574.8,1170.2 1575.2,1170.2 1575.7,1163.3 1576.1,1170.2 1576.5,1156.6 1577,1169.4 1577.4,1168 1577.8,1150.9 1578.2,1168.2 1578.7,1170.2 1579.1,1167.8 1579.5,1170.2 1580,1161.2 1580.4,1168.6 1580.8,1168.7 1581.3,1170.2 1581.7,1166.9 1582.1,1163.7 1582.6,1170.2 1583,1170.2 1583.4,1165.4 1583.9,1170.2 1584.3,1170.2 1584.7,1170.2 1585.2,1170.2 1585.6,1160.6 1586,1166.6 1586.5,1166 1586.9,1170.2 1587.3,1168.5 1587.8,1166 1588.2,1165.1 1588.6,1170.2 1589,1162.3 1589.5,1160 1589.9,1168.7 1590.3,1170.2 1590.8,1166.7 1591.2,1165.1 1591.6,1160.7 1592.1,1167.1 1592.5,1160.1 1592.9,1163.9 1593.4,1161.8 1593.8,1164 1594.2,1154.8 1594.7,1154.1 1595.1,1152 1595.5,1163.1 1596,1148.9 1596.4,1156 1596.8,1149.2 1597.3,1168.6 1597.7,1145.5 1598.1,1149 1598.6,1149.8 1599,1143.8 1599.4,1151.6 1599.8,1152.1 1600.3,1159.8 1600.7,1138.5 1601.1,1144.9 1601.6,1140.9 1602,1139.1 1602.4,1147.2 1602.9,1139.1 1603.3,1154.5 1603.7,1146.2 1604.2,1144.2 1604.6,1152.8 1605,1146.4 1605.5,1152.6 1605.9,1145.8 1606.3,1145.6 1606.8,1157.3 1607.2,1155.4 1607.6,1154.9 1608.1,1159.4 1608.5,1157.3 1608.9,1161.3 1609.4,1161.4 1609.8,1167.6 1610.2,1160.9 1610.6,1158 1611.1,1170 1611.5,1163.7 1611.9,1164.1 1612.4,1160.6 1612.8,1170.2 1613.2,1166.4 1613.7,1168.2 1614.1,1163.5 1614.5,1161.7 1615,1170.2 1615.4,1170.2 1615.8,1165.2 1616.3,1164.3 1616.7,1164.2 1617.1,1170.2 1617.6,1170.2 1618,1165.4 1618.4,1161.9 1618.9,1166.2 1619.3,1170.2 1619.7,1170.2 1620.2,1168.3 1620.6,1168.9 1621,1165.9 1621.4,1161.3 1621.9,1161.1 1622.3,1152.9 1622.7,1163.9 1623.2,1160.9 1623.6,1151.3 1624,1156.7 1624.5,1164.1 1624.9,1155.7 1625.3,1167.2 1625.8,1155.3 1626.2,1153.1 1626.6,1160.6 1627.1,1148.7 1627.5,1151.5 1627.9,1154.9 1628.4,1146.3 1628.8,1152.1 1629.2,1149.2 1629.7,1156.9 1630.1,1140.2 1630.5,1146.2 1631,1147.5 1631.4,1144.9 1631.8,1136.9 1632.2,1133.2 1632.7,1138.8 1633.1,1144.8 1633.5,1142.2 1634,1140.1 1634.4,1136.9 1634.8,1145.6 1635.3,1144.4 1635.7,1154.4 1636.1,1154.9 1636.6,1148.9 1637,1155.8 1637.4,1155.3 1637.9,1148.2 1638.3,1154.2 1638.7,1154 1639.2,1153.3 1639.6,1159.5 1640,1161.1 1640.5,1158.8 1640.9,1158.2 1641.3,1159.1 1641.8,1161.6 1642.2,1154.4 1642.6,1161.6 1643,1157.2 1643.5,1161.7 1643.9,1158.3 1644.3,1169.9 1644.8,1170.2 1645.2,1159.9 1645.6,1165.1 1646.1,1161.9 1646.5,1170.2 1646.9,1152.4 1647.4,1167.8 1647.8,1155.4 1648.2,1168.7 1648.7,1169.6 1649.1,1170.2 1649.5,1164.8 1650,1167.1 1650.4,1170.2 1650.8,1164.4 1651.3,1170.2 1651.7,1162.5 1652.1,1164.3 1652.6,1165.4 1653,1170.2 1653.4,1170.2 1653.8,1159.5 1654.3,1166.3 1654.7,1166.3 1655.1,1167.4 1655.6,1168.3 1656,1170.2 1656.4,1165.3 1656.9,1169.9 1657.3,1170.2 1657.7,1160.5 1658.2,1153.6 1658.6,1168.2 1659,1164.8 1659.5,1170.2 1659.9,1161.6 1660.3,1166.9 1660.8,1162.5 1661.2,1161.8 1661.6,1168.5 1662.1,1163.5 1662.5,1168.2 1662.9,1165.1 1663.4,1167 1663.8,1170.2 1664.2,1170.2 1664.6,1170.2 1665.1,1170.2 1665.5,1166.3 1665.9,1160.6 1666.4,1163.5 1666.8,1170 1667.2,1153.5 1667.7,1163.9 1668.1,1160 1668.5,1168.4 1669,1164.8 1669.4,1170.2 1669.8,1169.5 1670.3,1170.2 1670.7,1167.4 1671.1,1170.2 1671.6,1170.2 1672,1163.8 1672.4,1168.3 1672.9,1169.5 1673.3,1167.2 1673.7,1170.2 1674.2,1167.9 1674.6,1169.3 1675,1170.2 1675.4,1169.4 1675.9,1164.5 1676.3,1166.8 1676.7,1169.3 1677.2,1170.2 1677.6,1165.6 1678,1162.8 1678.5,1169.5 1678.9,1170.2 1679.3,1156.3 1679.8,1167.9 1680.2,1158 1680.6,1170.2 1681.1,1170.2 1681.5,1170.2 1681.9,1170.2 1682.4,1170.2 1682.8,1170.2 1683.2,1169.7 1683.7,1170.2 1684.1,1167.7 1684.5,1170.2 1685,1170.2 1685.4,1170 1685.8,1169.9 1686.2,1170.2 1686.7,1166.6 1687.1,1168.2 1687.5,1168.4 1688,1170.2 1688.4,1170.2 1688.8,1168.7 1689.3,1167.8 1689.7,1169.4 1690.1,1160.7 1690.6,1166.8 1691,1160.7 1691.4,1161.7 1691.9,1170.2 1692.3,1157.8 1692.7,1170.2 1693.2,1166.4 1693.6,1170.2 1694,1170.2 1694.5,1164.2 1694.9,1164.2 1695.3,1166.5 1695.8,1170.2 1696.2,1166.9 1696.6,1170 1697,1170.2 1697.5,1170.2 1697.9,1170.2 1698.3,1165 1698.8,1170.2 1699.2,1170.2 1699.6,1166.9 1700.1,1167.2 1700.5,1170.2 1700.9,1161.9 1701.4,1168.9 1701.8,1167.8 1702.2,1170.2 1702.7,1168.3 1703.1,1162.7 1703.5,1170.2 1704,1165 1704.4,1170.2 1704.8,1170.2 1705.3,1170.2 1705.7,1170.2 1706.1,1170.2 1706.6,1170.2 1707,1164.7 1707.4,1168.6 1707.8,1170.2 1708.3,1165.4 1708.7,1166 1709.1,1170.2 1709.6,1166.1 1710,1165.8 1710.4,1167.2 1710.9,1162.8 1711.3,1170.2 1711.7,1167.6 1712.2,1159.3 1712.6,1156.1 1713,1167.6 1713.5,1157.9 1713.9,1169.9 1714.3,1170.2 1714.8,1163.6 1715.2,1159.2 1715.6,1170.2 1716.1,1160.7 1716.5,1170.2 1716.9,1170.2 1717.4,1170.2 1717.8,1168.2 1718.2,1165.9 1718.6,1166 1719.1,1162.4 1719.5,1169.7 1719.9,1166.8 1720.4,1155.2 1720.8,1166.7 1721.2,1160.5 1721.7,1162.6 1722.1,1164.3 1722.5,1160 1723,1168 1723.4,1161.9 1723.8,1157.9 1724.3,1159.4 1724.7,1162.3 1725.1,1161.7 1725.6,1160 1726,1152.2 1726.4,1152.7 1726.9,1158.2 1727.3,1146.3 1727.7,1154.7 1728.2,1143.5 1728.6,1148.5 1729,1155.5 1729.4,1145 1729.9,1149.8 1730.3,1146.7 1730.7,1144.1 1731.2,1139.6 1731.6,1136.3 1732,1133.4 1732.5,1141.1 1732.9,1132 1733.3,1130.6 1733.8,1133.4 1734.2,1128.6 1734.6,1128.7 1735.1,1131 1735.5,1122.7 1735.9,1120.6 1736.4,1124.8 1736.8,1133.1 1737.2,1123.5 1737.7,1123 1738.1,1117.3 1738.5,1131.8 1739,1127.6 1739.4,1133.9 1739.8,1141.5 1740.2,1136.3 1740.7,1140.5 1741.1,1146.6 1741.5,1132.3 1742,1137 1742.4,1142.2 1742.8,1155 1743.3,1144.6 1743.7,1150.7 1744.1,1147.5 1744.6,1150.9 1745,1151.1 1745.4,1161.5 1745.9,1158 1746.3,1155.8 1746.7,1150.8 1747.2,1167.3 1747.6,1146.4 1748,1146.6 1748.5,1156.8 1748.9,1161.3 1749.3,1150.2 1749.8,1168.2 1750.2,1159.7 1750.6,1154.8 1751,1149 1751.5,1152.3 1751.9,1154.5 1752.3,1156.9 1752.8,1155.7 1753.2,1151.4 1753.6,1168.6 1754.1,1156.2 1754.5,1154 1754.9,1158.9 1755.4,1155.1 1755.8,1148.3 1756.2,1157.5 1756.7,1158.1 1757.1,1146.7 1757.5,1155.4 1758,1157.5 1758.4,1163 1758.8,1157.1 1759.3,1164.7 1759.7,1160 1760.1,1155.3 1760.6,1162.1 1761,1159.8 1761.4,1157.5 1761.8,1153.4 1762.3,1150.3 1762.7,1152 1763.1,1155.9 1763.6,1158.9 1764,1161.7 1764.4,1166.3 1764.9,1170.2 1765.3,1160.3 1765.7,1169.6 1766.2,1157.7 1766.6,1170.2 1767,1170.2 1767.5,1167.6 1767.9,1159.2 1768.3,1167.3 1768.8,1168.4 1769.2,1159.5 1769.6,1167.9 1770.1,1164.6 1770.5,1169 1770.9,1168.3 1771.4,1148 1771.8,1170.2 1772.2,1158.3 1772.6,1170.2 1773.1,1170.2 1773.5,1162.5 1773.9,1168.5 1774.4,1168.1 1774.8,1163.6 1775.2,1170.2 1775.7,1170.2 1776.1,1167.5 1776.5,1170.2 1777,1159.1 1777.4,1167.2 1777.8,1165.3 1778.3,1170.2 1778.7,1167.6 1779.1,1167 1779.6,1165.2 1780,1170.2 1780.4,1164.9 1780.9,1162.3 1781.3,1170.2 1781.7,1170.2 1782.2,1165.9 1782.6,1163.5 1783,1170.2 1783.4,1163.7 1783.9,1159.5 1784.3,1166 1784.7,1169.4 1785.2,1164.3 1785.6,1161.1 1786,1161.3 1786.5,1167.3 1786.9,1164.9 1787.3,1170.2 1787.8,1168.2 1788.2,1170.2 1788.6,1170.2 1789.1,1168.9 1789.5,1170.2 1789.9,1168.8 1790.4,1169 1790.8,1170.2 1791.2,1170.2 1791.7,1166.1 1792.1,1170.2 1792.5,1159.1 1793,1156.4 1793.4,1164.7 1793.8,1167 1794.2,1166.6 1794.7,1170.2 1795.1,1170.2 1795.5,1170.2 1796,1166.1 1796.4,1163.9 1796.8,1167.9 1797.3,1169.6 1797.7,1170.2 1798.1,1166.3 1798.6,1170.2 1799,1163.4 1799.4,1170.2 1799.9,1170.2 1800.3,1170.2 1800.7,1167.8 1801.2,1170.2 1801.6,1170.1 1802,1167.2 1802.5,1170.2 1802.9,1163.9 1803.3,1170.2 1803.8,1165.6 1804.2,1170.2 1804.6,1170.2 1805,1165.6 1805.5,1163.9 1805.9,1170.2 1806.3,1168.9 1806.8,1170.2 1807.2,1170.2 1807.6,1161.6 1808.1,1160.5 1808.5,1170.2 1808.9,1158.7 1809.4,1170.2 1809.8,1165.4 1810.2,1168.6 1810.7,1167.6 1811.1,1170.2 1811.5,1160.6 1812,1170.2 1812.4,1169.2 1812.8,1162.2 1813.3,1170.2 1813.7,1168.4 1814.1,1169.2 1814.6,1169.5 1815,1170.2 1815.4,1166.1 1815.8,1170.2 1816.3,1168.7 1816.7,1159.1 1817.1,1167.7 1817.6,1170.2 1818,1166.8 1818.4,1170.2 1818.9,1170.2 1819.3,1166 1819.7,1170.2 1820.2,1169.4 1820.6,1170.2 1821,1167.7 1821.5,1161.9 1821.9,1170.2 1822.3,1169 1822.8,1162.1 1823.2,1164.9 1823.6,1166.9 1824.1,1165.2 1824.5,1165.4 1824.9,1161 1825.4,1156.2 1825.8,1164.7 1826.2,1167.8 1826.6,1159.5 1827.1,1160.9 1827.5,1163.8 1827.9,1164.4 1828.4,1167.1 1828.8,1170.2 1829.2,1159.7 1829.7,1170.2 1830.1,1170.2 1830.5,1170.2 1831,1165.1 1831.4,1160.7 1831.8,1164.7 1832.3,1156.3 1832.7,1170.2 1833.1,1157.1 1833.6,1166.7 1834,1160.1 1834.4,1170.2 1834.9,1166.3 1835.3,1150.5 1835.7,1169.4 1836.2,1157 1836.6,1165.5 1837,1162.1 1837.4,1170.2 1837.9,1166.5 1838.3,1154.7 1838.7,1159.4 1839.2,1168.3 1839.6,1165.4 1840,1165.2 1840.5,1161.1 1840.9,1159.4 1841.3,1163.7 1841.8,1166.7 1842.2,1163.7 1842.6,1165.1 1843.1,1166.4 1843.5,1166.1 1843.9,1170.2 1844.4,1169.8 1844.8,1170.2 1845.2,1164.8 1845.7,1166.8 1846.1,1163.6 1846.5,1166.6 1847,1170.2 1847.4,1166.9 1847.8,1168 1848.2,1163 1848.7,1170.2 1849.1,1163.3 1849.5,1170.2 1850,1164.4 1850.4,1167.5 1850.8,1170 1851.3,1170.2 1851.7,1170.2 1852.1,1155.6 1852.6,1170.2 1853,1162.9 1853.4,1170.2 1853.9,1166.2 1854.3,1165.3 1854.7,1170.2 1855.2,1166 1855.6,1170.2 1856,1163.9 1856.5,1161.9 1856.9,1170.2 1857.3,1168.2 1857.8,1167.5 1858.2,1167.3 1858.6,1167.4 1859,1170.2 1859.5,1168.7 1859.9,1170.2 1860.3,1170.2 1860.8,1165.2 1861.2,1170.2 1861.6,1170.2 1862.1,1170.2 1862.5,1164.4 1862.9,1170.2 1863.4,1162.2 1863.8,1157.5 1864.2,1168.9 1864.7,1166.5 1865.1,1159.8 1865.5,1170.2 1866,1170.2 1866.4,1165.1 1866.8,1168.5 1867.3,1155.4 1867.7,1170.2 1868.1,1170.2 1868.6,1167.4 1869,1169.9 1869.4,1170.2 1869.8,1163.7 1870.3,1167.2 1870.7,1155.8 1871.1,1170.2 1871.6,1170.2 1872,1168.9 1872.4,1170.2 1872.9,1159.7 1873.3,1166.2 1873.7,1162.1 1874.2,1170.2 1874.6,1166.5 1875,1164.3 1875.5,1164.8 1875.9,1165.9 1876.3,1167.3 1876.8,1152.1 1877.2,1165.6 1877.6,1165.2 1878.1,1168.2 1878.5,1166.2 1878.9,1163 1879.4,1170.2 1879.8,1156.3 1880.2,1164.8 1880.6,1157.5 1881.1,1170.1 1881.5,1160 1881.9,1170.2 1882.4,1161.1 1882.8,1156.1 1883.2,1151.6 1883.7,1168.7 1884.1,1157 1884.5,1153.2 1885,1164.8 1885.4,1168.2 1885.8,1164.4 1886.3,1158.1 1886.7,1164.1 1887.1,1166.5 1887.6,1154.7 1888,1154.1 1888.4,1159.9 1888.9,1155.1 1889.3,1163.7 1889.7,1158.6 1890.2,1155 1890.6,1151.5 1891,1157 1891.4,1146.7 1891.9,1159.8 1892.3,1153.7 1892.7,1154.3 1893.2,1143.8 1893.6,1136.2 1894,1145.5 1894.5,1152.8 1894.9,1152.7 1895.3,1140.3 1895.8,1134.2 1896.2,1143.8 1896.6,1140 1897.1,1147.3 1897.5,1145.9 1897.9,1138 1898.4,1130 1898.8,1137.5 1899.2,1138.4 1899.7,1140 1900.1,1139.3 1900.5,1139.5 1901,1131.9 1901.4,1135.6 1901.8,1137.7 1902.2,1139.3 1902.7,1140.5 1903.1,1139.8 1903.5,1138.5 1904,1139.2 1904.4,1144.5 1904.8,1137.4 1905.3,1137.7 1905.7,1143.6 1906.1,1140.9 1906.6,1139.1 1907,1142.3 1907.4,1141.7 1907.9,1141.3 1908.3,1139.4 1908.7,1144.7 1909.2,1143.9 1909.6,1143.8 1910,1142.2 1910.5,1142.2 1910.9,1144 1911.3,1153 1911.8,1160.9 1912.2,1152.3 1912.6,1147.8 1913,1154.8 1913.5,1156.7 1913.9,1162.3 1914.3,1158.1 1914.8,1155.6 1915.2,1154 1915.6,1160.5 1916.1,1164.2 1916.5,1154.1 1916.9,1167.8 1917.4,1153 1917.8,1159.8 1918.2,1164.4 1918.7,1165.1 1919.1,1162 1919.5,1166.4 1920,1162.1 1920.4,1165.8 1920.8,1161.7 1921.3,1167.7 1921.7,1169.8 1922.1,1170.2 1922.6,1159 1923,1163.9 1923.4,1165.5 1923.8,1157.8 1924.3,1169.1 1924.7,1162.1 1925.1,1164 1925.6,1164.1 1926,1161.9 1926.4,1162.7 1926.9,1158 1927.3,1168.1 1927.7,1170.2 1928.2,1163.9 1928.6,1169.4 1929,1161.6 1929.5,1166.7 1929.9,1161.2 1930.3,1157.7 1930.8,1165.1 1931.2,1166.1 1931.6,1167.1 1932.1,1164.9 1932.5,1168.8 1932.9,1162.8 1933.4,1161.6 1933.8,1170.2 1934.2,1156.2 1934.6,1167.7 1935.1,1165.2 1935.5,1165 1935.9,1169.3 1936.4,1158.6 1936.8,1170.2 1937.2,1168.4 1937.7,1170.2 1938.1,1166 1938.5,1161.9 1939,1163.1 1939.4,1170.2 1939.8,1167.8 1940.3,1168.1 1940.7,1168.2 1941.1,1170.2 1941.6,1165.3 1942,1170.2 1942.4,1157.7 1942.9,1166.7 1943.3,1168.9 1943.7,1170 1944.2,1161.7 1944.6,1168.7 1945,1162.4 1945.4,1170.2 1945.9,1168.2 1946.3,1169.8 1946.7,1166.6 1947.2,1163.9 1947.6,1170.2 1948,1163 1948.5,1170.2 1948.9,1166.7 1949.3,1170.2 1949.8,1169.4 1950.2,1169.9 1950.6,1167.8 1951.1,1161.2 1951.5,1164.9 1951.9,1167.3 1952.4,1165.8 1952.8,1167 1953.2,1169.9 1953.7,1167.4 1954.1,1161.1 1954.5,1165.7 1955,1166.9 1955.4,1162 1955.8,1170.2 1956.2,1170.2 1956.7,1170.2 1957.1,1167 1957.5,1168.6 1958,1170.2 1958.4,1170.2 1958.8,1170.1 1959.3,1170.2 1959.7,1161 1960.1,1167 1960.6,1168.4 1961,1165.6 1961.4,1165.3 1961.9,1170.2 1962.3,1170.2 1962.7,1169.6 1963.2,1170.2 1963.6,1168.4 1964,1170.2 1964.5,1170.2 1964.9,1169.3 1965.3,1165.8 1965.8,1166.9 1966.2,1170 1966.6,1169.3 1967,1166.4 1967.5,1170.2 1967.9,1167.3 1968.3,1170.2 1968.8,1170 1969.2,1167 1969.6,1169.8 1970.1,1170.2 1970.5,1169.8 1970.9,1170.2 1971.4,1170.2 1971.8,1170.2 1972.2,1169.2 1972.7,1170.2 1973.1,1163.3 1973.5,1168.1 1974,1167.4 1974.4,1168.9 1974.8,1167.8 1975.3,1170.2 1975.7,1170.2 1976.1,1164.8 1976.6,1165.2 1977,1168.1 1977.4,1162.1 1977.8,1170.2 1978.3,1170.2 1978.7,1170.2 1979.1,1166.4 1979.6,1170.2 1980,1166.7 1980.4,1170.2 1980.9,1165.7 1981.3,1164.7 1981.7,1168.6 1982.2,1170.2 1982.6,1170.2 1983,1163.6 1983.5,1165.6 1983.9,1169.8 1984.3,1168.3 1984.8,1161.4 1985.2,1166.9 1985.6,1162.4 1986.1,1170.2 1986.5,1170.2 1986.9,1170.2 1987.4,1169.2 1987.8,1163.1 1988.2,1170.2 1988.6,1163.3 1989.1,1170.2 1989.5,1165.8 1989.9,1170.2 1990.4,1169.2 1990.8,1156.8 1991.2,1170.2 1991.7,1167.3 1992.1,1169.2 1992.5,1170.2 1993,1165.4 1993.4,1170.2 1993.8,1170.2 1994.3,1170.2 1994.7,1164.1 1995.1,1170.2 1995.6,1163.4 1996,1170.2 1996.4,1165.9 1996.9,1170.2 1997.3,1170.2 1997.7,1160.1 1998.2,1167.6 1998.6,1166.6 1999,1170.2 1999.4,1163.1 1999.9,1164.1 2000.3,1167.5 2000.7,1170.2 2001.2,1165 2001.6,1170.2 2002,1164.7 2002.5,1164.7 2002.9,1163.9 2003.3,1170.2 2003.8,1166.7 2004.2,1169.1 2004.6,1170.2 2005.1,1164.6 2005.5,1170.2 2005.9,1168.1 2006.4,1166 2006.8,1168.7 2007.2,1162.1 2007.7,1166.2 2008.1,1163.4 2008.5,1170.2 2009,1164.8 2009.4,1167.5 2009.8,1162.2 2010.2,1168.5 2010.7,1165.7 2011.1,1170.2 2011.5,1169.8 2012,1170.2 2012.4,1160 2012.8,1169.9 2013.3,1167.5 2013.7,1168.2 2014.1,1168.3 2014.6,1164.4 2015,1165.8 2015.4,1168 2015.9,1167 2016.3,1161.9 2016.7,1170.2 2017.2,1170.2 2017.6,1169.8 2018,1165 2018.5,1163.7 2018.9,1170.2 2019.3,1165.9 2019.8,1170.1 2020.2,1165.4 2020.6,1170 2021,1165.5 2021.5,1167.8 2021.9,1170.2 2022.3,1168.8 2022.8,1169.8 2023.2,1158.2 2023.6,1169.7 2024.1,1164.5 2024.5,1170.2 2024.9,1157.8 2025.4,1163 2025.8,1168.6 2026.2,1170.2 2026.7,1169.1 2027.1,1170.2 2027.5,1164.6 2028,1170.2 2028.4,1166 2028.8,1159.6 2029.3,1164.5 2029.7,1160.8 2030.1,1166.3 2030.6,1167.8 2031,1168.6 2031.4,1169.6 2031.8,1159.6 2032.3,1170 2032.7,1170.2 2033.1,1166 2033.6,1167.8 2034,1163.3 2034.4,1163.5 2034.9,1158 2035.3,1170.2 2035.7,1166.4 2036.2,1168.5 2036.6,1169.5 2037,1167 2037.5,1167.3 2037.9,1166.3 2038.3,1166.9 2038.8,1162 2039.2,1159.2 2039.6,1170.2 2040.1,1167.7 2040.5,1165.8 2040.9,1168.2 2041.4,1170.2 2041.8,1167 2042.2,1170.2 2042.6,1165.3 2043.1,1170.2 2043.5,1170.2 2043.9,1168.7 2044.4,1160.3 2044.8,1161.6 2045.2,1165.5 2045.7,1162 2046.1,1165.3 2046.5,1170.2 2047,1168.3 2047.4,1168.4 2047.8,1170.2 2048.3,1165.3 2048.7,1169.7 2049.1,1170.2 2049.6,1168.7 2050,1167.9 2050.4,1170.2 2050.9,1163.9 2051.3,1165.7 2051.7,1170.2 2052.2,1170.2 2052.6,1159.4 2053,1170.2 2053.4,1166.9 2053.9,1163.9 2054.3,1170.2 2054.7,1162.9 2055.2,1167.7 2055.6,1166.5 2056,1168.5 2056.5,1163.6"/>
<polyline fill="none" stroke="#000000" stroke-width="2.8" stroke-linejoin="round" shape-rendering="crispEdges" points="222.2,1348.5 222.6,1350 223.1,1348.1 223.5,1350 223.9,1350 224.4,1344.4 224.8,1350 225.2,1347.4 225.7,1337.2 226.1,1350 226.5,1350 227,1350 227.4,1344.4 227.8,1350 228.2,1350 228.7,1350 229.1,1350 229.5,1350 230,1348.7 230.4,1350 230.8,1350 231.3,1348.6 231.7,1350 232.1,1350 232.6,1344.9 233,1350 233.4,1350 233.9,1350 234.3,1334.2 234.7,1350 235.2,1346.7 235.6,1346.1 236,1350 236.5,1348.2 236.9,1350 237.3,1336.9 237.8,1334.9 238.2,1350 238.6,1350 239,1350 239.5,1350 239.9,1350 240.3,1350 240.8,1349.2 241.2,1350 241.6,1350 242.1,1350 242.5,1345.3 242.9,1350 243.4,1346.2 243.8,1345.6 244.2,1350 244.7,1336.8 245.1,1350 245.5,1350 246,1350 246.4,1350 246.8,1338.1 247.3,1350 247.7,1334.2 248.1,1350 248.6,1350 249,1338.7 249.4,1350 249.8,1342 250.3,1350 250.7,1350 251.1,1340.7 251.6,1350 252,1350 252.4,1350 252.9,1341.2 253.3,1350 253.7,1345.8 254.2,1350 254.6,1350 255,1350 255.5,1350 255.9,1347.6 256.3,1350 256.8,1350 257.2,1350 257.6,1341.1 258.1,1328.5 258.5,1350 258.9,1350 259.4,1346.4 259.8,1343 260.2,1350 260.6,1346.2 261.1,1350 261.5,1350 261.9,1350 262.4,1347.5 262.8,1350 263.2,1348.5 263.7,1350 264.1,1340.2 264.5,1328.8 265,1350 265.4,1350 265.8,1350 266.3,1350 266.7,1350 267.1,1350 267.6,1350 268,1338.9 268.4,1350 268.9,1338.5 269.3,1339.7 269.7,1350 270.2,1350 270.6,1350 271,1350 271.4,1338.6 271.9,1350 272.3,1350 272.7,1350 273.2,1331.4 273.6,1350 274,1350 274.5,1350 274.9,1346.5 275.3,1350 275.8,1350 276.2,1350 276.6,1350 277.1,1346.2 277.5,1339 277.9,1350 278.4,1347.3 278.8,1346.9 279.2,1309.2 279.7,1350 280.1,1350 280.5,1350 281,1336.9 281.4,1334.2 281.8,1350 282.2,1328.5 282.7,1321.4 283.1,1350 283.5,1342 284,1350 284.4,1350 284.8,1350 285.3,1350 285.7,1350 286.1,1350 286.6,1339 287,1350 287.4,1350 287.9,1350 288.3,1344.1 288.7,1350 289.2,1336.3 289.6,1350 290,1350 290.5,1342 290.9,1350 291.3,1333.9 291.8,1339.4 292.2,1350 292.6,1350 293,1348.8 293.5,1350 293.9,1350 294.3,1350 294.8,1332.9 295.2,1341 295.6,1350 296.1,1346.2 296.5,1335.9 296.9,1350 297.4,1325.9 297.8,1350 298.2,1320.9 298.7,1329.2 299.1,1343.1 299.5,1347.3 300,1348.6 300.4,1350 300.8,1336.8 301.3,1332.5 301.7,1340 302.1,1346.3 302.6,1349 303,1350 303.4,1350 303.8,1350 304.3,1344.4 304.7,1350 305.1,1339.2 305.6,1350 306,1330.9 306.4,1329.6 306.9,1330.5 307.3,1335.3 307.7,1350 308.2,1350 308.6,1350 309,1346.3 309.5,1329.2 309.9,1350 310.3,1319.1 310.8,1350 311.2,1350 311.6,1346.4 312.1,1337.2 312.5,1350 312.9,1350 313.4,1328.6 313.8,1350 314.2,1338.6 314.6,1349.3 315.1,1350 315.5,1350 315.9,1350 316.4,1350 316.8,1347.5 317.2,1350 317.7,1350 318.1,1332.1 318.5,1327.7 319,1336.1 319.4,1339.5 319.8,1350 320.3,1348.8 320.7,1350 321.1,1350 321.6,1347.5 322,1348.3 322.4,1338.9 322.9,1350 323.3,1335.9 323.7,1350 324.2,1350 324.6,1350 325,1338.9 325.4,1350 325.9,1344.2 326.3,1350 326.7,1345.2 327.2,1337.5 327.6,1350 328,1345.4 328.5,1350 328.9,1346.5 329.3,1350 329.8,1345.4 330.2,1349.6 330.6,1350 331.1,1344.6 331.5,1350 331.9,1349.4 332.4,1350 332.8,1341.8 333.2,1350 333.7,1330.6 334.1,1343.7 334.5,1343.1 335,1350 335.4,1350 335.8,1350 336.2,1325.5 336.7,1350 337.1,1332.7 337.5,1332.7 338,1350 338.4,1350 338.8,1332.9 339.3,1350 339.7,1350 340.1,1350 340.6,1347.9 341,1350 341.4,1332.4 341.9,1345.4 342.3,1333.3 342.7,1350 343.2,1316.7 343.6,1349.4 344,1350 344.5,1350 344.9,1350 345.3,1350 345.8,1346.4 346.2,1350 346.6,1338.8 347,1350 347.5,1350 347.9,1346.2 348.3,1344.4 348.8,1350 349.2,1334.5 349.6,1330.9 350.1,1345.4 350.5,1350 350.9,1333.4 351.4,1350 351.8,1350 352.2,1343.2 352.7,1350 353.1,1329.4 353.5,1350 354,1335.2 354.4,1339.4 354.8,1325.9 355.3,1342.8 355.7,1338.3 356.1,1350 356.6,1350 357,1350 357.4,1339.7 357.8,1350 358.3,1329.5 358.7,1350 359.1,1350 359.6,1350 360,1335.3 360.4,1350 360.9,1343.1 361.3,1350 361.7,1343.9 362.2,1340.1 362.6,1343.5 363,1339.1 363.5,1350 363.9,1350 364.3,1350 364.8,1339.4 365.2,1345 365.6,1339 366.1,1350 366.5,1340.2 366.9,1350 367.4,1344.4 367.8,1350 368.2,1350 368.6,1340.9 369.1,1338.9 369.5,1350 369.9,1350 370.4,1332.6 370.8,1335.9 371.2,1350 371.7,1345.8 372.1,1350 372.5,1338.6 373,1345 373.4,1344.4 373.8,1348.7 374.3,1350 374.7,1336.4 375.1,1345 375.6,1350 376,1350 376.4,1346.3 376.9,1350 377.3,1350 377.7,1350 378.2,1346 378.6,1350 379,1345.4 379.4,1330.5 379.9,1336.9 380.3,1337.4 380.7,1350 381.2,1333.4 381.6,1349.4 382,1337 382.5,1350 382.9,1335.1 383.3,1350 383.8,1349.3 384.2,1336.4 384.6,1350 385.1,1350 385.5,1350 385.9,1335.1 386.4,1333.9 386.8,1340.6 387.2,1350 387.7,1350 388.1,1340.9 388.5,1339.4 389,1350 389.4,1350 389.8,1340 390.2,1334.2 390.7,1347.9 391.1,1350 391.5,1327.8 392,1347.7 392.4,1341.8 392.8,1350 393.3,1350 393.7,1350 394.1,1344.1 394.6,1350 395,1350 395.4,1350 395.9,1350 396.3,1344.5 396.7,1345.3 397.2,1350 397.6,1350 398,1350 398.5,1335.1 398.9,1341.7 399.3,1345 399.8,1350 400.2,1334.5 400.6,1349.5 401,1346.4 401.5,1350 401.9,1350 402.3,1350 402.8,1350 403.2,1350 403.6,1339.8 404.1,1336.6 404.5,1350 404.9,1350 405.4,1350 405.8,1350 406.2,1330 406.7,1349.8 407.1,1324.5 407.5,1350 408,1350 408.4,1350 408.8,1350 409.3,1344.7 409.7,1327.4 410.1,1350 410.6,1346.1 411,1332.1 411.4,1318.9 411.8,1345.3 412.3,1336.6 412.7,1332.4 413.1,1347.4 413.6,1342.2 414,1350 414.4,1350 414.9,1350 415.3,1334.8 415.7,1333.7 416.2,1348.5 416.6,1350 417,1335.1 417.5,1350 417.9,1330.2 418.3,1350 418.8,1350 419.2,1350 419.6,1350 420.1,1330 420.5,1350 420.9,1350 421.4,1350 421.8,1350 422.2,1345.4 422.6,1343.2 423.1,1340.7 423.5,1341.6 423.9,1350 424.4,1340 424.8,1350 425.2,1350 425.7,1350 426.1,1350 426.5,1346.2 427,1350 427.4,1350 427.8,1350 428.3,1350 428.7,1348.2 429.1,1350 429.6,1335.7 430,1329.3 430.4,1346.6 430.9,1350 431.3,1350 431.7,1350 432.2,1350 432.6,1345.2 433,1350 433.4,1344.1 433.9,1346.1 434.3,1350 434.7,1350 435.2,1350 435.6,1350 436,1350 436.5,1339.1 436.9,1350 437.3,1345.5 437.8,1350 438.2,1337 438.6,1324.9 439.1,1338.8 439.5,1350 439.9,1345.8 440.4,1336 440.8,1350 441.2,1350 441.7,1350 442.1,1331.8 442.5,1350 443,1339.4 443.4,1341.6 443.8,1350 444.2,1350 444.7,1350 445.1,1350 445.5,1349.7 446,1343.2 446.4,1350 446.8,1350 447.3,1350 447.7,1319.9 448.1,1350 448.6,1350 449,1338.9 449.4,1350 449.9,1339.5 450.3,1350 450.7,1339.5 451.2,1334.6 451.6,1350 452,1350 452.5,1350 452.9,1340.8 453.3,1350 453.8,1350 454.2,1345.4 454.6,1348.5 455,1350 455.5,1350 455.9,1340 456.3,1350 456.8,1350 457.2,1350 457.6,1345.5 458.1,1350 458.5,1350 458.9,1350 459.4,1350 459.8,1350 460.2,1326.2 460.7,1350 461.1,1350 461.5,1349.8 462,1350 462.4,1350 462.8,1345.4 463.3,1333 463.7,1336.1 464.1,1349.2 464.6,1350 465,1341.8 465.4,1350 465.8,1350 466.3,1330.4 466.7,1344.3 467.1,1348.4 467.6,1350 468,1350 468.4,1350 468.9,1342.9 469.3,1342.7 469.7,1344.9 470.2,1350 470.6,1332.1 471,1338.3 471.5,1327.9 471.9,1350 472.3,1350 472.8,1350 473.2,1350 473.6,1323.7 474.1,1350 474.5,1350 474.9,1336.9 475.4,1338.6 475.8,1335.9 476.2,1350 476.6,1324.1 477.1,1343.5 477.5,1350 477.9,1342 478.4,1350 478.8,1350 479.2,1350 479.7,1350 480.1,1350 480.5,1350 481,1350 481.4,1350 481.8,1332.4 482.3,1350 482.7,1350 483.1,1350 483.6,1350 484,1350 484.4,1321 484.9,1349.7 485.3,1338.3 485.7,1350 486.2,1350 486.6,1350 487,1350 487.4,1350 487.9,1345.8 488.3,1326.8 488.7,1345.2 489.2,1333.9 489.6,1331.7 490,1350 490.5,1322.9 490.9,1350 491.3,1324.1 491.8,1344.8 492.2,1340.4 492.6,1319.8 493.1,1333 493.5,1350 493.9,1350 494.4,1350 494.8,1334.5 495.2,1345.1 495.7,1336.5 496.1,1341.9 496.5,1332.7 497,1350 497.4,1350 497.8,1350 498.2,1337.2 498.7,1350 499.1,1350 499.5,1350 500,1338.5 500.4,1343 500.8,1350 501.3,1350 501.7,1350 502.1,1350 502.6,1325.9 503,1350 503.4,1328.3 503.9,1350 504.3,1350 504.7,1350 505.2,1350 505.6,1350 506,1336.4 506.5,1350 506.9,1350 507.3,1344.4 507.8,1349.7 508.2,1350 508.6,1350 509,1341.6 509.5,1343.7 509.9,1347.4 510.3,1350 510.8,1346.4 511.2,1335.8 511.6,1322 512.1,1342.8 512.5,1341.5 512.9,1337.1 513.4,1350 513.8,1350 514.2,1350 514.7,1350 515.1,1349.5 515.5,1350 516,1350 516.4,1350 516.8,1350 517.3,1350 517.7,1350 518.1,1350 518.6,1350 519,1350 519.4,1350 519.8,1350 520.3,1350 520.7,1350 521.1,1350 521.6,1350 522,1349.9 522.4,1350 522.9,1350 523.3,1350 523.7,1333.7 524.2,1347.7 524.6,1350 525,1350 525.5,1327.8 525.9,1350 526.3,1350 526.8,1350 527.2,1350 527.6,1344.4 528.1,1349.9 528.5,1350 528.9,1347.6 529.4,1337.1 529.8,1333.5 530.2,1347.6 530.6,1326.4 531.1,1331.8 531.5,1338.5 531.9,1326.7 532.4,1350 532.8,1332.9 533.2,1330.2 533.7,1349.8 534.1,1337.3 534.5,1350 535,1350 535.4,1350 535.8,1350 536.3,1350 536.7,1350 537.1,1350 537.6,1327.3 538,1324.6 538.4,1350 538.9,1324.9 539.3,1343 539.7,1350 540.2,1350 540.6,1350 541,1349.3 541.4,1340.3 541.9,1350 542.3,1350 542.7,1335.4 543.2,1347.7 543.6,1342.5 544,1349.5 544.5,1341.5 544.9,1340.6 545.3,1350 545.8,1332.3 546.2,1350 546.6,1344.7 547.1,1350 547.5,1341.1 547.9,1347 548.4,1342.8 548.8,1347.5 549.2,1350 549.7,1345.2 550.1,1349.5 550.5,1350 551,1350 551.4,1342.6 551.8,1334.2 552.2,1350 552.7,1345 553.1,1350 553.5,1347 554,1339.2 554.4,1345 554.8,1349.6 555.3,1350 555.7,1350 556.1,1347.1 556.6,1332.7 557,1350 557.4,1348.9 557.9,1345.5 558.3,1334.7 558.7,1350 559.2,1339.5 559.6,1347 560,1350 560.5,1350 560.9,1350 561.3,1340.1 561.8,1349.8 562.2,1350 562.6,1347.6 563,1338.1 563.5,1338.8 563.9,1343.7 564.3,1337.4 564.8,1341 565.2,1345.9 565.6,1349 566.1,1334.9 566.5,1346.1 566.9,1344.3 567.4,1347.6 567.8,1340.9 568.2,1339.2 568.7,1345.6 569.1,1341.7 569.5,1342 570,1341.3 570.4,1342.3 570.8,1344.8 571.3,1348.2 571.7,1340.6 572.1,1344.1 572.6,1341.9 573,1347.7 573.4,1337 573.8,1346.8 574.3,1348.8 574.7,1337.6 575.1,1341.8 575.6,1348 576,1327.3 576.4,1345.9 576.9,1334.3 577.3,1346 577.7,1341.2 578.2,1337.2 578.6,1345.5 579,1341.8 579.5,1337.1 579.9,1334.6 580.3,1337.6 580.8,1337.9 581.2,1339.4 581.6,1339.7 582.1,1340.4 582.5,1343 582.9,1350 583.4,1350 583.8,1345 584.2,1343 584.6,1341.5 585.1,1344.7 585.5,1342.6 585.9,1346.2 586.4,1338.8 586.8,1350 587.2,1338.1 587.7,1343.8 588.1,1331.6 588.5,1338.4 589,1342.5 589.4,1343.9 589.8,1341.8 590.3,1335.1 590.7,1340.9 591.1,1339.2 591.6,1344.1 592,1340.4 592.4,1348.8 592.9,1347 593.3,1334.9 593.7,1349.2 594.2,1338 594.6,1334.5 595,1339.4 595.4,1336.3 595.9,1340 596.3,1336.1 596.7,1350 597.2,1341.2 597.6,1342.5 598,1336.6 598.5,1342.1 598.9,1342.2 599.3,1344.6 599.8,1343.4 600.2,1341.3 600.6,1350 601.1,1336.7 601.5,1335.8 601.9,1341.6 602.4,1344.7 602.8,1340.5 603.2,1330.2 603.7,1340.9 604.1,1339.1 604.5,1336.8 605,1345.5 605.4,1341.6 605.8,1337.3 606.2,1334.4 606.7,1338.6 607.1,1337.9 607.5,1330.2 608,1328 608.4,1342.9 608.8,1340.6 609.3,1328.5 609.7,1340.2 610.1,1339.4 610.6,1329.1 611,1326.6 611.4,1335.8 611.9,1333.1 612.3,1331.2 612.7,1332.2 613.2,1331 613.6,1340.1 614,1340.3 614.5,1333.2 614.9,1339.1 615.3,1332.9 615.8,1327.5 616.2,1343.2 616.6,1336.7 617,1329.1 617.5,1334.5 617.9,1339.5 618.3,1332.6 618.8,1333.6 619.2,1324.2 619.6,1343.4 620.1,1335.3 620.5,1341.5 620.9,1320.8 621.4,1335.3 621.8,1333.3 622.2,1349.3 622.7,1336.2 623.1,1333.8 623.5,1332.6 624,1326.6 624.4,1335.3 624.8,1330.2 625.3,1329.2 625.7,1330.1 626.1,1331.7 626.6,1318.4 627,1327.1 627.4,1330.3 627.8,1326.5 628.3,1337.2 628.7,1340 629.1,1321 629.6,1330.5 630,1332.8 630.4,1322.4 630.9,1323.1 631.3,1326.8 631.7,1326.2 632.2,1328.1 632.6,1323 633,1322 633.5,1315.8 633.9,1316.7 634.3,1317.6 634.8,1313.6 635.2,1321.5 635.6,1314.7 636.1,1322.3 636.5,1308.7 636.9,1303.9 637.4,1313.5 637.8,1301 638.2,1308.3 638.6,1312.3 639.1,1308.4 639.5,1308.2 639.9,1304.8 640.4,1311.9 640.8,1284.1 641.2,1307.8 641.7,1294.1 642.1,1288.5 642.5,1301.6 643,1293 643.4,1281.3 643.8,1285.2 644.3,1278.9 644.7,1272.5 645.1,1276.1 645.6,1270.9 646,1277.7 646.4,1248 646.9,1242.2 647.3,1239.6 647.7,1242.9 648.2,1229 648.6,1252.1 649,1248.6 649.4,1226.4 649.9,1226 650.3,1192.1 650.7,1208.4 651.2,1185.2 651.6,1197 652,1160.8 652.5,1157 652.9,1194.7 653.3,1144.1 653.8,1140.5 654.2,1138.6 654.6,1129.1 655.1,1133.1 655.5,1101.4 655.9,1107.3 656.4,1119.5 656.8,1086.7 657.2,1080.5 657.7,1106.4 658.1,1066.1 658.5,1066 659,1051.2 659.4,1040.7 659.8,1058.4 660.2,1034.9 660.7,1038.4 661.1,1067.7 661.5,1048.7 662,1037.9 662.4,1056.7 662.8,1045.4 663.3,1072.7 663.7,1068.7 664.1,1046 664.6,1060.5 665,1076.5 665.4,1078.7 665.9,1076.9 666.3,1084.7 666.7,1097.2 667.2,1123.9 667.6,1144.1 668,1130.7 668.5,1140.4 668.9,1125.8 669.3,1146.1 669.8,1150.3 670.2,1180.5 670.6,1174.4 671,1187.5 671.5,1207 671.9,1209.9 672.3,1217.8 672.8,1207.2 673.2,1222.2 673.6,1246.4 674.1,1255.5 674.5,1246.2 674.9,1256.2 675.4,1260.4 675.8,1256.3 676.2,1259.2 676.7,1267.6 677.1,1286.8 677.5,1282.5 678,1284.9 678.4,1294.9 678.8,1305.6 679.3,1307 679.7,1302.1 680.1,1311.5 680.6,1314.9 681,1318.3 681.4,1314 681.8,1312.6 682.3,1309.3 682.7,1329.4 683.1,1324.2 683.6,1319.5 684,1337.9 684.4,1319.3 684.9,1320.2 685.3,1322.8 685.7,1335.7 686.2,1339.1 686.6,1332.8 687,1325.2 687.5,1332.9 687.9,1333.5 688.3,1330.3 688.8,1332.1 689.2,1334.4 689.6,1342.3 690.1,1334.2 690.5,1343.8 690.9,1342.5 691.4,1341.9 691.8,1336.8 692.2,1340.5 692.6,1341.5 693.1,1350 693.5,1347.4 693.9,1336.6 694.4,1343.6 694.8,1348.1 695.2,1347 695.7,1350 696.1,1345.5 696.5,1346 697,1344.9 697.4,1341.1 697.8,1348.6 698.3,1350 698.7,1341.2 699.1,1347.9 699.6,1343.5 700,1343.8 700.4,1345 700.9,1346.1 701.3,1350 701.7,1350 702.2,1349.5 702.6,1349.4 703,1350 703.4,1350 703.9,1349.5 704.3,1350 704.7,1349.8 705.2,1347.4 705.6,1348.9 706,1347.9 706.5,1350 706.9,1347.1 707.3,1350 707.8,1350 708.2,1350 708.6,1347.5 709.1,1347.8 709.5,1350 709.9,1341.9 710.4,1350 710.8,1349.9 711.2,1348.6 711.7,1350 712.1,1350 712.5,1350 713,1348 713.4,1350 713.8,1350 714.2,1350 714.7,1350 715.1,1349 715.5,1350 716,1350 716.4,1350 716.8,1347.5 717.3,1350 717.7,1350 718.1,1350 718.6,1350 719,1350 719.4,1347.5 719.9,1350 720.3,1350 720.7,1350 721.2,1350 721.6,1348.7 722,1350 722.5,1349.2 722.9,1350 723.3,1350 723.8,1350 724.2,1350 724.6,1350 725,1349.2 725.5,1350 725.9,1350 726.3,1349.7 726.8,1350 727.2,1350 727.6,1350 728.1,1349.3 728.5,1342.2 728.9,1347.8 729.4,1350 729.8,1347.6 730.2,1346.5 730.7,1349.2 731.1,1350 731.5,1337.3 732,1350 732.4,1350 732.8,1350 733.3,1348.2 733.7,1349.7 734.1,1349.9 734.6,1343 735,1348.9 735.4,1338.8 735.8,1350 736.3,1341.2 736.7,1345 737.1,1346 737.6,1340.8 738,1347.9 738.4,1341.8 738.9,1346.8 739.3,1350 739.7,1350 740.2,1350 740.6,1349.3 741,1339.1 741.5,1347.6 741.9,1344.3 742.3,1350 742.8,1350 743.2,1346.2 743.6,1323.9 744.1,1350 744.5,1334.3 744.9,1350 745.4,1350 745.8,1350 746.2,1350 746.6,1338.1 747.1,1342.3 747.5,1343.2 747.9,1348.9 748.4,1337.1 748.8,1330.8 749.2,1344.4 749.7,1347.4 750.1,1350 750.5,1347.6 751,1350 751.4,1335.4 751.8,1350 752.3,1334.9 752.7,1350 753.1,1336.5 753.6,1340.8 754,1340.8 754.4,1342.2 754.9,1350 755.3,1325.6 755.7,1350 756.2,1336 756.6,1345.5 757,1350 757.4,1340.3 757.9,1333.9 758.3,1338.7 758.7,1350 759.2,1350 759.6,1341.8 760,1345.8 760.5,1339.1 760.9,1348 761.3,1350 761.8,1350 762.2,1343.5 762.6,1350 763.1,1350 763.5,1342.6 763.9,1335.6 764.4,1350 764.8,1348.8 765.2,1347.4 765.7,1341.4 766.1,1350 766.5,1350 767,1347.5 767.4,1350 767.8,1337.4 768.2,1335.6 768.7,1347.1 769.1,1347.7 769.5,1345.6 770,1347.2 770.4,1350 770.8,1342.9 771.3,1340.8 771.7,1339.6 772.1,1350 772.6,1347.4 773,1350 773.4,1333.1 773.9,1350 774.3,1348.8 774.7,1337.2 775.2,1350 775.6,1346.9 776,1350 776.5,1339.4 776.9,1349.9 777.3,1349.7 777.8,1350 778.2,1344.2 778.6,1346.6 779,1342.5 779.5,1341.7 779.9,1349.2 780.3,1342.9 780.8,1336.8 781.2,1343.2 781.6,1345.2 782.1,1345.7 782.5,1350 782.9,1347.8 783.4,1347.1 783.8,1326.7 784.2,1349.2 784.7,1350 785.1,1342.9 785.5,1349.1 786,1350 786.4,1338.9 786.8,1349.5 787.3,1350 787.7,1341 788.1,1329.8 788.6,1335.5 789,1346 789.4,1344.5 789.8,1346 790.3,1341.6 790.7,1349.3 791.1,1344.1 791.6,1348.7 792,1344.4 792.4,1350 792.9,1346.6 793.3,1350 793.7,1347.5 794.2,1342.1 794.6,1350 795,1350 795.5,1344.4 795.9,1343.6 796.3,1339.4 796.8,1344 797.2,1350 797.6,1341.8 798.1,1346.6 798.5,1344.9 798.9,1336.1 799.4,1347.3 799.8,1350 800.2,1350 800.6,1349.5 801.1,1339.4 801.5,1341.8 801.9,1350 802.4,1350 802.8,1350 803.2,1342.3 803.7,1350 804.1,1335.9 804.5,1327.8 805,1350 805.4,1331.6 805.8,1332.1 806.3,1350 806.7,1350 807.1,1348.9 807.6,1347.2 808,1350 808.4,1349.7 808.9,1342.1 809.3,1350 809.7,1350 810.2,1348.3 810.6,1339.7 811,1334.9 811.4,1339 811.9,1350 812.3,1350 812.7,1347 813.2,1350 813.6,1341.8 814,1345.1 814.5,1339.3 814.9,1335.9 815.3,1349.6 815.8,1331.8 816.2,1350 816.6,1350 817.1,1350 817.5,1350 817.9,1342.5 818.4,1332.9 818.8,1350 819.2,1341.3 819.7,1339.4 820.1,1346.7 820.5,1350 821,1345.2 821.4,1338.9 821.8,1350 822.2,1350 822.7,1340.1 823.1,1345 823.5,1337.7 824,1336.2 824.4,1350 824.8,1350 825.3,1338.8 825.7,1347.9 826.1,1337 826.6,1343.6 827,1350 827.4,1337.9 827.9,1344.2 828.3,1350 828.7,1349.3 829.2,1350 829.6,1344 830,1338.8 830.5,1340.4 830.9,1348.1 831.3,1350 831.8,1345.6 832.2,1347.4 832.6,1350 833,1350 833.5,1332.2 833.9,1335.1 834.3,1350 834.8,1339 835.2,1343 835.6,1334.4 836.1,1350 836.5,1339.6 836.9,1350 837.4,1345.5 837.8,1346.5 838.2,1338.6 838.7,1346.1 839.1,1350 839.5,1340.3 840,1347.2 840.4,1346.3 840.8,1350 841.3,1347.6 841.7,1336.6 842.1,1337.4 842.6,1344.6 843,1350 843.4,1340.1 843.8,1350 844.3,1337.3 844.7,1350 845.1,1350 845.6,1343 846,1346.4 846.4,1344.6 846.9,1350 847.3,1350 847.7,1338 848.2,1347.5 848.6,1332.8 849,1331.4 849.5,1350 849.9,1350 850.3,1350 850.8,1347.3 851.2,1350 851.6,1343.2 852.1,1350 852.5,1350 852.9,1350 853.4,1350 853.8,1336.1 854.2,1339.1 854.6,1328.2 855.1,1339.1 855.5,1350 855.9,1350 856.4,1333.7 856.8,1350 857.2,1343.5 857.7,1346.2 858.1,1350 858.5,1335.5 859,1346.7 859.4,1343.4 859.8,1350 860.3,1345.5 860.7,1346.9 861.1,1336.6 861.6,1348.9 862,1326.1 862.4,1350 862.9,1344.5 863.3,1350 863.7,1335.6 864.2,1348.2 864.6,1335.2 865,1337.5 865.4,1340.8 865.9,1350 866.3,1342.9 866.7,1343.2 867.2,1339 867.6,1350 868,1341.9 868.5,1338.1 868.9,1345.5 869.3,1343.3 869.8,1349.9 870.2,1336.1 870.6,1350 871.1,1350 871.5,1321 871.9,1344.7 872.4,1348.2 872.8,1348.3 873.2,1346.9 873.7,1343.6 874.1,1350 874.5,1350 875,1349.1 875.4,1332 875.8,1350 876.2,1323.1 876.7,1335 877.1,1339.3 877.5,1345.3 878,1339.5 878.4,1319.6 878.8,1350 879.3,1341.2 879.7,1330.4 880.1,1332.6 880.6,1339.6 881,1347.1 881.4,1334.5 881.9,1350 882.3,1327.7 882.7,1350 883.2,1350 883.6,1347.7 884,1342.5 884.5,1347.7 884.9,1350 885.3,1346.7 885.8,1340.2 886.2,1341 886.6,1337.2 887,1345.2 887.5,1348.8 887.9,1347.6 888.3,1339.5 888.8,1341.7 889.2,1339.9 889.6,1338.5 890.1,1331.9 890.5,1334.1 890.9,1349.1 891.4,1329.6 891.8,1332.5 892.2,1338.5 892.7,1339.2 893.1,1342.7 893.5,1340.8 894,1350 894.4,1349.6 894.8,1327.6 895.3,1344.6 895.7,1324.5 896.1,1332.8 896.6,1335 897,1327 897.4,1346.4 897.8,1328.1 898.3,1343.8 898.7,1332.9 899.1,1321.1 899.6,1335 900,1328.2 900.4,1338.4 900.9,1326.1 901.3,1337 901.7,1332.9 902.2,1335.9 902.6,1329.6 903,1320.9 903.5,1321.7 903.9,1322.2 904.3,1319.6 904.8,1324.7 905.2,1328.8 905.6,1329.5 906.1,1321.2 906.5,1316.4 906.9,1331.9 907.4,1336.6 907.8,1316.6 908.2,1329.6 908.6,1306.1 909.1,1314.5 909.5,1320.7 909.9,1322.9 910.4,1326 910.8,1308.8 911.2,1326.9 911.7,1312.1 912.1,1325.5 912.5,1309.4 913,1329.3 913.4,1314.3 913.8,1316.3 914.3,1325.2 914.7,1314.5 915.1,1318.7 915.6,1308 916,1322.2 916.4,1314 916.9,1325.4 917.3,1306.4 917.7,1307.8 918.2,1309.5 918.6,1298.6 919,1302.1 919.4,1297.5 919.9,1301.8 920.3,1288.8 920.7,1297 921.2,1296.5 921.6,1306.2 922,1302.4 922.5,1298.5 922.9,1285.4 923.3,1309.3 923.8,1311.1 924.2,1298.2 924.6,1287 925.1,1287.9 925.5,1291 925.9,1306.3 926.4,1285.8 926.8,1298.5 927.2,1285.6 927.7,1290.2 928.1,1280.3 928.5,1301.6 929,1291.4 929.4,1275.7 929.8,1295.4 930.2,1280.4 930.7,1295.9 931.1,1285.2 931.5,1289.4 932,1273.4 932.4,1276.5 932.8,1282.5 933.3,1271.2 933.7,1281.7 934.1,1276.1 934.6,1281 935,1280.8 935.4,1294 935.9,1289.3 936.3,1288.8 936.7,1285.3 937.2,1290.3 937.6,1294.5 938,1285.7 938.5,1299 938.9,1279.9 939.3,1270.6 939.8,1278.5 940.2,1269.5 940.6,1292 941,1277.1 941.5,1282.4 941.9,1292.7 942.3,1282.3 942.8,1288.7 943.2,1308.8 943.6,1282.5 944.1,1285.2 944.5,1286 944.9,1293.6 945.4,1307.4 945.8,1302.4 946.2,1291.6 946.7,1294.5 947.1,1295.4 947.5,1306.1 948,1311 948.4,1298.9 948.8,1295.5 949.3,1313.9 949.7,1306.7 950.1,1300.5 950.6,1318.2 951,1291.4 951.4,1311.6 951.8,1316 952.3,1314.8 952.7,1322.1 953.1,1311.5 953.6,1329.1 954,1319.4 954.4,1323.9 954.9,1314 955.3,1321.7 955.7,1322.8 956.2,1323.1 956.6,1326.8 957,1325.2 957.5,1334.1 957.9,1317.7 958.3,1322.7 958.8,1328.2 959.2,1339.3 959.6,1333.6 960.1,1344.7 960.5,1326.9 960.9,1329 961.4,1344.2 961.8,1343.1 962.2,1327.5 962.6,1333.9 963.1,1333.3 963.5,1326.3 963.9,1335.1 964.4,1327.7 964.8,1342.4 965.2,1335.6 965.7,1330.2 966.1,1350 966.5,1340.6 967,1345.6 967.4,1333.9 967.8,1343.7 968.3,1343.5 968.7,1341.4 969.1,1350 969.6,1342.6 970,1347.8 970.4,1339.4 970.9,1349.2 971.3,1337.5 971.7,1343.7 972.2,1339.9 972.6,1337.8 973,1337.9 973.4,1342.6 973.9,1347.3 974.3,1347.8 974.7,1343.9 975.2,1336.7 975.6,1346.3 976,1348.2 976.5,1336.2 976.9,1344.2 977.3,1345.6 977.8,1347.5 978.2,1348.9 978.6,1349.4 979.1,1350 979.5,1343.8 979.9,1346.8 980.4,1350 980.8,1349.1 981.2,1341.5 981.7,1350 982.1,1350 982.5,1339.5 983,1343.6 983.4,1342.9 983.8,1336.8 984.2,1336.6 984.7,1344.6 985.1,1349.5 985.5,1350 986,1350 986.4,1340.7 986.8,1350 987.3,1349.5 987.7,1342.7 988.1,1350 988.6,1344.6 989,1350 989.4,1349.7 989.9,1350 990.3,1350 990.7,1350 991.2,1350 991.6,1346.6 992,1349 992.5,1342.4 992.9,1350 993.3,1336.7 993.8,1350 994.2,1349.7 994.6,1345.2 995,1350 995.5,1347.9 995.9,1338.7 996.3,1344 996.8,1349.7 997.2,1340.6 997.6,1350 998.1,1350 998.5,1347.6 998.9,1344.6 999.4,1350 999.8,1345.6 1000.2,1349.3 1000.7,1350 1001.1,1350 1001.5,1350 1002,1350 1002.4,1343.7 1002.8,1342 1003.3,1350 1003.7,1347.4 1004.1,1346.2 1004.6,1341.7 1005,1344.4 1005.4,1337.8 1005.8,1346 1006.3,1339 1006.7,1350 1007.1,1350 1007.6,1346.9 1008,1346.8 1008.4,1350 1008.9,1350 1009.3,1350 1009.7,1347.1 1010.2,1350 1010.6,1343.1 1011,1349.7 1011.5,1347.7 1011.9,1345.4 1012.3,1342.1 1012.8,1350 1013.2,1348.1 1013.6,1337.8 1014.1,1350 1014.5,1345.7 1014.9,1345.9 1015.4,1350 1015.8,1350 1016.2,1347.1 1016.6,1350 1017.1,1350 1017.5,1349.7 1017.9,1350 1018.4,1347.5 1018.8,1350 1019.2,1343.3 1019.7,1346.6 1020.1,1349.3 1020.5,1345.4 1021,1343.1 1021.4,1350 1021.8,1341.9 1022.3,1331.5 1022.7,1346.2 1023.1,1342.6 1023.6,1350 1024,1345.3 1024.4,1350 1024.9,1337.9 1025.3,1350 1025.7,1344.3 1026.2,1349.1 1026.6,1346.8 1027,1350 1027.4,1350 1027.9,1341 1028.3,1342.5 1028.7,1346.4 1029.2,1350 1029.6,1350 1030,1350 1030.5,1346.8 1030.9,1340.4 1031.3,1350 1031.8,1332.3 1032.2,1346.9 1032.6,1338.3 1033.1,1345.7 1033.5,1350 1033.9,1350 1034.4,1339.9 1034.8,1342.3 1035.2,1350 1035.7,1336.9 1036.1,1348 1036.5,1328.1 1037,1350 1037.4,1343.2 1037.8,1348.5 1038.2,1350 1038.7,1346.8 1039.1,1350 1039.5,1350 1040,1349.3 1040.4,1350 1040.8,1350 1041.3,1350 1041.7,1349 1042.1,1347.1 1042.6,1341 1043,1350 1043.4,1339.6 1043.9,1347.3 1044.3,1350 1044.7,1342.1 1045.2,1340.5 1045.6,1347.5 1046,1350 1046.5,1348.1 1046.9,1349.8 1047.3,1350 1047.8,1349.5 1048.2,1349.3 1048.6,1347.3 1049,1347.4 1049.5,1342.9 1049.9,1350 1050.3,1349.9 1050.8,1345.5 1051.2,1350 1051.6,1340.5 1052.1,1348.3 1052.5,1334.5 1052.9,1343.9 1053.4,1350 1053.8,1349.7 1054.2,1350 1054.7,1347.3 1055.1,1350 1055.5,1348.8 1056,1350 1056.4,1350 1056.8,1347.6 1057.3,1348.4 1057.7,1339.4 1058.1,1348.3 1058.6,1344.2 1059,1350 1059.4,1350 1059.8,1341.5 1060.3,1350 1060.7,1350 1061.1,1350 1061.6,1350 1062,1350 1062.4,1350 1062.9,1342.5 1063.3,1350 1063.7,1347.1 1064.2,1337.4 1064.6,1350 1065,1350 1065.5,1350 1065.9,1342.8 1066.3,1347 1066.8,1350 1067.2,1343.8 1067.6,1344.9 1068.1,1350 1068.5,1350 1068.9,1344.9 1069.4,1350 1069.8,1350 1070.2,1347 1070.6,1350 1071.1,1350 1071.5,1348.1 1071.9,1341.1 1072.4,1350 1072.8,1331.2 1073.2,1345.7 1073.7,1346.1 1074.1,1350 1074.5,1350 1075,1350 1075.4,1343.9 1075.8,1350 1076.3,1342.7 1076.7,1342.9 1077.1,1350 1077.6,1349.8 1078,1340.2 1078.4,1350 1078.9,1350 1079.3,1350 1079.7,1348 1080.2,1343.8 1080.6,1345.7 1081,1333.3 1081.4,1341.1 1081.9,1346.8 1082.3,1343.8 1082.7,1338.7 1083.2,1347.8 1083.6,1340.1 1084,1344.9 1084.5,1345.4 1084.9,1350 1085.3,1350 1085.8,1349 1086.2,1350 1086.6,1346 1087.1,1349.1 1087.5,1350 1087.9,1350 1088.4,1349 1088.8,1350 1089.2,1350 1089.7,1348.1 1090.1,1341.3 1090.5,1346 1091,1345.2 1091.4,1341.9 1091.8,1340.9 1092.2,1347.7 1092.7,1342.2 1093.1,1349.7 1093.5,1349 1094,1346.1 1094.4,1346.7 1094.8,1343.4 1095.3,1343 1095.7,1343.8 1096.1,1350 1096.6,1345.9 1097,1348 1097.4,1350 1097.9,1350 1098.3,1348.8 1098.7,1336.5 1099.2,1350 1099.6,1349.6 1100,1338.3 1100.5,1350 1100.9,1350 1101.3,1350 1101.8,1349.6 1102.2,1344.2 1102.6,1339.6 1103,1348.8 1103.5,1343.3 1103.9,1350 1104.3,1349.9 1104.8,1344.5 1105.2,1347.5 1105.6,1342 1106.1,1349.2 1106.5,1350 1106.9,1342.4 1107.4,1335.8 1107.8,1345.9 1108.2,1348.1 1108.7,1348.8 1109.1,1349.6 1109.5,1350 1110,1348 1110.4,1350 1110.8,1350 1111.3,1348.1 1111.7,1345.5 1112.1,1336.2 1112.6,1346.8 1113,1343.4 1113.4,1348.4 1113.8,1347.8 1114.3,1345.9 1114.7,1350 1115.1,1345.1 1115.6,1349.2 1116,1350 1116.4,1348.7 1116.9,1342.3 1117.3,1343 1117.7,1347.9 1118.2,1338.9 1118.6,1344.9 1119,1341.6 1119.5,1341 1119.9,1336.8 1120.3,1343.6 1120.8,1350 1121.2,1344.7 1121.6,1342.5 1122.1,1337.9 1122.5,1343.2 1122.9,1343 1123.4,1347.6 1123.8,1335.2 1124.2,1343.1 1124.6,1338.2 1125.1,1340.3 1125.5,1338.3 1125.9,1336.5 1126.4,1346.6 1126.8,1340.9 1127.2,1339 1127.7,1347.3 1128.1,1343.4 1128.5,1333 1129,1343.7 1129.4,1339.3 1129.8,1338.5 1130.3,1338.8 1130.7,1341.6 1131.1,1333.6 1131.6,1338.9 1132,1322.6 1132.4,1328.6 1132.9,1330.9 1133.3,1333.4 1133.7,1318.8 1134.2,1331.7 1134.6,1320 1135,1336.5 1135.4,1324.4 1135.9,1325.6 1136.3,1314.9 1136.7,1313.8 1137.2,1311.2 1137.6,1323.2 1138,1314.8 1138.5,1313.3 1138.9,1308.5 1139.3,1313.4 1139.8,1302 1140.2,1298.5 1140.6,1310.9 1141.1,1293.8 1141.5,1285.3 1141.9,1304.8 1142.4,1306.6 1142.8,1279.8 1143.2,1294.4 1143.7,1286.3 1144.1,1287.2 1144.5,1270.2 1145,1281.1 1145.4,1285.2 1145.8,1279.8 1146.2,1260.1 1146.7,1282.2 1147.1,1294.7 1147.5,1267.5 1148,1273 1148.4,1274 1148.8,1256.3 1149.3,1267.1 1149.7,1254.3 1150.1,1265.5 1150.6,1267.5 1151,1259.2 1151.4,1255.1 1151.9,1256.9 1152.3,1265.9 1152.7,1268 1153.2,1283.6 1153.6,1264 1154,1275.4 1154.5,1284.5 1154.9,1289.2 1155.3,1273.9 1155.8,1286 1156.2,1302.8 1156.6,1288.1 1157,1288.1 1157.5,1304.5 1157.9,1314.5 1158.3,1296.2 1158.8,1292.6 1159.2,1314.2 1159.6,1306.1 1160.1,1304.8 1160.5,1302 1160.9,1308.8 1161.4,1314.1 1161.8,1320 1162.2,1320.4 1162.7,1322.8 1163.1,1323.4 1163.5,1322.8 1164,1324.3 1164.4,1324.6 1164.8,1325.2 1165.3,1329 1165.7,1336.7 1166.1,1325.9 1166.6,1334.9 1167,1329.9 1167.4,1331.9 1167.8,1339.4 1168.3,1335.7 1168.7,1342.4 1169.1,1331.5 1169.6,1337.8 1170,1339.4 1170.4,1340.5 1170.9,1345.5 1171.3,1339 1171.7,1350 1172.2,1350 1172.6,1348.1 1173,1342.3 1173.5,1340.7 1173.9,1343.5 1174.3,1339.8 1174.8,1340.2 1175.2,1342.8 1175.6,1339.9 1176.1,1348.3 1176.5,1344.7 1176.9,1332.7 1177.4,1348.1 1177.8,1350 1178.2,1345.7 1178.6,1350 1179.1,1344.4 1179.5,1345.8 1179.9,1344.2 1180.4,1350 1180.8,1339.4 1181.2,1347.9 1181.7,1338.1 1182.1,1344 1182.5,1345.3 1183,1345.4 1183.4,1338.2 1183.8,1346 1184.3,1344.8 1184.7,1346.8 1185.1,1341.7 1185.6,1350 1186,1347.9 1186.4,1350 1186.9,1350 1187.3,1344.3 1187.7,1349.5 1188.2,1350 1188.6,1342 1189,1342.6 1189.4,1344.1 1189.9,1346.4 1190.3,1349.5 1190.7,1346 1191.2,1345.6 1191.6,1341.7 1192,1347.7 1192.5,1339.5 1192.9,1348.7 1193.3,1342.6 1193.8,1343.3 1194.2,1345.1 1194.6,1347.3 1195.1,1345.7 1195.5,1346.3 1195.9,1344.8 1196.4,1344.6 1196.8,1337.9 1197.2,1346.8 1197.7,1341.5 1198.1,1340.8 1198.5,1340.7 1199,1350 1199.4,1345.9 1199.8,1349.9 1200.2,1343.3 1200.7,1335.7 1201.1,1350 1201.5,1349.2 1202,1343.4 1202.4,1346.4 1202.8,1347.6 1203.3,1350 1203.7,1349.6 1204.1,1350 1204.6,1341.6 1205,1350 1205.4,1350 1205.9,1341.1 1206.3,1344.3 1206.7,1344.5 1207.2,1349.9 1207.6,1345.8 1208,1345.5 1208.5,1350 1208.9,1347.1 1209.3,1349.2 1209.8,1345.2 1210.2,1347.6 1210.6,1339.6 1211,1340.6 1211.5,1342.2 1211.9,1344.3 1212.3,1346.8 1212.8,1341.1 1213.2,1344.8 1213.6,1341.6 1214.1,1344 1214.5,1342.7 1214.9,1341.7 1215.4,1346.2 1215.8,1347 1216.2,1345.4 1216.7,1347.6 1217.1,1350 1217.5,1345.3 1218,1346.1 1218.4,1345.8 1218.8,1348.6 1219.3,1349.9 1219.7,1344.8 1220.1,1342.4 1220.6,1337.7 1221,1348.4 1221.4,1345.4 1221.8,1340.7 1222.3,1341.7 1222.7,1343.9 1223.1,1344.2 1223.6,1341.3 1224,1345.6 1224.4,1344.2 1224.9,1342 1225.3,1341.6 1225.7,1350 1226.2,1349.9 1226.6,1343.6 1227,1341.6 1227.5,1338.4 1227.9,1348.7 1228.3,1342.1 1228.8,1350 1229.2,1338.8 1229.6,1342.8 1230.1,1348 1230.5,1339.4 1230.9,1350 1231.4,1340.3 1231.8,1342.6 1232.2,1339.3 1232.6,1340.4 1233.1,1340.1 1233.5,1339.6 1233.9,1342.5 1234.4,1337.5 1234.8,1339.1 1235.2,1343.9 1235.7,1345.2 1236.1,1350 1236.5,1343.8 1237,1331.4 1237.4,1331.7 1237.8,1340.1 1238.3,1338.9 1238.7,1337.1 1239.1,1343.4 1239.6,1349.8 1240,1334.1 1240.4,1329.6 1240.9,1334.2 1241.3,1341 1241.7,1342.5 1242.2,1334.7 1242.6,1329.6 1243,1344.4 1243.4,1332.8 1243.9,1333.9 1244.3,1336.1 1244.7,1335.7 1245.2,1344.9 1245.6,1333.6 1246,1338 1246.5,1335.4 1246.9,1329.1 1247.3,1337.7 1247.8,1333.6 1248.2,1334.6 1248.6,1330.9 1249.1,1346.6 1249.5,1331.5 1249.9,1334.6 1250.4,1333.7 1250.8,1342.4 1251.2,1336.7 1251.7,1329.4 1252.1,1329.8 1252.5,1321.7 1253,1333.7 1253.4,1327.7 1253.8,1325.5 1254.2,1326.1 1254.7,1337.6 1255.1,1329.8 1255.5,1316.1 1256,1330.1 1256.4,1328.1 1256.8,1326.2 1257.3,1319.6 1257.7,1317.4 1258.1,1319.7 1258.6,1316.2 1259,1322.4 1259.4,1332.1 1259.9,1324.6 1260.3,1319.9 1260.7,1321.3 1261.2,1322 1261.6,1330.6 1262,1318.3 1262.5,1332.2 1262.9,1313.8 1263.3,1320.5 1263.8,1320.2 1264.2,1323 1264.6,1320.6 1265,1319.9 1265.5,1313.3 1265.9,1322.6 1266.3,1312.3 1266.8,1317.5 1267.2,1314.1 1267.6,1320.9 1268.1,1320.9 1268.5,1320.7 1268.9,1309 1269.4,1320.6 1269.8,1319.9 1270.2,1312.7 1270.7,1310.7 1271.1,1318.8 1271.5,1310.3 1272,1320.4 1272.4,1314.6 1272.8,1298.2 1273.3,1333.6 1273.7,1318.1 1274.1,1305.2 1274.6,1310.7 1275,1304.1 1275.4,1310.5 1275.8,1313.1 1276.3,1301.1 1276.7,1308.7 1277.1,1300.4 1277.6,1299.1 1278,1297.9 1278.4,1303.2 1278.9,1320.2 1279.3,1310.1 1279.7,1307.3 1280.2,1309.9 1280.6,1306 1281,1312.1 1281.5,1301 1281.9,1305.5 1282.3,1290.7 1282.8,1299.1 1283.2,1304.4 1283.6,1294 1284.1,1289.9 1284.5,1305.6 1284.9,1312.9 1285.4,1329.1 1285.8,1307.6 1286.2,1297.7 1286.6,1315.6 1287.1,1285.8 1287.5,1298.7 1287.9,1297.6 1288.4,1306.3 1288.8,1307.8 1289.2,1301.6 1289.7,1306.2 1290.1,1300.6 1290.5,1288.2 1291,1311.5 1291.4,1288.8 1291.8,1302.8 1292.3,1312.1 1292.7,1283.7 1293.1,1310.1 1293.6,1295.9 1294,1301.3 1294.4,1299.6 1294.9,1298.5 1295.3,1309.2 1295.7,1294.2 1296.2,1304.6 1296.6,1321.3 1297,1320.8 1297.4,1307.7 1297.9,1308 1298.3,1315.4 1298.7,1293.8 1299.2,1304 1299.6,1313 1300,1312.6 1300.5,1317.2 1300.9,1311.9 1301.3,1311.6 1301.8,1307.2 1302.2,1314.3 1302.6,1323.8 1303.1,1311.2 1303.5,1309.8 1303.9,1306.6 1304.4,1308 1304.8,1318 1305.2,1318.3 1305.7,1314.3 1306.1,1326.8 1306.5,1326.3 1307,1322.4 1307.4,1318.9 1307.8,1326.9 1308.2,1344.4 1308.7,1332.8 1309.1,1336.5 1309.5,1333.7 1310,1331.2 1310.4,1331.1 1310.8,1327.3 1311.3,1334.5 1311.7,1333.2 1312.1,1324 1312.6,1337.8 1313,1332.8 1313.4,1338 1313.9,1333.2 1314.3,1342.2 1314.7,1335.5 1315.2,1332 1315.6,1341.5 1316,1344 1316.5,1339.5 1316.9,1350 1317.3,1337.5 1317.8,1339.5 1318.2,1350 1318.6,1335.7 1319,1345.7 1319.5,1350 1319.9,1347.8 1320.3,1350 1320.8,1350 1321.2,1350 1321.6,1350 1322.1,1346.7 1322.5,1348.4 1322.9,1346.6 1323.4,1350 1323.8,1350 1324.2,1350 1324.7,1346.3 1325.1,1348.8 1325.5,1344.9 1326,1350 1326.4,1350 1326.8,1348.5 1327.3,1348.4 1327.7,1350 1328.1,1350 1328.6,1350 1329,1350 1329.4,1350 1329.8,1350 1330.3,1350 1330.7,1350 1331.1,1350 1331.6,1350 1332,1350 1332.4,1350 1332.9,1350 1333.3,1350 1333.7,1350 1334.2,1350 1334.6,1350 1335,1350 1335.5,1350 1335.9,1350 1336.3,1350 1336.8,1350 1337.2,1350 1337.6,1350 1338.1,1350 1338.5,1350 1338.9,1350 1339.4,1350 1339.8,1350 1340.2,1350 1340.6,1350 1341.1,1350 1341.5,1350 1341.9,1350 1342.4,1350 1342.8,1350 1343.2,1350 1343.7,1349.5 1344.1,1350 1344.5,1350 1345,1350 1345.4,1350 1345.8,1350 1346.3,1350 1346.7,1346.7 1347.1,1350 1347.6,1350 1348,1348 1348.4,1350 1348.9,1350 1349.3,1350 1349.7,1350 1350.2,1350 1350.6,1347.6 1351,1350 1351.4,1350 1351.9,1350 1352.3,1350 1352.7,1350 1353.2,1350 1353.6,1350 1354,1350 1354.5,1350 1354.9,1350 1355.3,1350 1355.8,1350 1356.2,1350 1356.6,1350 1357.1,1350 1357.5,1350 1357.9,1350 1358.4,1350 1358.8,1350 1359.2,1350 1359.7,1349.7 1360.1,1350 1360.5,1350 1361,1350 1361.4,1347.3 1361.8,1350 1362.2,1350 1362.7,1349.4 1363.1,1350 1363.5,1350 1364,1346.9 1364.4,1350 1364.8,1350 1365.3,1350 1365.7,1350 1366.1,1345.9 1366.6,1350 1367,1350 1367.4,1350 1367.9,1350 1368.3,1346.7 1368.7,1350 1369.2,1350 1369.6,1350 1370,1341.2 1370.5,1350 1370.9,1350 1371.3,1350 1371.8,1350 1372.2,1350 1372.6,1350 1373,1338.8 1373.5,1348.7 1373.9,1350 1374.3,1350 1374.8,1350 1375.2,1350 1375.6,1350 1376.1,1350 1376.5,1348.2 1376.9,1350 1377.4,1346.8 1377.8,1350 1378.2,1350 1378.7,1348.1 1379.1,1350 1379.5,1350 1380,1350 1380.4,1350 1380.8,1350 1381.3,1350 1381.7,1350 1382.1,1349.6 1382.6,1350 1383,1350 1383.4,1350 1383.8,1350 1384.3,1350 1384.7,1350 1385.1,1350 1385.6,1346.5 1386,1350 1386.4,1350 1386.9,1350 1387.3,1350 1387.7,1350 1388.2,1350 1388.6,1350 1389,1350 1389.5,1350 1389.9,1350 1390.3,1350 1390.8,1350 1391.2,1350 1391.6,1350 1392.1,1350 1392.5,1348.2 1392.9,1350 1393.4,1350 1393.8,1350 1394.2,1350 1394.6,1350 1395.1,1348.6 1395.5,1349.6 1395.9,1350 1396.4,1350 1396.8,1350 1397.2,1350 1397.7,1350 1398.1,1350 1398.5,1350 1399,1350 1399.4,1350 1399.8,1349.3 1400.3,1350 1400.7,1350 1401.1,1347.6 1401.6,1350 1402,1350 1402.4,1349.9 1402.9,1350 1403.3,1350 1403.7,1350 1404.2,1350 1404.6,1350 1405,1350 1405.4,1350 1405.9,1350 1406.3,1350 1406.7,1350 1407.2,1348.6 1407.6,1345.3 1408,1350 1408.5,1338.4 1408.9,1350 1409.3,1348.8 1409.8,1341.2 1410.2,1350 1410.6,1350 1411.1,1350 1411.5,1348 1411.9,1350 1412.4,1347.1 1412.8,1350 1413.2,1347.8 1413.7,1344 1414.1,1350 1414.5,1341.2 1415,1348.6 1415.4,1350 1415.8,1341.7 1416.2,1347.9 1416.7,1350 1417.1,1348.8 1417.5,1344.8 1418,1348.2 1418.4,1342.7 1418.8,1350 1419.3,1346.2 1419.7,1348.6 1420.1,1347.7 1420.6,1346.9 1421,1342.3 1421.4,1349.6 1421.9,1350 1422.3,1342.5 1422.7,1345.1 1423.2,1350 1423.6,1342.7 1424,1346 1424.5,1348.9 1424.9,1343.5 1425.3,1348.3 1425.8,1337.7 1426.2,1344 1426.6,1345.3 1427,1350 1427.5,1343.4 1427.9,1343.1 1428.3,1347.1 1428.8,1347.2 1429.2,1341.1 1429.6,1348.7 1430.1,1331.6 1430.5,1347.4 1430.9,1339.1 1431.4,1350 1431.8,1336.9 1432.2,1347.2 1432.7,1343.7 1433.1,1337.2 1433.5,1346.3 1434,1332.2 1434.4,1350 1434.8,1336 1435.3,1345.1 1435.7,1350 1436.1,1333.6 1436.6,1329.9 1437,1335.8 1437.4,1330.5 1437.8,1335 1438.3,1342.1 1438.7,1322.7 1439.1,1336.8 1439.6,1329 1440,1337.8 1440.4,1337.1 1440.9,1346 1441.3,1340 1441.7,1338.6 1442.2,1341.6 1442.6,1320.1 1443,1325.5 1443.5,1343.7 1443.9,1333.3 1444.3,1338.7 1444.8,1332.1 1445.2,1334.9 1445.6,1326.1 1446.1,1324.6 1446.5,1325.4 1446.9,1326.6 1447.4,1333.6 1447.8,1334.8 1448.2,1310.3 1448.6,1334.1 1449.1,1326.9 1449.5,1324.5 1449.9,1335.7 1450.4,1342.2 1450.8,1342.5 1451.2,1328.5 1451.7,1333.1 1452.1,1318.7 1452.5,1320.9 1453,1327.4 1453.4,1321.3 1453.8,1326 1454.3,1315.4 1454.7,1322 1455.1,1328.8 1455.6,1322.6 1456,1318.9 1456.4,1326.7 1456.9,1322.6 1457.3,1329.3 1457.7,1333.4 1458.2,1330.7 1458.6,1320.9 1459,1318.7 1459.4,1302.7 1459.9,1312.8 1460.3,1308.8 1460.7,1320.5 1461.2,1320.6 1461.6,1314.1 1462,1314.2 1462.5,1320.9 1462.9,1331.6 1463.3,1311 1463.8,1314 1464.2,1314.7 1464.6,1319.6 1465.1,1307.3 1465.5,1304.5 1465.9,1307.7 1466.4,1306.4 1466.8,1312.2 1467.2,1321.6 1467.7,1318.7 1468.1,1312.2 1468.5,1320.7 1469,1301 1469.4,1311.8 1469.8,1318.2 1470.2,1309.8 1470.7,1320.6 1471.1,1312.4 1471.5,1303.6 1472,1315.2 1472.4,1311.9 1472.8,1308.8 1473.3,1316 1473.7,1309.8 1474.1,1310.3 1474.6,1322.4 1475,1318.1 1475.4,1336.3 1475.9,1323.3 1476.3,1321.6 1476.7,1320.3 1477.2,1327.4 1477.6,1319.2 1478,1322.8 1478.5,1331.7 1478.9,1329.6 1479.3,1327.4 1479.8,1323.5 1480.2,1334.9 1480.6,1323.8 1481,1328.5 1481.5,1332.6 1481.9,1327.2 1482.3,1336 1482.8,1332 1483.2,1336.6 1483.6,1330.8 1484.1,1334.2 1484.5,1338 1484.9,1326.1 1485.4,1342.1 1485.8,1335.8 1486.2,1332.3 1486.7,1336.6 1487.1,1343.6 1487.5,1345.6 1488,1343.4 1488.4,1341.9 1488.8,1344.2 1489.3,1341.9 1489.7,1332.9 1490.1,1344.9 1490.6,1348.2 1491,1336.5 1491.4,1340.7 1491.8,1345.7 1492.3,1339 1492.7,1343 1493.1,1340.7 1493.6,1345 1494,1342.7 1494.4,1344.9 1494.9,1345.8 1495.3,1343.5 1495.7,1337.4 1496.2,1345.3 1496.6,1348.9 1497,1347.1 1497.5,1341.7 1497.9,1344.3 1498.3,1349.2 1498.8,1348.9 1499.2,1346.1 1499.6,1342.3 1500.1,1339.6 1500.5,1340.2 1500.9,1345.2 1501.4,1342.6 1501.8,1341.5 1502.2,1344.3 1502.6,1350 1503.1,1338.5 1503.5,1340.4 1503.9,1344.7 1504.4,1340.3 1504.8,1341.8 1505.2,1346.3 1505.7,1350 1506.1,1344.8 1506.5,1347.4 1507,1347.2 1507.4,1342.8 1507.8,1350 1508.3,1345.5 1508.7,1337.7 1509.1,1343.3 1509.6,1349.7 1510,1344.8 1510.4,1345.6 1510.9,1342.2 1511.3,1348.2 1511.7,1340.8 1512.2,1341.6 1512.6,1338 1513,1342.8 1513.4,1339.3 1513.9,1350 1514.3,1350 1514.7,1344.5 1515.2,1345.1 1515.6,1347.4 1516,1344.7 1516.5,1342.6 1516.9,1342.8 1517.3,1350 1517.8,1342 1518.2,1343.8 1518.6,1347.3 1519.1,1347.7 1519.5,1343.5 1519.9,1347.6 1520.4,1347.1 1520.8,1342.6 1521.2,1339.4 1521.7,1345.2 1522.1,1348.7 1522.5,1345.6 1523,1347.7 1523.4,1350 1523.8,1342.9 1524.2,1344.1 1524.7,1349.8 1525.1,1347.9 1525.5,1346.1 1526,1350 1526.4,1343.1 1526.8,1344.9 1527.3,1349.7 1527.7,1350 1528.1,1338.4 1528.6,1350 1529,1341.5 1529.4,1343.9 1529.9,1343.9 1530.3,1349.1 1530.7,1346.8 1531.2,1346.1 1531.6,1339.1 1532,1345.6 1532.5,1350 1532.9,1343.6 1533.3,1340.8 1533.8,1340.5 1534.2,1346.5 1534.6,1346.1 1535,1349 1535.5,1346 1535.9,1344.1 1536.3,1343.4 1536.8,1350 1537.2,1344.3 1537.6,1343.7 1538.1,1344.6 1538.5,1350 1538.9,1346.6 1539.4,1340.9 1539.8,1339.8 1540.2,1346 1540.7,1344.7 1541.1,1349.5 1541.5,1347.3 1542,1346.2 1542.4,1337.5 1542.8,1350 1543.3,1342 1543.7,1341.3 1544.1,1341.1 1544.6,1348.8 1545,1344.9 1545.4,1346.2 1545.8,1344.2 1546.3,1346.8 1546.7,1348.2 1547.1,1347.9 1547.6,1350 1548,1340.8 1548.4,1349.7 1548.9,1348.5 1549.3,1343.1 1549.7,1345.5 1550.2,1346.2 1550.6,1341.9 1551,1345.1 1551.5,1344 1551.9,1345.7 1552.3,1350 1552.8,1348.4 1553.2,1345.1 1553.6,1348.2 1554.1,1341.5 1554.5,1348.3 1554.9,1347.8 1555.4,1348.5 1555.8,1347.6 1556.2,1339.3 1556.6,1348.9 1557.1,1350 1557.5,1348.9 1557.9,1350 1558.4,1345.3 1558.8,1346.7 1559.2,1348.3 1559.7,1349 1560.1,1348.2 1560.5,1350 1561,1346.3 1561.4,1348.6 1561.8,1339.9 1562.3,1347.1 1562.7,1345.1 1563.1,1349.2 1563.6,1346.2 1564,1341.4 1564.4,1350 1564.9,1345.3 1565.3,1345.6 1565.7,1343.6 1566.2,1348.1 1566.6,1347.2 1567,1346.9 1567.4,1340.6 1567.9,1341.2 1568.3,1345.9 1568.7,1343.3 1569.2,1348.8 1569.6,1346.6 1570,1346.9 1570.5,1345 1570.9,1340.2 1571.3,1347.1 1571.8,1346.9 1572.2,1342.6 1572.6,1344.1 1573.1,1340.7 1573.5,1333.4 1573.9,1341.6 1574.4,1345.8 1574.8,1346.5 1575.2,1341.3 1575.7,1349.2 1576.1,1346.5 1576.5,1344.2 1577,1343.8 1577.4,1347.8 1577.8,1337.4 1578.2,1340.3 1578.7,1341.7 1579.1,1344.7 1579.5,1348.2 1580,1339.8 1580.4,1346.4 1580.8,1347.2 1581.3,1347 1581.7,1341.3 1582.1,1347.9 1582.6,1334.9 1583,1350 1583.4,1346.4 1583.9,1342.8 1584.3,1347.6 1584.7,1344.3 1585.2,1346.6 1585.6,1350 1586,1344.2 1586.5,1336.8 1586.9,1350 1587.3,1349.1 1587.8,1350 1588.2,1342.3 1588.6,1348.4 1589,1343.7 1589.5,1344.9 1589.9,1341.4 1590.3,1339.9 1590.8,1343.8 1591.2,1347.9 1591.6,1340.3 1592.1,1338.9 1592.5,1344.3 1592.9,1350 1593.4,1342.6 1593.8,1339.9 1594.2,1350 1594.7,1338.8 1595.1,1346.5 1595.5,1349.7 1596,1337.6 1596.4,1340 1596.8,1333.1 1597.3,1342 1597.7,1339.6 1598.1,1339.4 1598.6,1331.4 1599,1336.3 1599.4,1341.3 1599.8,1343.1 1600.3,1340.9 1600.7,1343 1601.1,1343.7 1601.6,1339.5 1602,1343.6 1602.4,1339.3 1602.9,1338.6 1603.3,1345.6 1603.7,1345.8 1604.2,1346.9 1604.6,1332.8 1605,1340.8 1605.5,1344.3 1605.9,1333.5 1606.3,1331.3 1606.8,1337.7 1607.2,1333.1 1607.6,1339.9 1608.1,1340.8 1608.5,1338.7 1608.9,1336.3 1609.4,1335.3 1609.8,1342.5 1610.2,1345.1 1610.6,1331.2 1611.1,1338.1 1611.5,1340.4 1611.9,1340.9 1612.4,1339.7 1612.8,1346 1613.2,1341.6 1613.7,1343.8 1614.1,1339.5 1614.5,1342.6 1615,1339.9 1615.4,1338.5 1615.8,1341.9 1616.3,1336.8 1616.7,1323.8 1617.1,1340.9 1617.6,1338.1 1618,1333.8 1618.4,1333.9 1618.9,1341.1 1619.3,1333 1619.7,1339.8 1620.2,1341.7 1620.6,1341.3 1621,1336.8 1621.4,1340.6 1621.9,1340.3 1622.3,1336.6 1622.7,1336.5 1623.2,1344.1 1623.6,1340.9 1624,1330.7 1624.5,1343.7 1624.9,1325.9 1625.3,1337.9 1625.8,1336.4 1626.2,1339 1626.6,1333.8 1627.1,1350 1627.5,1330.1 1627.9,1334.8 1628.4,1334.7 1628.8,1343.4 1629.2,1338.1 1629.7,1330.8 1630.1,1333.9 1630.5,1337.5 1631,1337.8 1631.4,1338.4 1631.8,1336.2 1632.2,1338.5 1632.7,1333.6 1633.1,1335.1 1633.5,1331.7 1634,1331.4 1634.4,1340.3 1634.8,1345.7 1635.3,1328.6 1635.7,1341.7 1636.1,1336.9 1636.6,1337.4 1637,1329.6 1637.4,1344.6 1637.9,1342.1 1638.3,1338.4 1638.7,1346.4 1639.2,1338.9 1639.6,1343.6 1640,1338 1640.5,1343.8 1640.9,1344.2 1641.3,1331.8 1641.8,1345.8 1642.2,1345 1642.6,1339 1643,1335.7 1643.5,1338.2 1643.9,1344 1644.3,1339.1 1644.8,1338.1 1645.2,1343 1645.6,1345.2 1646.1,1338.3 1646.5,1337.3 1646.9,1342.4 1647.4,1341.2 1647.8,1349.3 1648.2,1339.9 1648.7,1348.2 1649.1,1337.6 1649.5,1336.7 1650,1348.5 1650.4,1347.5 1650.8,1344.7 1651.3,1341 1651.7,1350 1652.1,1349.7 1652.6,1339.1 1653,1345.7 1653.4,1345.7 1653.8,1343.6 1654.3,1339.8 1654.7,1348.5 1655.1,1350 1655.6,1350 1656,1339.1 1656.4,1346.4 1656.9,1344 1657.3,1347.7 1657.7,1343.2 1658.2,1344.6 1658.6,1341.6 1659,1345.1 1659.5,1350 1659.9,1338.9 1660.3,1350 1660.8,1341.5 1661.2,1343.9 1661.6,1345.9 1662.1,1341.8 1662.5,1342.4 1662.9,1343.7 1663.4,1338.4 1663.8,1349.2 1664.2,1343.1 1664.6,1347.9 1665.1,1346.7 1665.5,1345 1665.9,1350 1666.4,1343.2 1666.8,1350 1667.2,1343.4 1667.7,1350 1668.1,1348.8 1668.5,1340.8 1669,1345.6 1669.4,1342.4 1669.8,1348.1 1670.3,1342 1670.7,1346.8 1671.1,1343.3 1671.6,1347.8 1672,1350 1672.4,1342.7 1672.9,1347.8 1673.3,1346.5 1673.7,1338.9 1674.2,1347.5 1674.6,1350 1675,1342.7 1675.4,1350 1675.9,1347.1 1676.3,1348.4 1676.7,1348.2 1677.2,1348.6 1677.6,1350 1678,1346.1 1678.5,1342.5 1678.9,1342.8 1679.3,1344.9 1679.8,1346.2 1680.2,1350 1680.6,1350 1681.1,1341.3 1681.5,1348.8 1681.9,1350 1682.4,1347.1 1682.8,1349.4 1683.2,1346.8 1683.7,1344.8 1684.1,1350 1684.5,1346.2 1685,1344.5 1685.4,1346.8 1685.8,1349.2 1686.2,1344.9 1686.7,1346 1687.1,1350 1687.5,1350 1688,1346.4 1688.4,1350 1688.8,1350 1689.3,1344.6 1689.7,1348.2 1690.1,1350 1690.6,1348 1691,1349.8 1691.4,1343.4 1691.9,1348.7 1692.3,1339 1692.7,1342 1693.2,1342.8 1693.6,1345.6 1694,1344.9 1694.5,1350 1694.9,1341 1695.3,1337.2 1695.8,1347.9 1696.2,1347.2 1696.6,1350 1697,1348.9 1697.5,1350 1697.9,1340 1698.3,1350 1698.8,1346.6 1699.2,1343.4 1699.6,1345.1 1700.1,1350 1700.5,1346.3 1700.9,1346.6 1701.4,1346.5 1701.8,1347.5 1702.2,1350 1702.7,1348.1 1703.1,1350 1703.5,1345 1704,1350 1704.4,1350 1704.8,1347.5 1705.3,1347.9 1705.7,1350 1706.1,1350 1706.6,1350 1707,1347.3 1707.4,1346.7 1707.8,1350 1708.3,1344.9 1708.7,1344.4 1709.1,1350 1709.6,1350 1710,1342.7 1710.4,1350 1710.9,1350 1711.3,1350 1711.7,1340.5 1712.2,1343.7 1712.6,1350 1713,1345.3 1713.5,1344.1 1713.9,1341.3 1714.3,1342 1714.8,1340.9 1715.2,1347.2 1715.6,1342.9 1716.1,1348.4 1716.5,1337.9 1716.9,1348.8 1717.4,1341.3 1717.8,1335.4 1718.2,1348.6 1718.6,1343.6 1719.1,1340.1 1719.5,1343.4 1719.9,1339.4 1720.4,1338.5 1720.8,1344.5 1721.2,1336.8 1721.7,1347 1722.1,1344.8 1722.5,1346.5 1723,1348.3 1723.4,1337.2 1723.8,1344 1724.3,1342.7 1724.7,1348.2 1725.1,1336.2 1725.6,1343.3 1726,1344.2 1726.4,1331 1726.9,1334.4 1727.3,1334.1 1727.7,1335.6 1728.2,1331.6 1728.6,1337.5 1729,1340.9 1729.4,1331.7 1729.9,1347.6 1730.3,1336.5 1730.7,1334.4 1731.2,1336.1 1731.6,1328.6 1732,1338.6 1732.5,1336 1732.9,1331.2 1733.3,1331.9 1733.8,1326.1 1734.2,1332.9 1734.6,1335 1735.1,1337.5 1735.5,1335.7 1735.9,1346.3 1736.4,1336.6 1736.8,1348.4 1737.2,1336.2 1737.7,1334.1 1738.1,1335.8 1738.5,1339 1739,1329.8 1739.4,1333.5 1739.8,1335.2 1740.2,1334.3 1740.7,1338.7 1741.1,1344.5 1741.5,1333.3 1742,1340 1742.4,1339.2 1742.8,1333.2 1743.3,1332.6 1743.7,1340.2 1744.1,1347.9 1744.6,1337.7 1745,1337.2 1745.4,1341.3 1745.9,1339.2 1746.3,1338.7 1746.7,1342.4 1747.2,1339.3 1747.6,1338.5 1748,1342.9 1748.5,1343.3 1748.9,1339.9 1749.3,1339.7 1749.8,1335.6 1750.2,1338.9 1750.6,1340.9 1751,1341.9 1751.5,1340.9 1751.9,1345.4 1752.3,1350 1752.8,1346.5 1753.2,1337.9 1753.6,1345.1 1754.1,1350 1754.5,1343.8 1754.9,1343.6 1755.4,1349.8 1755.8,1348.1 1756.2,1346.4 1756.7,1341.3 1757.1,1345.3 1757.5,1346.4 1758,1350 1758.4,1341.6 1758.8,1341.9 1759.3,1344 1759.7,1346.4 1760.1,1344.7 1760.6,1346.2 1761,1344.8 1761.4,1342.9 1761.8,1346 1762.3,1349.1 1762.7,1344.4 1763.1,1350 1763.6,1350 1764,1342.2 1764.4,1350 1764.9,1350 1765.3,1350 1765.7,1348.4 1766.2,1349.3 1766.6,1344.4 1767,1348.5 1767.5,1350 1767.9,1350 1768.3,1346.8 1768.8,1350 1769.2,1344.3 1769.6,1345.7 1770.1,1348.4 1770.5,1347.3 1770.9,1350 1771.4,1347.6 1771.8,1345.3 1772.2,1350 1772.6,1345.1 1773.1,1342.3 1773.5,1340.5 1773.9,1345 1774.4,1347.2 1774.8,1345.8 1775.2,1350 1775.7,1346.9 1776.1,1346.1 1776.5,1350 1777,1349.3 1777.4,1345.9 1777.8,1349.6 1778.3,1342.2 1778.7,1350 1779.1,1347.3 1779.6,1346.7 1780,1345 1780.4,1350 1780.9,1350 1781.3,1347.5 1781.7,1347.9 1782.2,1348.3 1782.6,1344 1783,1349.7 1783.4,1342.9 1783.9,1346.8 1784.3,1342.4 1784.7,1345.2 1785.2,1344.8 1785.6,1347.1 1786,1345.9 1786.5,1350 1786.9,1341.9 1787.3,1341.6 1787.8,1348.5 1788.2,1343.5 1788.6,1349.3 1789.1,1344.1 1789.5,1350 1789.9,1347.5 1790.4,1345.5 1790.8,1348 1791.2,1344.2 1791.7,1350 1792.1,1349.6 1792.5,1343.2 1793,1350 1793.4,1348.9 1793.8,1350 1794.2,1349.9 1794.7,1349.6 1795.1,1342.4 1795.5,1349.3 1796,1344.5 1796.4,1346.3 1796.8,1349.5 1797.3,1350 1797.7,1340.5 1798.1,1348.7 1798.6,1350 1799,1350 1799.4,1347.9 1799.9,1348.1 1800.3,1347 1800.7,1350 1801.2,1350 1801.6,1350 1802,1350 1802.5,1350 1802.9,1349.8 1803.3,1345.4 1803.8,1350 1804.2,1345.9 1804.6,1350 1805,1344.7 1805.5,1349 1805.9,1350 1806.3,1349.2 1806.8,1350 1807.2,1345.7 1807.6,1349.6 1808.1,1342.4 1808.5,1350 1808.9,1350 1809.4,1350 1809.8,1346.8 1810.2,1350 1810.7,1350 1811.1,1342 1811.5,1348.6 1812,1342.6 1812.4,1350 1812.8,1349.1 1813.3,1347.1 1813.7,1350 1814.1,1350 1814.6,1350 1815,1347.3 1815.4,1345.8 1815.8,1344.2 1816.3,1347.1 1816.7,1348.3 1817.1,1350 1817.6,1338 1818,1339.8 1818.4,1350 1818.9,1345.6 1819.3,1348 1819.7,1350 1820.2,1350 1820.6,1347.1 1821,1345.4 1821.5,1343.5 1821.9,1350 1822.3,1350 1822.8,1345 1823.2,1348.4 1823.6,1349.6 1824.1,1349 1824.5,1346.1 1824.9,1350 1825.4,1350 1825.8,1345.1 1826.2,1347.7 1826.6,1350 1827.1,1348.9 1827.5,1348.3 1827.9,1344.4 1828.4,1347.2 1828.8,1347.9 1829.2,1350 1829.7,1347.9 1830.1,1350 1830.5,1347.4 1831,1340.2 1831.4,1350 1831.8,1344.9 1832.3,1342.7 1832.7,1350 1833.1,1346.2 1833.6,1350 1834,1348.3 1834.4,1350 1834.9,1348.2 1835.3,1346 1835.7,1349.4 1836.2,1347.6 1836.6,1346.8 1837,1347.4 1837.4,1349.1 1837.9,1350 1838.3,1350 1838.7,1342.8 1839.2,1350 1839.6,1341.4 1840,1346.2 1840.5,1344 1840.9,1349.6 1841.3,1344.7 1841.8,1349.1 1842.2,1350 1842.6,1350 1843.1,1350 1843.5,1340.3 1843.9,1346.4 1844.4,1347.7 1844.8,1348.8 1845.2,1342.1 1845.7,1342.8 1846.1,1346.6 1846.5,1349.2 1847,1348.3 1847.4,1343.7 1847.8,1350 1848.2,1348.8 1848.7,1348.4 1849.1,1350 1849.5,1345.4 1850,1348.7 1850.4,1350 1850.8,1350 1851.3,1348.1 1851.7,1350 1852.1,1350 1852.6,1349.5 1853,1350 1853.4,1350 1853.9,1348.9 1854.3,1350 1854.7,1348.7 1855.2,1350 1855.6,1350 1856,1347 1856.5,1346.5 1856.9,1350 1857.3,1350 1857.8,1350 1858.2,1350 1858.6,1348.7 1859,1350 1859.5,1350 1859.9,1350 1860.3,1344.6 1860.8,1344.4 1861.2,1350 1861.6,1346.5 1862.1,1349.7 1862.5,1350 1862.9,1350 1863.4,1350 1863.8,1350 1864.2,1350 1864.7,1350 1865.1,1348.3 1865.5,1350 1866,1343.6 1866.4,1345.4 1866.8,1350 1867.3,1346.2 1867.7,1349.9 1868.1,1346.8 1868.6,1344.1 1869,1350 1869.4,1350 1869.8,1345 1870.3,1350 1870.7,1348.6 1871.1,1346.3 1871.6,1350 1872,1343.6 1872.4,1348.6 1872.9,1349.9 1873.3,1340.2 1873.7,1339.9 1874.2,1343.2 1874.6,1346.4 1875,1344.5 1875.5,1350 1875.9,1350 1876.3,1342.4 1876.8,1346.3 1877.2,1345.5 1877.6,1343.6 1878.1,1340.3 1878.5,1343.5 1878.9,1350 1879.4,1348.3 1879.8,1346.2 1880.2,1344.9 1880.6,1341.8 1881.1,1342 1881.5,1344.8 1881.9,1338 1882.4,1342.7 1882.8,1347.5 1883.2,1337 1883.7,1346.3 1884.1,1347.8 1884.5,1345.2 1885,1338 1885.4,1341.8 1885.8,1338.8 1886.3,1350 1886.7,1338.7 1887.1,1343 1887.6,1339.6 1888,1343.5 1888.4,1339 1888.9,1339.8 1889.3,1335.8 1889.7,1336.7 1890.2,1350 1890.6,1341.5 1891,1343.3 1891.4,1338.8 1891.9,1342.5 1892.3,1336.5 1892.7,1337.2 1893.2,1338 1893.6,1336.6 1894,1346.5 1894.5,1340.6 1894.9,1341.4 1895.3,1342.1 1895.8,1339.3 1896.2,1343.8 1896.6,1342.5 1897.1,1335.6 1897.5,1339.7 1897.9,1345.4 1898.4,1346 1898.8,1339.4 1899.2,1335.7 1899.7,1335.4 1900.1,1344.1 1900.5,1345.4 1901,1337.3 1901.4,1341.9 1901.8,1339.5 1902.2,1342.4 1902.7,1344.2 1903.1,1340.7 1903.5,1338.8 1904,1338.3 1904.4,1347.6 1904.8,1346.1 1905.3,1337.8 1905.7,1348.9 1906.1,1345.8 1906.6,1341.9 1907,1340 1907.4,1338.3 1907.9,1340.6 1908.3,1345.5 1908.7,1344 1909.2,1341.6 1909.6,1350 1910,1347.5 1910.5,1343.2 1910.9,1346.1 1911.3,1344.4 1911.8,1344.3 1912.2,1339.4 1912.6,1345.3 1913,1344.4 1913.5,1350 1913.9,1350 1914.3,1348.3 1914.8,1346.2 1915.2,1348.3 1915.6,1347.1 1916.1,1344.9 1916.5,1347.3 1916.9,1349.9 1917.4,1347.2 1917.8,1348.4 1918.2,1349 1918.7,1348.5 1919.1,1346 1919.5,1350 1920,1347.3 1920.4,1348.4 1920.8,1350 1921.3,1348.9 1921.7,1343.6 1922.1,1346.4 1922.6,1350 1923,1350 1923.4,1350 1923.8,1350 1924.3,1350 1924.7,1350 1925.1,1350 1925.6,1350 1926,1348.8 1926.4,1350 1926.9,1350 1927.3,1350 1927.7,1350 1928.2,1350 1928.6,1350 1929,1350 1929.5,1350 1929.9,1350 1930.3,1350 1930.8,1350 1931.2,1350 1931.6,1350 1932.1,1349.9 1932.5,1350 1932.9,1350 1933.4,1350 1933.8,1350 1934.2,1350 1934.6,1350 1935.1,1350 1935.5,1350 1935.9,1350 1936.4,1350 1936.8,1350 1937.2,1350 1937.7,1350 1938.1,1350 1938.5,1350 1939,1350 1939.4,1350 1939.8,1350 1940.3,1350 1940.7,1350 1941.1,1350 1941.6,1350 1942,1350 1942.4,1350 1942.9,1350 1943.3,1350 1943.7,1350 1944.2,1350 1944.6,1350 1945,1350 1945.4,1350 1945.9,1350 1946.3,1350 1946.7,1350 1947.2,1350 1947.6,1350 1948,1350 1948.5,1350 1948.9,1350 1949.3,1350 1949.8,1350 1950.2,1350 1950.6,1350 1951.1,1350 1951.5,1350 1951.9,1350 1952.4,1350 1952.8,1350 1953.2,1350 1953.7,1350 1954.1,1350 1954.5,1350 1955,1350 1955.4,1350 1955.8,1350 1956.2,1350 1956.7,1350 1957.1,1350 1957.5,1350 1958,1350 1958.4,1350 1958.8,1350 1959.3,1350 1959.7,1350 1960.1,1350 1960.6,1350 1961,1349.8 1961.4,1350 1961.9,1350 1962.3,1350 1962.7,1350 1963.2,1345.5 1963.6,1349 1964,1350 1964.5,1350 1964.9,1347.6 1965.3,1350 1965.8,1348.7 1966.2,1347.2 1966.6,1343.7 1967,1346.1 1967.5,1350 1967.9,1343.9 1968.3,1349.5 1968.8,1348.7 1969.2,1337.6 1969.6,1346.8 1970.1,1349.5 1970.5,1350 1970.9,1348.9 1971.4,1349.7 1971.8,1342.5 1972.2,1347.5 1972.7,1342.7 1973.1,1341.5 1973.5,1350 1974,1350 1974.4,1350 1974.8,1349.1 1975.3,1344.4 1975.7,1350 1976.1,1349.1 1976.6,1347.2 1977,1346.3 1977.4,1349.9 1977.8,1345.1 1978.3,1350 1978.7,1340.3 1979.1,1341.5 1979.6,1346.2 1980,1342 1980.4,1345 1980.9,1347.6 1981.3,1349.5 1981.7,1343.8 1982.2,1350 1982.6,1343.8 1983,1346.9 1983.5,1337.6 1983.9,1349 1984.3,1342.6 1984.8,1343.3 1985.2,1350 1985.6,1346 1986.1,1350 1986.5,1349.8 1986.9,1345.6 1987.4,1350 1987.8,1347.4 1988.2,1348.8 1988.6,1350 1989.1,1344 1989.5,1349.5 1989.9,1347.9 1990.4,1345.2 1990.8,1350 1991.2,1350 1991.7,1345.1 1992.1,1345 1992.5,1344.9 1993,1348.8 1993.4,1345 1993.8,1350 1994.3,1342.8 1994.7,1349.3 1995.1,1344.6 1995.6,1350 1996,1344.2 1996.4,1345.6 1996.9,1350 1997.3,1345.8 1997.7,1350 1998.2,1350 1998.6,1345.4 1999,1347.9 1999.4,1347.8 1999.9,1350 2000.3,1350 2000.7,1349.4 2001.2,1343 2001.6,1343.4 2002,1348 2002.5,1348.2 2002.9,1345.1 2003.3,1347.7 2003.8,1345.7 2004.2,1342.6 2004.6,1347.4 2005.1,1348.5 2005.5,1347.8 2005.9,1345.7 2006.4,1344.7 2006.8,1346.6 2007.2,1347.2 2007.7,1348.5 2008.1,1347.8 2008.5,1349.7 2009,1342.4 2009.4,1343 2009.8,1349.5 2010.2,1350 2010.7,1343.7 2011.1,1341.3 2011.5,1349.4 2012,1347 2012.4,1344.5 2012.8,1344.4 2013.3,1338.9 2013.7,1346 2014.1,1349.5 2014.6,1341.6 2015,1345.8 2015.4,1348.8 2015.9,1348.7 2016.3,1348.3 2016.7,1345.8 2017.2,1345.7 2017.6,1348.6 2018,1348 2018.5,1350 2018.9,1343.3 2019.3,1343.3 2019.8,1347.9 2020.2,1350 2020.6,1346.4 2021,1350 2021.5,1345.7 2021.9,1347.2 2022.3,1348.7 2022.8,1348.8 2023.2,1346.2 2023.6,1349.5 2024.1,1350 2024.5,1346 2024.9,1342.5 2025.4,1346.3 2025.8,1347.3 2026.2,1344.9 2026.7,1342.6 2027.1,1350 2027.5,1349.2 2028,1348.7 2028.4,1345.9 2028.8,1348 2029.3,1347.4 2029.7,1348.6 2030.1,1349.8 2030.6,1347.8 2031,1347.4 2031.4,1343.1 2031.8,1345.2 2032.3,1345.6 2032.7,1350 2033.1,1345.9 2033.6,1350 2034,1350 2034.4,1350 2034.9,1349.3 2035.3,1346.7 2035.7,1345.6 2036.2,1345.7 2036.6,1341.7 2037,1344.9 2037.5,1345.8 2037.9,1347.1 2038.3,1349.7 2038.8,1342.3 2039.2,1345.6 2039.6,1347.5 2040.1,1348.5 2040.5,1350 2040.9,1345.7 2041.4,1347.2 2041.8,1350 2042.2,1341.4 2042.6,1346.4 2043.1,1350 2043.5,1348 2043.9,1348.6 2044.4,1350 2044.8,1344.2 2045.2,1349.4 2045.7,1345.2 2046.1,1347.2 2046.5,1350 2047,1349.5 2047.4,1349.2 2047.8,1343.1 2048.3,1341.7 2048.7,1347.5 2049.1,1344.1 2049.6,1342.4 2050,1343.6 2050.4,1347 2050.9,1349.4 2051.3,1347.9 2051.7,1347.2 2052.2,1348.2 2052.6,1341.6 2053,1350 2053.4,1345.3 2053.9,1347.5 2054.3,1350 2054.7,1343.5 2055.2,1349.9 2055.6,1344.6 2056,1348.7 2056.5,1340.6"/>
</g>
<g font-size="58.5" text-anchor="middle">
<text transform="translate(329.6,1501) scale(0.965,1)">10</text>
<text transform="translate(545.6,1501) scale(0.965,1)">20</text>
<text transform="translate(761.6,1501) scale(0.965,1)">30</text>
<text transform="translate(977.6,1501) scale(0.965,1)">40</text>
<text transform="translate(1193.6,1501) scale(0.965,1)">50</text>
<text transform="translate(1409.6,1501) scale(0.965,1)">60</text>
<text transform="translate(1625.6,1501) scale(0.965,1)">70</text>
<text transform="translate(1841.6,1501) scale(0.965,1)">80</text>
<text transform="translate(2057.6,1501) scale(0.965,1)">90</text>
</g>
<text x="1140.2" y="1619" font-size="71" text-anchor="middle">2θ <tspan dx="2.5">(°)</tspan></text>
<text transform="translate(92.8,794) rotate(-90)" font-size="71" text-anchor="middle">Intensity (a.u.)</text>
<g fill="#000">
<circle cx="708.7" cy="108.9" r="12.7"/>
<circle cx="896.7" cy="537.1" r="12.7"/>
<circle cx="963.5" cy="892.7" r="12.7"/>
<circle cx="1006.6" cy="724.7" r="12.7"/>
<circle cx="1067.7" cy="878.6" r="12.7"/>
<circle cx="1288.6" cy="468.1" r="12.7"/>
<circle cx="1339.5" cy="797.3" r="12.7"/>
<circle cx="1473.7" cy="869.6" r="12.7"/>
<circle cx="1500.4" cy="894.5" r="12.7"/>
<circle cx="1605.6" cy="795.6" r="12.7"/>
<circle cx="1623.6" cy="858.8" r="12.7"/>
<circle cx="1895.6" cy="918.9" r="12.7"/>
<circle cx="1936.5" cy="929.7" r="12.7"/>
<polygon points="661.1,406.3 677.4,426.8 661.1,447.3 644.9,426.8"/>
<polygon points="909.0,1090.0 925.2,1110.5 909.0,1131.0 892.8,1110.5"/>
<polygon points="931.3,996.4 947.5,1016.9 931.3,1037.4 915.0,1016.9"/>
<polygon points="948.2,1088.5 964.5,1109.0 948.2,1129.5 932.0,1109.0"/>
<polygon points="1154.0,948.6 1170.2,969.1 1154.0,989.6 1137.8,969.1"/>
<polygon points="1279.1,1021.1 1295.3,1041.6 1279.1,1062.1 1262.8,1041.6"/>
<polygon points="1305.3,1029.8 1321.5,1050.3 1305.3,1070.8 1289.0,1050.3"/>
<polygon points="1469.5,1064.7 1485.8,1085.2 1469.5,1105.7 1453.2,1085.2"/>
<polygon points="1602.9,1100.9 1619.2,1121.4 1602.9,1141.9 1586.7,1121.4"/>
<polygon points="1633.3,1105.4 1649.5,1125.9 1633.3,1146.4 1617.0,1125.9"/>
<polygon points="1736.3,1088.5 1752.5,1109.0 1736.3,1129.5 1720.0,1109.0"/>
<polygon points="1757.5,1118.6 1773.8,1139.1 1757.5,1159.6 1741.2,1139.1"/>
<polygon points="1899.4,1101.3 1915.7,1121.8 1899.4,1142.3 1883.2,1121.8"/>
<circle cx="1512.5" cy="235.3" r="12.7"/>
<polygon points="1513.2,321.9 1529.5,342.4 1513.2,362.9 1497.0,342.4"/>
</g>
<text x="1573" y="256.2" font-size="71">TiO<tspan font-size="42.5" dy="23">2</tspan><tspan dy="-23">-rutile</tspan></text>
<text x="1567.5" y="361" font-size="70.7">TiO<tspan font-size="42.5" dy="23">2</tspan><tspan dy="-23">-anatase</tspan></text>
<text x="238.5" y="885.8" font-size="51.6" fill="#ff0000">RuO<tspan font-size="31" dy="16">2</tspan><tspan dy="-16">/TiO</tspan><tspan font-size="31" dy="16">2</tspan><tspan dy="-16">-r</tspan></text>
<text x="236.7" y="1081.5" font-size="51.3" fill="#000">RuO<tspan font-size="31" dy="16">2</tspan><tspan dy="-16">/TiO</tspan><tspan font-size="31" dy="16">2</tspan><tspan dy="-16">-a</tspan></text>
<text x="241.5" y="1272.3" font-size="51.2" fill="#000">RuO<tspan font-size="31" dy="16">2</tspan><tspan dy="-16">/TiO(OH)</tspan><tspan font-size="31" dy="16.5">2</tspan><tspan dy="-16.5"></tspan></text>
</svg></body></html>
